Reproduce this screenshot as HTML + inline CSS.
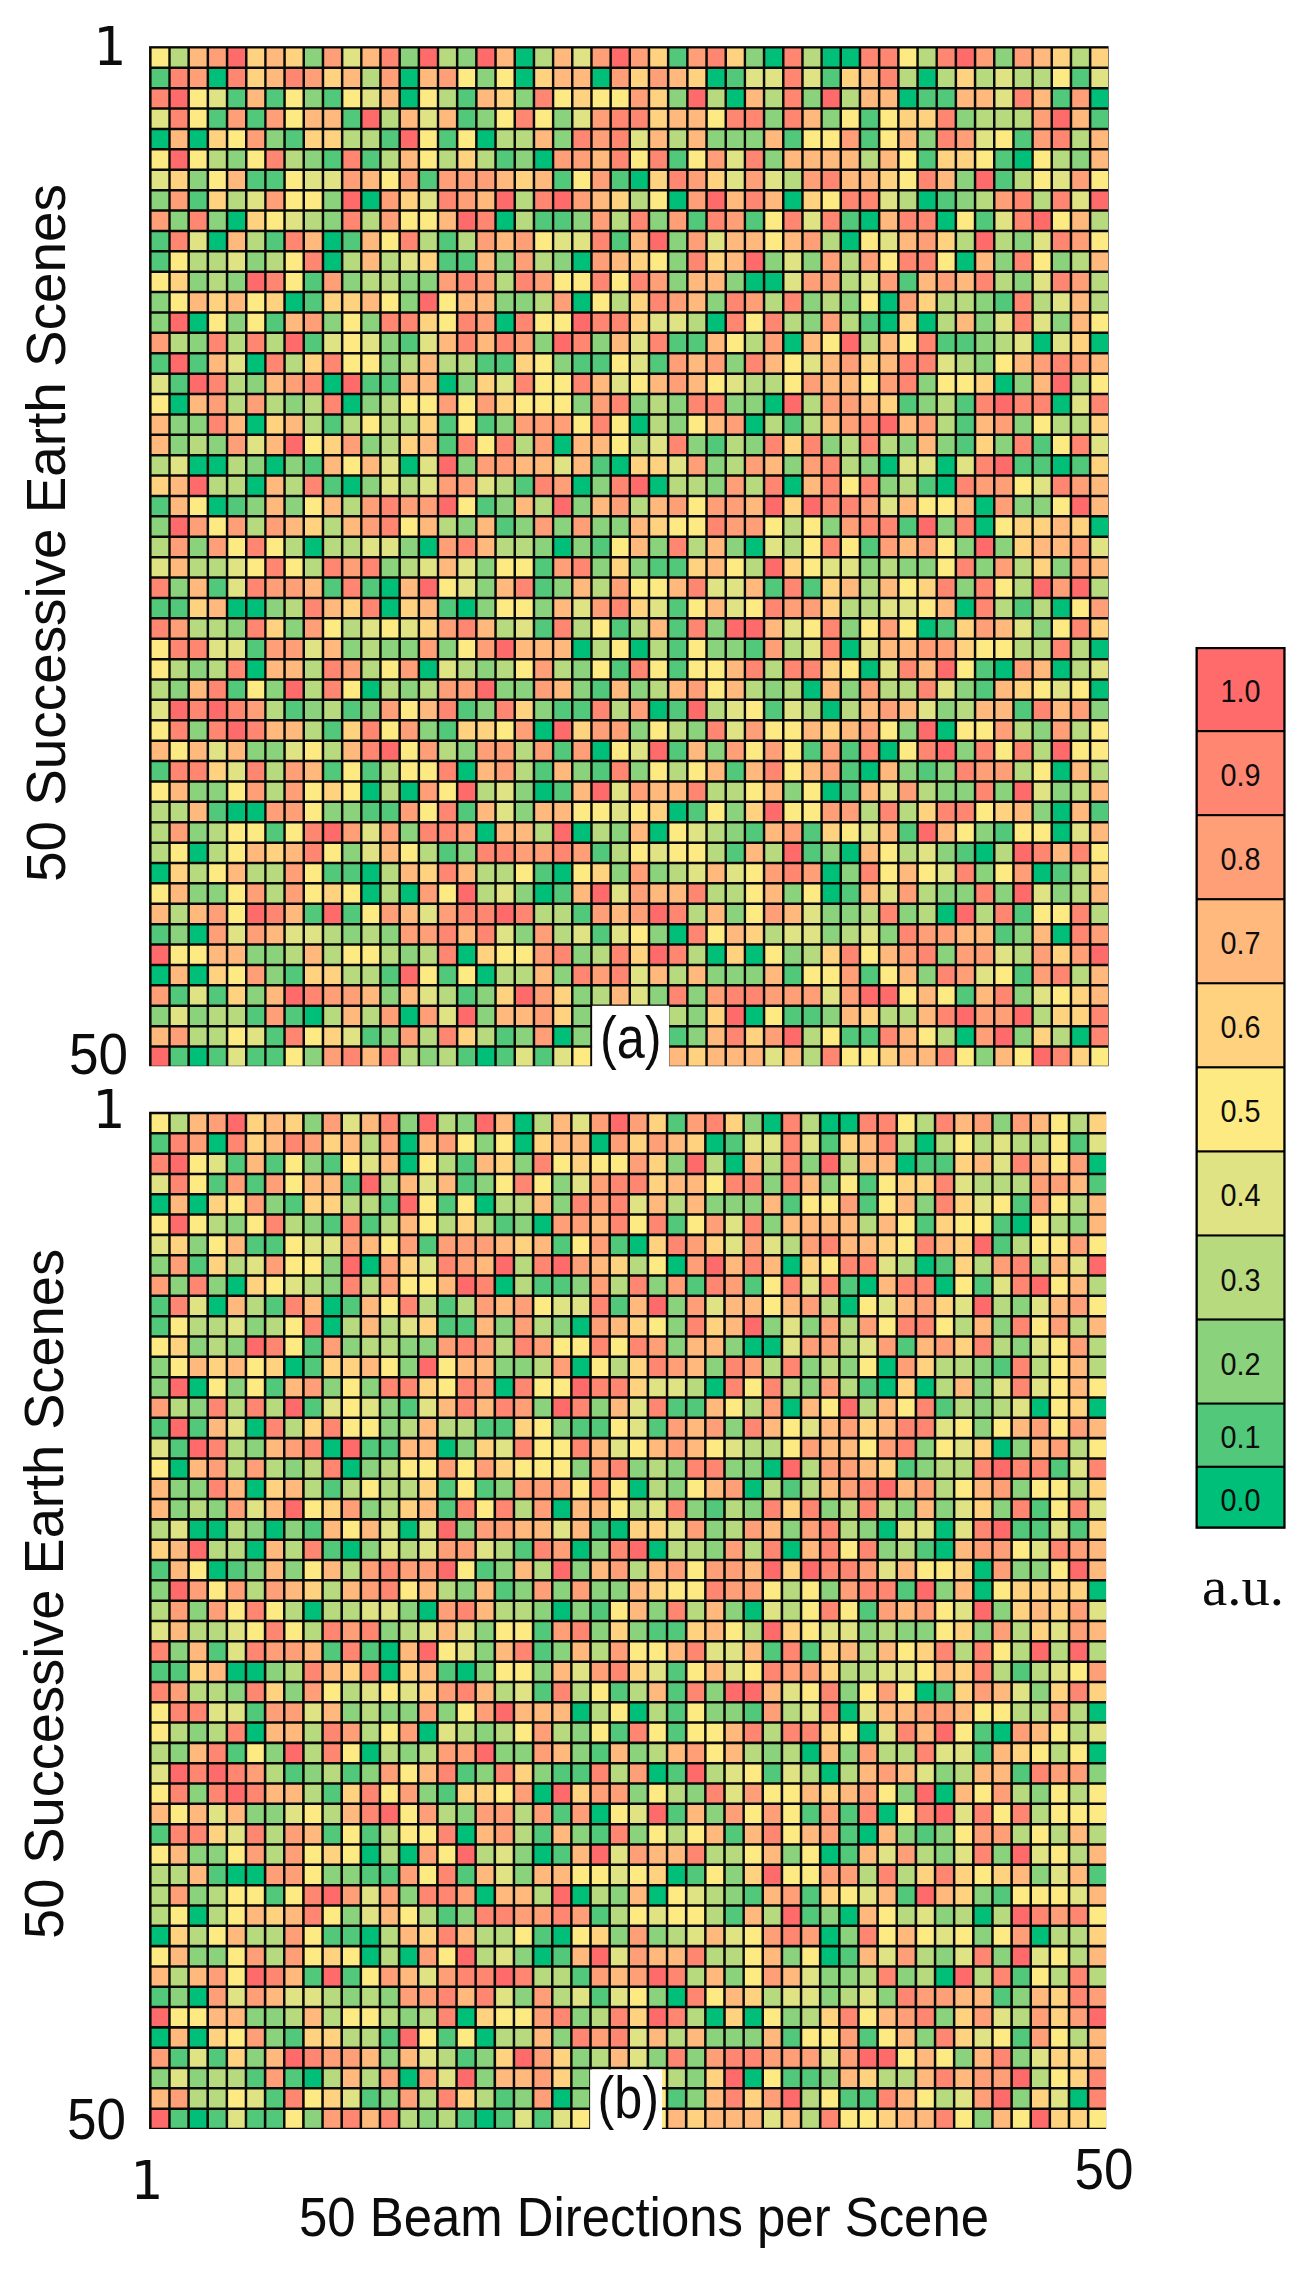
<!DOCTYPE html>
<html lang="en"><head><meta charset="utf-8"><title>Figure</title>
<style>
html,body{margin:0;padding:0;background:#fff;}
body{width:1303px;height:2273px;overflow:hidden;}
svg{display:block;}
text{font-family:"Liberation Sans",sans-serif;fill:#0c0c0c;}
text.cb{font-size:32px;}
text.serif{font-family:"Liberation Serif",serif;}
</style></head><body>
<svg width="1303" height="2273" viewBox="0 0 1303 2273" shape-rendering="geometricPrecision">
<rect width="1303" height="2273" fill="#fff"/>
<rect x="149.05" y="46.15" width="959.55" height="1020.05" fill="#0a0a05"/>
<path fill="#00bf78" d="M516.0 48.6h16.7v17.9h-16.7zM765.3 48.6h16.7v17.9h-16.7zM822.8 48.6h16.7v17.9h-16.7zM842.0 48.6h16.7v17.9h-16.7zM209.1 69.0h16.7v17.9h-16.7zM400.9 69.0h16.7v17.9h-16.7zM516.0 69.0h16.7v17.9h-16.7zM592.7 69.0h16.7v17.9h-16.7zM707.8 69.0h16.7v17.9h-16.7zM918.8 69.0h16.7v17.9h-16.7zM400.9 89.4h16.7v17.9h-16.7zM727.0 89.4h16.7v17.9h-16.7zM899.6 89.4h16.7v17.9h-16.7zM1091.4 89.4h16.7v17.9h-16.7zM151.6 130.2h16.7v17.9h-16.7zM189.9 130.2h16.7v17.9h-16.7zM477.6 130.2h16.7v17.9h-16.7zM535.2 150.6h16.7v17.9h-16.7zM1014.7 150.6h16.7v17.9h-16.7zM631.0 171.0h16.7v17.9h-16.7zM362.5 191.4h16.7v17.9h-16.7zM669.4 191.4h16.7v17.9h-16.7zM784.5 191.4h16.7v17.9h-16.7zM918.8 191.4h16.7v17.9h-16.7zM228.3 211.8h16.7v17.9h-16.7zM496.8 211.8h16.7v17.9h-16.7zM861.2 211.8h16.7v17.9h-16.7zM937.9 211.8h16.7v17.9h-16.7zM209.1 232.2h16.7v17.9h-16.7zM324.2 232.2h16.7v17.9h-16.7zM842.0 232.2h16.7v17.9h-16.7zM324.2 252.6h16.7v17.9h-16.7zM573.5 252.6h16.7v17.9h-16.7zM957.1 252.6h16.7v17.9h-16.7zM746.1 272.9h16.7v17.9h-16.7zM765.3 272.9h16.7v17.9h-16.7zM285.8 293.3h16.7v17.9h-16.7zM573.5 293.3h16.7v17.9h-16.7zM880.4 293.3h16.7v17.9h-16.7zM189.9 313.7h16.7v17.9h-16.7zM496.8 313.7h16.7v17.9h-16.7zM707.8 313.7h16.7v17.9h-16.7zM880.4 313.7h16.7v17.9h-16.7zM918.8 313.7h16.7v17.9h-16.7zM784.5 334.1h16.7v17.9h-16.7zM1033.8 334.1h16.7v17.9h-16.7zM1091.4 334.1h16.7v17.9h-16.7zM247.5 354.5h16.7v17.9h-16.7zM324.2 374.9h16.7v17.9h-16.7zM439.2 374.9h16.7v17.9h-16.7zM995.5 374.9h16.7v17.9h-16.7zM170.7 395.3h16.7v17.9h-16.7zM343.4 395.3h16.7v17.9h-16.7zM765.3 395.3h16.7v17.9h-16.7zM1053.0 395.3h16.7v17.9h-16.7zM247.5 415.7h16.7v17.9h-16.7zM631.0 415.7h16.7v17.9h-16.7zM746.1 415.7h16.7v17.9h-16.7zM554.3 436.1h16.7v17.9h-16.7zM189.9 456.4h16.7v17.9h-16.7zM209.1 456.4h16.7v17.9h-16.7zM266.6 456.4h16.7v17.9h-16.7zM400.9 456.4h16.7v17.9h-16.7zM611.9 456.4h16.7v17.9h-16.7zM880.4 456.4h16.7v17.9h-16.7zM937.9 456.4h16.7v17.9h-16.7zM1053.0 456.4h16.7v17.9h-16.7zM247.5 476.8h16.7v17.9h-16.7zM343.4 476.8h16.7v17.9h-16.7zM573.5 476.8h16.7v17.9h-16.7zM650.2 476.8h16.7v17.9h-16.7zM784.5 476.8h16.7v17.9h-16.7zM937.9 476.8h16.7v17.9h-16.7zM209.1 497.2h16.7v17.9h-16.7zM976.3 497.2h16.7v17.9h-16.7zM976.3 517.6h16.7v17.9h-16.7zM1091.4 517.6h16.7v17.9h-16.7zM305.0 538.0h16.7v17.9h-16.7zM420.1 538.0h16.7v17.9h-16.7zM554.3 538.0h16.7v17.9h-16.7zM746.1 538.0h16.7v17.9h-16.7zM381.7 578.8h16.7v17.9h-16.7zM228.3 599.2h16.7v17.9h-16.7zM247.5 599.2h16.7v17.9h-16.7zM381.7 599.2h16.7v17.9h-16.7zM458.4 599.2h16.7v17.9h-16.7zM957.1 599.2h16.7v17.9h-16.7zM1053.0 599.2h16.7v17.9h-16.7zM918.8 619.6h16.7v17.9h-16.7zM573.5 640.0h16.7v17.9h-16.7zM631.0 640.0h16.7v17.9h-16.7zM842.0 640.0h16.7v17.9h-16.7zM1091.4 640.0h16.7v17.9h-16.7zM247.5 660.4h16.7v17.9h-16.7zM420.1 660.4h16.7v17.9h-16.7zM861.2 660.4h16.7v17.9h-16.7zM995.5 660.4h16.7v17.9h-16.7zM1053.0 660.4h16.7v17.9h-16.7zM362.5 680.7h16.7v17.9h-16.7zM803.7 680.7h16.7v17.9h-16.7zM1091.4 680.7h16.7v17.9h-16.7zM650.2 701.1h16.7v17.9h-16.7zM822.8 701.1h16.7v17.9h-16.7zM535.2 721.5h16.7v17.9h-16.7zM937.9 721.5h16.7v17.9h-16.7zM592.7 741.9h16.7v17.9h-16.7zM880.4 741.9h16.7v17.9h-16.7zM458.4 762.3h16.7v17.9h-16.7zM861.2 762.3h16.7v17.9h-16.7zM1053.0 762.3h16.7v17.9h-16.7zM362.5 782.7h16.7v17.9h-16.7zM400.9 782.7h16.7v17.9h-16.7zM535.2 782.7h16.7v17.9h-16.7zM822.8 782.7h16.7v17.9h-16.7zM228.3 803.1h16.7v17.9h-16.7zM247.5 803.1h16.7v17.9h-16.7zM669.4 803.1h16.7v17.9h-16.7zM1053.0 803.1h16.7v17.9h-16.7zM477.6 823.5h16.7v17.9h-16.7zM573.5 823.5h16.7v17.9h-16.7zM650.2 823.5h16.7v17.9h-16.7zM1053.0 823.5h16.7v17.9h-16.7zM189.9 843.9h16.7v17.9h-16.7zM842.0 843.9h16.7v17.9h-16.7zM976.3 843.9h16.7v17.9h-16.7zM151.6 864.2h16.7v17.9h-16.7zM362.5 864.2h16.7v17.9h-16.7zM554.3 864.2h16.7v17.9h-16.7zM822.8 864.2h16.7v17.9h-16.7zM1033.8 864.2h16.7v17.9h-16.7zM362.5 884.6h16.7v17.9h-16.7zM400.9 884.6h16.7v17.9h-16.7zM535.2 884.6h16.7v17.9h-16.7zM822.8 884.6h16.7v17.9h-16.7zM937.9 905.0h16.7v17.9h-16.7zM189.9 925.4h16.7v17.9h-16.7zM669.4 925.4h16.7v17.9h-16.7zM1053.0 925.4h16.7v17.9h-16.7zM458.4 945.8h16.7v17.9h-16.7zM707.8 945.8h16.7v17.9h-16.7zM746.1 945.8h16.7v17.9h-16.7zM151.6 966.2h16.7v17.9h-16.7zM189.9 966.2h16.7v17.9h-16.7zM477.6 966.2h16.7v17.9h-16.7zM305.0 1007.0h16.7v17.9h-16.7zM400.9 1007.0h16.7v17.9h-16.7zM746.1 1007.0h16.7v17.9h-16.7zM554.3 1027.4h16.7v17.9h-16.7zM957.1 1027.4h16.7v17.9h-16.7zM1072.2 1027.4h16.7v17.9h-16.7zM189.9 1047.8h16.7v17.9h-16.7zM477.6 1047.8h16.7v17.9h-16.7z"/>
<path fill="#52c87b" d="M669.4 48.6h16.7v17.9h-16.7zM151.6 69.0h16.7v17.9h-16.7zM727.0 69.0h16.7v17.9h-16.7zM822.8 69.0h16.7v17.9h-16.7zM1072.2 69.0h16.7v17.9h-16.7zM228.3 89.4h16.7v17.9h-16.7zM266.6 89.4h16.7v17.9h-16.7zM324.2 89.4h16.7v17.9h-16.7zM458.4 89.4h16.7v17.9h-16.7zM918.8 89.4h16.7v17.9h-16.7zM937.9 89.4h16.7v17.9h-16.7zM1053.0 89.4h16.7v17.9h-16.7zM209.1 109.8h16.7v17.9h-16.7zM247.5 109.8h16.7v17.9h-16.7zM343.4 109.8h16.7v17.9h-16.7zM458.4 109.8h16.7v17.9h-16.7zM861.2 109.8h16.7v17.9h-16.7zM1091.4 109.8h16.7v17.9h-16.7zM285.8 130.2h16.7v17.9h-16.7zM381.7 130.2h16.7v17.9h-16.7zM439.2 130.2h16.7v17.9h-16.7zM784.5 130.2h16.7v17.9h-16.7zM861.2 130.2h16.7v17.9h-16.7zM1014.7 130.2h16.7v17.9h-16.7zM324.2 150.6h16.7v17.9h-16.7zM362.5 150.6h16.7v17.9h-16.7zM496.8 150.6h16.7v17.9h-16.7zM669.4 150.6h16.7v17.9h-16.7zM918.8 150.6h16.7v17.9h-16.7zM995.5 150.6h16.7v17.9h-16.7zM247.5 171.0h16.7v17.9h-16.7zM266.6 171.0h16.7v17.9h-16.7zM420.1 171.0h16.7v17.9h-16.7zM554.3 171.0h16.7v17.9h-16.7zM611.9 171.0h16.7v17.9h-16.7zM995.5 171.0h16.7v17.9h-16.7zM189.9 191.4h16.7v17.9h-16.7zM937.9 191.4h16.7v17.9h-16.7zM535.2 211.8h16.7v17.9h-16.7zM554.3 211.8h16.7v17.9h-16.7zM688.6 211.8h16.7v17.9h-16.7zM746.1 211.8h16.7v17.9h-16.7zM842.0 211.8h16.7v17.9h-16.7zM976.3 211.8h16.7v17.9h-16.7zM151.6 232.2h16.7v17.9h-16.7zM266.6 232.2h16.7v17.9h-16.7zM343.4 232.2h16.7v17.9h-16.7zM439.2 232.2h16.7v17.9h-16.7zM611.9 232.2h16.7v17.9h-16.7zM151.6 252.6h16.7v17.9h-16.7zM439.2 252.6h16.7v17.9h-16.7zM458.4 252.6h16.7v17.9h-16.7zM305.0 272.9h16.7v17.9h-16.7zM899.6 272.9h16.7v17.9h-16.7zM305.0 293.3h16.7v17.9h-16.7zM995.5 293.3h16.7v17.9h-16.7zM266.6 313.7h16.7v17.9h-16.7zM861.2 313.7h16.7v17.9h-16.7zM305.0 334.1h16.7v17.9h-16.7zM400.9 334.1h16.7v17.9h-16.7zM669.4 334.1h16.7v17.9h-16.7zM688.6 334.1h16.7v17.9h-16.7zM937.9 334.1h16.7v17.9h-16.7zM957.1 334.1h16.7v17.9h-16.7zM151.6 354.5h16.7v17.9h-16.7zM189.9 354.5h16.7v17.9h-16.7zM477.6 354.5h16.7v17.9h-16.7zM496.8 354.5h16.7v17.9h-16.7zM573.5 354.5h16.7v17.9h-16.7zM592.7 354.5h16.7v17.9h-16.7zM650.2 354.5h16.7v17.9h-16.7zM170.7 374.9h16.7v17.9h-16.7zM362.5 374.9h16.7v17.9h-16.7zM381.7 374.9h16.7v17.9h-16.7zM899.6 395.3h16.7v17.9h-16.7zM957.1 395.3h16.7v17.9h-16.7zM324.2 415.7h16.7v17.9h-16.7zM439.2 415.7h16.7v17.9h-16.7zM477.6 415.7h16.7v17.9h-16.7zM784.5 415.7h16.7v17.9h-16.7zM957.1 415.7h16.7v17.9h-16.7zM439.2 436.1h16.7v17.9h-16.7zM707.8 436.1h16.7v17.9h-16.7zM957.1 436.1h16.7v17.9h-16.7zM1033.8 436.1h16.7v17.9h-16.7zM305.0 456.4h16.7v17.9h-16.7zM592.7 456.4h16.7v17.9h-16.7zM1014.7 456.4h16.7v17.9h-16.7zM1033.8 456.4h16.7v17.9h-16.7zM1072.2 456.4h16.7v17.9h-16.7zM324.2 476.8h16.7v17.9h-16.7zM516.0 476.8h16.7v17.9h-16.7zM918.8 476.8h16.7v17.9h-16.7zM151.6 497.2h16.7v17.9h-16.7zM228.3 497.2h16.7v17.9h-16.7zM477.6 497.2h16.7v17.9h-16.7zM496.8 517.6h16.7v17.9h-16.7zM899.6 517.6h16.7v17.9h-16.7zM592.7 538.0h16.7v17.9h-16.7zM861.2 538.0h16.7v17.9h-16.7zM535.2 558.4h16.7v17.9h-16.7zM650.2 558.4h16.7v17.9h-16.7zM669.4 558.4h16.7v17.9h-16.7zM209.1 578.8h16.7v17.9h-16.7zM324.2 578.8h16.7v17.9h-16.7zM362.5 578.8h16.7v17.9h-16.7zM535.2 578.8h16.7v17.9h-16.7zM765.3 578.8h16.7v17.9h-16.7zM803.7 578.8h16.7v17.9h-16.7zM151.6 599.2h16.7v17.9h-16.7zM170.7 599.2h16.7v17.9h-16.7zM439.2 599.2h16.7v17.9h-16.7zM669.4 599.2h16.7v17.9h-16.7zM1014.7 599.2h16.7v17.9h-16.7zM535.2 619.6h16.7v17.9h-16.7zM611.9 619.6h16.7v17.9h-16.7zM669.4 619.6h16.7v17.9h-16.7zM937.9 619.6h16.7v17.9h-16.7zM247.5 640.0h16.7v17.9h-16.7zM669.4 640.0h16.7v17.9h-16.7zM746.1 640.0h16.7v17.9h-16.7zM611.9 660.4h16.7v17.9h-16.7zM669.4 660.4h16.7v17.9h-16.7zM976.3 660.4h16.7v17.9h-16.7zM228.3 680.7h16.7v17.9h-16.7zM592.7 680.7h16.7v17.9h-16.7zM976.3 680.7h16.7v17.9h-16.7zM285.8 701.1h16.7v17.9h-16.7zM343.4 701.1h16.7v17.9h-16.7zM458.4 701.1h16.7v17.9h-16.7zM554.3 701.1h16.7v17.9h-16.7zM573.5 701.1h16.7v17.9h-16.7zM669.4 701.1h16.7v17.9h-16.7zM765.3 701.1h16.7v17.9h-16.7zM1014.7 701.1h16.7v17.9h-16.7zM324.2 721.5h16.7v17.9h-16.7zM439.2 721.5h16.7v17.9h-16.7zM554.3 741.9h16.7v17.9h-16.7zM669.4 741.9h16.7v17.9h-16.7zM803.7 741.9h16.7v17.9h-16.7zM842.0 741.9h16.7v17.9h-16.7zM151.6 762.3h16.7v17.9h-16.7zM324.2 762.3h16.7v17.9h-16.7zM362.5 762.3h16.7v17.9h-16.7zM535.2 762.3h16.7v17.9h-16.7zM592.7 762.3h16.7v17.9h-16.7zM727.0 762.3h16.7v17.9h-16.7zM842.0 762.3h16.7v17.9h-16.7zM918.8 762.3h16.7v17.9h-16.7zM554.3 782.7h16.7v17.9h-16.7zM842.0 782.7h16.7v17.9h-16.7zM209.1 803.1h16.7v17.9h-16.7zM362.5 803.1h16.7v17.9h-16.7zM381.7 803.1h16.7v17.9h-16.7zM458.4 803.1h16.7v17.9h-16.7zM688.6 803.1h16.7v17.9h-16.7zM1091.4 803.1h16.7v17.9h-16.7zM266.6 823.5h16.7v17.9h-16.7zM746.1 823.5h16.7v17.9h-16.7zM803.7 823.5h16.7v17.9h-16.7zM899.6 823.5h16.7v17.9h-16.7zM995.5 823.5h16.7v17.9h-16.7zM439.2 843.9h16.7v17.9h-16.7zM592.7 843.9h16.7v17.9h-16.7zM727.0 843.9h16.7v17.9h-16.7zM803.7 843.9h16.7v17.9h-16.7zM957.1 843.9h16.7v17.9h-16.7zM324.2 864.2h16.7v17.9h-16.7zM343.4 864.2h16.7v17.9h-16.7zM535.2 864.2h16.7v17.9h-16.7zM1053.0 864.2h16.7v17.9h-16.7zM554.3 884.6h16.7v17.9h-16.7zM842.0 884.6h16.7v17.9h-16.7zM305.0 905.0h16.7v17.9h-16.7zM343.4 905.0h16.7v17.9h-16.7zM573.5 905.0h16.7v17.9h-16.7zM1014.7 905.0h16.7v17.9h-16.7zM151.6 925.4h16.7v17.9h-16.7zM592.7 925.4h16.7v17.9h-16.7zM995.5 925.4h16.7v17.9h-16.7zM285.8 966.2h16.7v17.9h-16.7zM381.7 966.2h16.7v17.9h-16.7zM439.2 966.2h16.7v17.9h-16.7zM784.5 966.2h16.7v17.9h-16.7zM861.2 966.2h16.7v17.9h-16.7zM1014.7 966.2h16.7v17.9h-16.7zM170.7 986.6h16.7v17.9h-16.7zM209.1 986.6h16.7v17.9h-16.7zM458.4 986.6h16.7v17.9h-16.7zM957.1 986.6h16.7v17.9h-16.7zM247.5 1007.0h16.7v17.9h-16.7zM285.8 1007.0h16.7v17.9h-16.7zM784.5 1007.0h16.7v17.9h-16.7zM803.7 1007.0h16.7v17.9h-16.7zM266.6 1027.4h16.7v17.9h-16.7zM362.5 1027.4h16.7v17.9h-16.7zM496.8 1027.4h16.7v17.9h-16.7zM669.4 1027.4h16.7v17.9h-16.7zM842.0 1027.4h16.7v17.9h-16.7zM861.2 1027.4h16.7v17.9h-16.7zM170.7 1047.8h16.7v17.9h-16.7zM209.1 1047.8h16.7v17.9h-16.7zM247.5 1047.8h16.7v17.9h-16.7zM266.6 1047.8h16.7v17.9h-16.7zM458.4 1047.8h16.7v17.9h-16.7zM496.8 1047.8h16.7v17.9h-16.7zM535.2 1047.8h16.7v17.9h-16.7z"/>
<path fill="#8bd27d" d="M305.0 48.6h16.7v17.9h-16.7zM400.9 48.6h16.7v17.9h-16.7zM458.4 48.6h16.7v17.9h-16.7zM746.1 48.6h16.7v17.9h-16.7zM995.5 48.6h16.7v17.9h-16.7zM477.6 69.0h16.7v17.9h-16.7zM305.0 89.4h16.7v17.9h-16.7zM516.0 89.4h16.7v17.9h-16.7zM669.4 89.4h16.7v17.9h-16.7zM803.7 89.4h16.7v17.9h-16.7zM477.6 109.8h16.7v17.9h-16.7zM554.3 109.8h16.7v17.9h-16.7zM765.3 109.8h16.7v17.9h-16.7zM822.8 109.8h16.7v17.9h-16.7zM957.1 109.8h16.7v17.9h-16.7zM266.6 130.2h16.7v17.9h-16.7zM554.3 130.2h16.7v17.9h-16.7zM707.8 130.2h16.7v17.9h-16.7zM727.0 130.2h16.7v17.9h-16.7zM746.1 130.2h16.7v17.9h-16.7zM918.8 130.2h16.7v17.9h-16.7zM228.3 150.6h16.7v17.9h-16.7zM305.0 150.6h16.7v17.9h-16.7zM516.0 150.6h16.7v17.9h-16.7zM765.3 150.6h16.7v17.9h-16.7zM1072.2 150.6h16.7v17.9h-16.7zM189.9 171.0h16.7v17.9h-16.7zM957.1 171.0h16.7v17.9h-16.7zM151.6 191.4h16.7v17.9h-16.7zM324.2 191.4h16.7v17.9h-16.7zM957.1 191.4h16.7v17.9h-16.7zM170.7 211.8h16.7v17.9h-16.7zM209.1 211.8h16.7v17.9h-16.7zM324.2 211.8h16.7v17.9h-16.7zM573.5 211.8h16.7v17.9h-16.7zM650.2 211.8h16.7v17.9h-16.7zM669.4 232.2h16.7v17.9h-16.7zM1014.7 232.2h16.7v17.9h-16.7zM247.5 252.6h16.7v17.9h-16.7zM496.8 252.6h16.7v17.9h-16.7zM554.3 252.6h16.7v17.9h-16.7zM669.4 252.6h16.7v17.9h-16.7zM765.3 252.6h16.7v17.9h-16.7zM803.7 252.6h16.7v17.9h-16.7zM995.5 252.6h16.7v17.9h-16.7zM1053.0 252.6h16.7v17.9h-16.7zM189.9 272.9h16.7v17.9h-16.7zM228.3 272.9h16.7v17.9h-16.7zM343.4 272.9h16.7v17.9h-16.7zM400.9 272.9h16.7v17.9h-16.7zM420.1 272.9h16.7v17.9h-16.7zM669.4 272.9h16.7v17.9h-16.7zM727.0 272.9h16.7v17.9h-16.7zM1014.7 272.9h16.7v17.9h-16.7zM151.6 293.3h16.7v17.9h-16.7zM400.9 293.3h16.7v17.9h-16.7zM496.8 293.3h16.7v17.9h-16.7zM516.0 293.3h16.7v17.9h-16.7zM707.8 293.3h16.7v17.9h-16.7zM803.7 293.3h16.7v17.9h-16.7zM842.0 293.3h16.7v17.9h-16.7zM976.3 293.3h16.7v17.9h-16.7zM151.6 313.7h16.7v17.9h-16.7zM228.3 313.7h16.7v17.9h-16.7zM324.2 313.7h16.7v17.9h-16.7zM362.5 313.7h16.7v17.9h-16.7zM803.7 313.7h16.7v17.9h-16.7zM976.3 313.7h16.7v17.9h-16.7zM1053.0 313.7h16.7v17.9h-16.7zM189.9 334.1h16.7v17.9h-16.7zM381.7 334.1h16.7v17.9h-16.7zM535.2 334.1h16.7v17.9h-16.7zM592.7 334.1h16.7v17.9h-16.7zM976.3 334.1h16.7v17.9h-16.7zM381.7 354.5h16.7v17.9h-16.7zM554.3 354.5h16.7v17.9h-16.7zM727.0 354.5h16.7v17.9h-16.7zM976.3 354.5h16.7v17.9h-16.7zM247.5 374.9h16.7v17.9h-16.7zM458.4 374.9h16.7v17.9h-16.7zM918.8 374.9h16.7v17.9h-16.7zM1014.7 374.9h16.7v17.9h-16.7zM285.8 395.3h16.7v17.9h-16.7zM362.5 395.3h16.7v17.9h-16.7zM573.5 395.3h16.7v17.9h-16.7zM631.0 395.3h16.7v17.9h-16.7zM669.4 395.3h16.7v17.9h-16.7zM727.0 395.3h16.7v17.9h-16.7zM746.1 395.3h16.7v17.9h-16.7zM918.8 395.3h16.7v17.9h-16.7zM170.7 415.7h16.7v17.9h-16.7zM189.9 415.7h16.7v17.9h-16.7zM496.8 415.7h16.7v17.9h-16.7zM669.4 415.7h16.7v17.9h-16.7zM1014.7 415.7h16.7v17.9h-16.7zM170.7 436.1h16.7v17.9h-16.7zM209.1 436.1h16.7v17.9h-16.7zM362.5 436.1h16.7v17.9h-16.7zM688.6 436.1h16.7v17.9h-16.7zM746.1 436.1h16.7v17.9h-16.7zM822.8 436.1h16.7v17.9h-16.7zM899.6 436.1h16.7v17.9h-16.7zM937.9 436.1h16.7v17.9h-16.7zM995.5 436.1h16.7v17.9h-16.7zM247.5 456.4h16.7v17.9h-16.7zM285.8 456.4h16.7v17.9h-16.7zM458.4 456.4h16.7v17.9h-16.7zM707.8 456.4h16.7v17.9h-16.7zM784.5 456.4h16.7v17.9h-16.7zM861.2 456.4h16.7v17.9h-16.7zM362.5 476.8h16.7v17.9h-16.7zM592.7 476.8h16.7v17.9h-16.7zM707.8 476.8h16.7v17.9h-16.7zM880.4 476.8h16.7v17.9h-16.7zM247.5 497.2h16.7v17.9h-16.7zM285.8 497.2h16.7v17.9h-16.7zM496.8 497.2h16.7v17.9h-16.7zM573.5 497.2h16.7v17.9h-16.7zM1014.7 497.2h16.7v17.9h-16.7zM1033.8 497.2h16.7v17.9h-16.7zM151.6 517.6h16.7v17.9h-16.7zM458.4 517.6h16.7v17.9h-16.7zM516.0 517.6h16.7v17.9h-16.7zM554.3 517.6h16.7v17.9h-16.7zM592.7 517.6h16.7v17.9h-16.7zM611.9 517.6h16.7v17.9h-16.7zM822.8 517.6h16.7v17.9h-16.7zM937.9 517.6h16.7v17.9h-16.7zM189.9 538.0h16.7v17.9h-16.7zM400.9 538.0h16.7v17.9h-16.7zM535.2 538.0h16.7v17.9h-16.7zM573.5 538.0h16.7v17.9h-16.7zM650.2 538.0h16.7v17.9h-16.7zM727.0 538.0h16.7v17.9h-16.7zM957.1 538.0h16.7v17.9h-16.7zM995.5 538.0h16.7v17.9h-16.7zM381.7 558.4h16.7v17.9h-16.7zM477.6 558.4h16.7v17.9h-16.7zM592.7 558.4h16.7v17.9h-16.7zM631.0 558.4h16.7v17.9h-16.7zM861.2 558.4h16.7v17.9h-16.7zM899.6 558.4h16.7v17.9h-16.7zM918.8 558.4h16.7v17.9h-16.7zM976.3 558.4h16.7v17.9h-16.7zM1053.0 558.4h16.7v17.9h-16.7zM170.7 578.8h16.7v17.9h-16.7zM477.6 578.8h16.7v17.9h-16.7zM554.3 578.8h16.7v17.9h-16.7zM957.1 578.8h16.7v17.9h-16.7zM266.6 599.2h16.7v17.9h-16.7zM477.6 599.2h16.7v17.9h-16.7zM535.2 599.2h16.7v17.9h-16.7zM228.3 619.6h16.7v17.9h-16.7zM285.8 619.6h16.7v17.9h-16.7zM707.8 619.6h16.7v17.9h-16.7zM842.0 619.6h16.7v17.9h-16.7zM1033.8 619.6h16.7v17.9h-16.7zM343.4 640.0h16.7v17.9h-16.7zM381.7 640.0h16.7v17.9h-16.7zM400.9 640.0h16.7v17.9h-16.7zM439.2 640.0h16.7v17.9h-16.7zM707.8 640.0h16.7v17.9h-16.7zM727.0 640.0h16.7v17.9h-16.7zM189.9 660.4h16.7v17.9h-16.7zM477.6 660.4h16.7v17.9h-16.7zM573.5 660.4h16.7v17.9h-16.7zM170.7 680.7h16.7v17.9h-16.7zM266.6 680.7h16.7v17.9h-16.7zM400.9 680.7h16.7v17.9h-16.7zM496.8 680.7h16.7v17.9h-16.7zM516.0 680.7h16.7v17.9h-16.7zM573.5 680.7h16.7v17.9h-16.7zM631.0 680.7h16.7v17.9h-16.7zM765.3 680.7h16.7v17.9h-16.7zM842.0 680.7h16.7v17.9h-16.7zM957.1 680.7h16.7v17.9h-16.7zM305.0 701.1h16.7v17.9h-16.7zM362.5 701.1h16.7v17.9h-16.7zM477.6 701.1h16.7v17.9h-16.7zM535.2 701.1h16.7v17.9h-16.7zM937.9 701.1h16.7v17.9h-16.7zM1091.4 701.1h16.7v17.9h-16.7zM189.9 721.5h16.7v17.9h-16.7zM420.1 721.5h16.7v17.9h-16.7zM631.0 721.5h16.7v17.9h-16.7zM688.6 721.5h16.7v17.9h-16.7zM899.6 721.5h16.7v17.9h-16.7zM1033.8 721.5h16.7v17.9h-16.7zM247.5 741.9h16.7v17.9h-16.7zM266.6 741.9h16.7v17.9h-16.7zM458.4 741.9h16.7v17.9h-16.7zM707.8 741.9h16.7v17.9h-16.7zM957.1 741.9h16.7v17.9h-16.7zM573.5 762.3h16.7v17.9h-16.7zM631.0 762.3h16.7v17.9h-16.7zM899.6 762.3h16.7v17.9h-16.7zM937.9 762.3h16.7v17.9h-16.7zM189.9 782.7h16.7v17.9h-16.7zM209.1 782.7h16.7v17.9h-16.7zM516.0 782.7h16.7v17.9h-16.7zM784.5 782.7h16.7v17.9h-16.7zM937.9 782.7h16.7v17.9h-16.7zM957.1 782.7h16.7v17.9h-16.7zM995.5 782.7h16.7v17.9h-16.7zM1053.0 782.7h16.7v17.9h-16.7zM324.2 803.1h16.7v17.9h-16.7zM343.4 803.1h16.7v17.9h-16.7zM516.0 803.1h16.7v17.9h-16.7zM727.0 803.1h16.7v17.9h-16.7zM1033.8 803.1h16.7v17.9h-16.7zM189.9 823.5h16.7v17.9h-16.7zM400.9 823.5h16.7v17.9h-16.7zM611.9 823.5h16.7v17.9h-16.7zM727.0 823.5h16.7v17.9h-16.7zM976.3 823.5h16.7v17.9h-16.7zM343.4 843.9h16.7v17.9h-16.7zM458.4 843.9h16.7v17.9h-16.7zM822.8 843.9h16.7v17.9h-16.7zM937.9 843.9h16.7v17.9h-16.7zM611.9 864.2h16.7v17.9h-16.7zM650.2 864.2h16.7v17.9h-16.7zM842.0 864.2h16.7v17.9h-16.7zM976.3 864.2h16.7v17.9h-16.7zM189.9 884.6h16.7v17.9h-16.7zM209.1 884.6h16.7v17.9h-16.7zM516.0 884.6h16.7v17.9h-16.7zM784.5 884.6h16.7v17.9h-16.7zM937.9 884.6h16.7v17.9h-16.7zM957.1 884.6h16.7v17.9h-16.7zM995.5 884.6h16.7v17.9h-16.7zM1053.0 884.6h16.7v17.9h-16.7zM727.0 905.0h16.7v17.9h-16.7zM822.8 905.0h16.7v17.9h-16.7zM842.0 905.0h16.7v17.9h-16.7zM899.6 905.0h16.7v17.9h-16.7zM170.7 925.4h16.7v17.9h-16.7zM343.4 925.4h16.7v17.9h-16.7zM381.7 925.4h16.7v17.9h-16.7zM516.0 925.4h16.7v17.9h-16.7zM650.2 925.4h16.7v17.9h-16.7zM822.8 925.4h16.7v17.9h-16.7zM880.4 925.4h16.7v17.9h-16.7zM1014.7 925.4h16.7v17.9h-16.7zM247.5 945.8h16.7v17.9h-16.7zM266.6 945.8h16.7v17.9h-16.7zM400.9 945.8h16.7v17.9h-16.7zM573.5 945.8h16.7v17.9h-16.7zM784.5 945.8h16.7v17.9h-16.7zM937.9 945.8h16.7v17.9h-16.7zM266.6 966.2h16.7v17.9h-16.7zM554.3 966.2h16.7v17.9h-16.7zM707.8 966.2h16.7v17.9h-16.7zM727.0 966.2h16.7v17.9h-16.7zM746.1 966.2h16.7v17.9h-16.7zM918.8 966.2h16.7v17.9h-16.7zM247.5 986.6h16.7v17.9h-16.7zM381.7 986.6h16.7v17.9h-16.7zM477.6 986.6h16.7v17.9h-16.7zM573.5 986.6h16.7v17.9h-16.7zM650.2 986.6h16.7v17.9h-16.7zM688.6 986.6h16.7v17.9h-16.7zM1014.7 986.6h16.7v17.9h-16.7zM151.6 1007.0h16.7v17.9h-16.7zM189.9 1007.0h16.7v17.9h-16.7zM477.6 1007.0h16.7v17.9h-16.7zM573.5 1007.0h16.7v17.9h-16.7zM688.6 1007.0h16.7v17.9h-16.7zM822.8 1007.0h16.7v17.9h-16.7zM381.7 1027.4h16.7v17.9h-16.7zM516.0 1027.4h16.7v17.9h-16.7zM573.5 1027.4h16.7v17.9h-16.7zM688.6 1027.4h16.7v17.9h-16.7zM1014.7 1027.4h16.7v17.9h-16.7zM305.0 1047.8h16.7v17.9h-16.7zM420.1 1047.8h16.7v17.9h-16.7zM976.3 1047.8h16.7v17.9h-16.7z"/>
<path fill="#b8da7e" d="M170.7 48.6h16.7v17.9h-16.7zM439.2 48.6h16.7v17.9h-16.7zM535.2 48.6h16.7v17.9h-16.7zM803.7 48.6h16.7v17.9h-16.7zM918.8 48.6h16.7v17.9h-16.7zM1072.2 48.6h16.7v17.9h-16.7zM362.5 69.0h16.7v17.9h-16.7zM899.6 69.0h16.7v17.9h-16.7zM937.9 69.0h16.7v17.9h-16.7zM976.3 69.0h16.7v17.9h-16.7zM1014.7 69.0h16.7v17.9h-16.7zM1033.8 69.0h16.7v17.9h-16.7zM439.2 89.4h16.7v17.9h-16.7zM707.8 89.4h16.7v17.9h-16.7zM765.3 89.4h16.7v17.9h-16.7zM842.0 89.4h16.7v17.9h-16.7zM381.7 109.8h16.7v17.9h-16.7zM976.3 109.8h16.7v17.9h-16.7zM995.5 109.8h16.7v17.9h-16.7zM1014.7 109.8h16.7v17.9h-16.7zM343.4 130.2h16.7v17.9h-16.7zM362.5 130.2h16.7v17.9h-16.7zM496.8 130.2h16.7v17.9h-16.7zM516.0 130.2h16.7v17.9h-16.7zM669.4 130.2h16.7v17.9h-16.7zM1072.2 130.2h16.7v17.9h-16.7zM209.1 150.6h16.7v17.9h-16.7zM285.8 150.6h16.7v17.9h-16.7zM381.7 150.6h16.7v17.9h-16.7zM439.2 150.6h16.7v17.9h-16.7zM477.6 150.6h16.7v17.9h-16.7zM861.2 150.6h16.7v17.9h-16.7zM1053.0 150.6h16.7v17.9h-16.7zM784.5 171.0h16.7v17.9h-16.7zM1014.7 171.0h16.7v17.9h-16.7zM228.3 191.4h16.7v17.9h-16.7zM516.0 191.4h16.7v17.9h-16.7zM631.0 191.4h16.7v17.9h-16.7zM899.6 191.4h16.7v17.9h-16.7zM976.3 191.4h16.7v17.9h-16.7zM1033.8 191.4h16.7v17.9h-16.7zM305.0 211.8h16.7v17.9h-16.7zM362.5 211.8h16.7v17.9h-16.7zM516.0 211.8h16.7v17.9h-16.7zM611.9 211.8h16.7v17.9h-16.7zM1091.4 211.8h16.7v17.9h-16.7zM247.5 232.2h16.7v17.9h-16.7zM420.1 232.2h16.7v17.9h-16.7zM458.4 232.2h16.7v17.9h-16.7zM822.8 232.2h16.7v17.9h-16.7zM957.1 232.2h16.7v17.9h-16.7zM995.5 232.2h16.7v17.9h-16.7zM189.9 252.6h16.7v17.9h-16.7zM209.1 252.6h16.7v17.9h-16.7zM266.6 252.6h16.7v17.9h-16.7zM343.4 252.6h16.7v17.9h-16.7zM381.7 252.6h16.7v17.9h-16.7zM535.2 252.6h16.7v17.9h-16.7zM842.0 252.6h16.7v17.9h-16.7zM1072.2 252.6h16.7v17.9h-16.7zM209.1 272.9h16.7v17.9h-16.7zM362.5 272.9h16.7v17.9h-16.7zM381.7 272.9h16.7v17.9h-16.7zM496.8 272.9h16.7v17.9h-16.7zM842.0 272.9h16.7v17.9h-16.7zM995.5 272.9h16.7v17.9h-16.7zM1091.4 272.9h16.7v17.9h-16.7zM535.2 293.3h16.7v17.9h-16.7zM611.9 293.3h16.7v17.9h-16.7zM765.3 293.3h16.7v17.9h-16.7zM822.8 293.3h16.7v17.9h-16.7zM937.9 293.3h16.7v17.9h-16.7zM957.1 293.3h16.7v17.9h-16.7zM1033.8 293.3h16.7v17.9h-16.7zM1091.4 293.3h16.7v17.9h-16.7zM688.6 313.7h16.7v17.9h-16.7zM784.5 313.7h16.7v17.9h-16.7zM842.0 313.7h16.7v17.9h-16.7zM937.9 313.7h16.7v17.9h-16.7zM170.7 334.1h16.7v17.9h-16.7zM228.3 334.1h16.7v17.9h-16.7zM266.6 334.1h16.7v17.9h-16.7zM746.1 334.1h16.7v17.9h-16.7zM861.2 334.1h16.7v17.9h-16.7zM995.5 334.1h16.7v17.9h-16.7zM285.8 354.5h16.7v17.9h-16.7zM400.9 354.5h16.7v17.9h-16.7zM439.2 354.5h16.7v17.9h-16.7zM458.4 354.5h16.7v17.9h-16.7zM957.1 354.5h16.7v17.9h-16.7zM228.3 374.9h16.7v17.9h-16.7zM746.1 374.9h16.7v17.9h-16.7zM765.3 374.9h16.7v17.9h-16.7zM1072.2 374.9h16.7v17.9h-16.7zM228.3 395.3h16.7v17.9h-16.7zM266.6 395.3h16.7v17.9h-16.7zM305.0 395.3h16.7v17.9h-16.7zM381.7 395.3h16.7v17.9h-16.7zM650.2 395.3h16.7v17.9h-16.7zM803.7 395.3h16.7v17.9h-16.7zM937.9 395.3h16.7v17.9h-16.7zM305.0 415.7h16.7v17.9h-16.7zM343.4 415.7h16.7v17.9h-16.7zM381.7 415.7h16.7v17.9h-16.7zM400.9 415.7h16.7v17.9h-16.7zM650.2 415.7h16.7v17.9h-16.7zM765.3 415.7h16.7v17.9h-16.7zM803.7 415.7h16.7v17.9h-16.7zM937.9 415.7h16.7v17.9h-16.7zM1053.0 415.7h16.7v17.9h-16.7zM1072.2 415.7h16.7v17.9h-16.7zM189.9 436.1h16.7v17.9h-16.7zM381.7 436.1h16.7v17.9h-16.7zM516.0 436.1h16.7v17.9h-16.7zM631.0 436.1h16.7v17.9h-16.7zM727.0 436.1h16.7v17.9h-16.7zM842.0 436.1h16.7v17.9h-16.7zM880.4 436.1h16.7v17.9h-16.7zM151.6 456.4h16.7v17.9h-16.7zM228.3 456.4h16.7v17.9h-16.7zM727.0 456.4h16.7v17.9h-16.7zM842.0 456.4h16.7v17.9h-16.7zM209.1 476.8h16.7v17.9h-16.7zM228.3 476.8h16.7v17.9h-16.7zM285.8 476.8h16.7v17.9h-16.7zM400.9 476.8h16.7v17.9h-16.7zM496.8 476.8h16.7v17.9h-16.7zM669.4 476.8h16.7v17.9h-16.7zM688.6 476.8h16.7v17.9h-16.7zM746.1 476.8h16.7v17.9h-16.7zM899.6 476.8h16.7v17.9h-16.7zM343.4 497.2h16.7v17.9h-16.7zM535.2 497.2h16.7v17.9h-16.7zM631.0 497.2h16.7v17.9h-16.7zM247.5 517.6h16.7v17.9h-16.7zM324.2 517.6h16.7v17.9h-16.7zM439.2 517.6h16.7v17.9h-16.7zM784.5 517.6h16.7v17.9h-16.7zM151.6 538.0h16.7v17.9h-16.7zM285.8 538.0h16.7v17.9h-16.7zM324.2 538.0h16.7v17.9h-16.7zM343.4 538.0h16.7v17.9h-16.7zM496.8 538.0h16.7v17.9h-16.7zM516.0 538.0h16.7v17.9h-16.7zM688.6 538.0h16.7v17.9h-16.7zM784.5 538.0h16.7v17.9h-16.7zM189.9 558.4h16.7v17.9h-16.7zM209.1 558.4h16.7v17.9h-16.7zM305.0 558.4h16.7v17.9h-16.7zM400.9 558.4h16.7v17.9h-16.7zM746.1 558.4h16.7v17.9h-16.7zM880.4 558.4h16.7v17.9h-16.7zM1014.7 558.4h16.7v17.9h-16.7zM592.7 578.8h16.7v17.9h-16.7zM861.2 578.8h16.7v17.9h-16.7zM1014.7 578.8h16.7v17.9h-16.7zM1091.4 578.8h16.7v17.9h-16.7zM285.8 599.2h16.7v17.9h-16.7zM842.0 599.2h16.7v17.9h-16.7zM861.2 599.2h16.7v17.9h-16.7zM995.5 599.2h16.7v17.9h-16.7zM1033.8 599.2h16.7v17.9h-16.7zM189.9 619.6h16.7v17.9h-16.7zM209.1 619.6h16.7v17.9h-16.7zM343.4 619.6h16.7v17.9h-16.7zM496.8 619.6h16.7v17.9h-16.7zM573.5 619.6h16.7v17.9h-16.7zM631.0 619.6h16.7v17.9h-16.7zM362.5 640.0h16.7v17.9h-16.7zM592.7 640.0h16.7v17.9h-16.7zM650.2 640.0h16.7v17.9h-16.7zM784.5 640.0h16.7v17.9h-16.7zM1014.7 640.0h16.7v17.9h-16.7zM1033.8 640.0h16.7v17.9h-16.7zM1072.2 640.0h16.7v17.9h-16.7zM170.7 660.4h16.7v17.9h-16.7zM209.1 660.4h16.7v17.9h-16.7zM305.0 660.4h16.7v17.9h-16.7zM362.5 660.4h16.7v17.9h-16.7zM458.4 660.4h16.7v17.9h-16.7zM496.8 660.4h16.7v17.9h-16.7zM554.3 660.4h16.7v17.9h-16.7zM765.3 660.4h16.7v17.9h-16.7zM1072.2 660.4h16.7v17.9h-16.7zM151.6 680.7h16.7v17.9h-16.7zM305.0 680.7h16.7v17.9h-16.7zM381.7 680.7h16.7v17.9h-16.7zM420.1 680.7h16.7v17.9h-16.7zM650.2 680.7h16.7v17.9h-16.7zM746.1 680.7h16.7v17.9h-16.7zM784.5 680.7h16.7v17.9h-16.7zM880.4 680.7h16.7v17.9h-16.7zM899.6 680.7h16.7v17.9h-16.7zM266.6 701.1h16.7v17.9h-16.7zM324.2 701.1h16.7v17.9h-16.7zM611.9 701.1h16.7v17.9h-16.7zM707.8 701.1h16.7v17.9h-16.7zM803.7 701.1h16.7v17.9h-16.7zM842.0 701.1h16.7v17.9h-16.7zM957.1 701.1h16.7v17.9h-16.7zM305.0 721.5h16.7v17.9h-16.7zM669.4 721.5h16.7v17.9h-16.7zM1014.7 721.5h16.7v17.9h-16.7zM1072.2 721.5h16.7v17.9h-16.7zM324.2 741.9h16.7v17.9h-16.7zM439.2 741.9h16.7v17.9h-16.7zM516.0 741.9h16.7v17.9h-16.7zM1033.8 741.9h16.7v17.9h-16.7zM266.6 762.3h16.7v17.9h-16.7zM381.7 762.3h16.7v17.9h-16.7zM516.0 762.3h16.7v17.9h-16.7zM669.4 762.3h16.7v17.9h-16.7zM1014.7 762.3h16.7v17.9h-16.7zM1091.4 762.3h16.7v17.9h-16.7zM266.6 782.7h16.7v17.9h-16.7zM381.7 782.7h16.7v17.9h-16.7zM477.6 782.7h16.7v17.9h-16.7zM707.8 782.7h16.7v17.9h-16.7zM727.0 782.7h16.7v17.9h-16.7zM918.8 782.7h16.7v17.9h-16.7zM1072.2 782.7h16.7v17.9h-16.7zM151.6 803.1h16.7v17.9h-16.7zM170.7 803.1h16.7v17.9h-16.7zM861.2 803.1h16.7v17.9h-16.7zM899.6 803.1h16.7v17.9h-16.7zM151.6 823.5h16.7v17.9h-16.7zM209.1 823.5h16.7v17.9h-16.7zM535.2 823.5h16.7v17.9h-16.7zM592.7 823.5h16.7v17.9h-16.7zM707.8 823.5h16.7v17.9h-16.7zM151.6 843.9h16.7v17.9h-16.7zM209.1 843.9h16.7v17.9h-16.7zM420.1 843.9h16.7v17.9h-16.7zM611.9 843.9h16.7v17.9h-16.7zM707.8 843.9h16.7v17.9h-16.7zM765.3 843.9h16.7v17.9h-16.7zM899.6 843.9h16.7v17.9h-16.7zM995.5 843.9h16.7v17.9h-16.7zM189.9 864.2h16.7v17.9h-16.7zM247.5 864.2h16.7v17.9h-16.7zM266.6 864.2h16.7v17.9h-16.7zM381.7 864.2h16.7v17.9h-16.7zM477.6 864.2h16.7v17.9h-16.7zM496.8 864.2h16.7v17.9h-16.7zM669.4 864.2h16.7v17.9h-16.7zM1072.2 864.2h16.7v17.9h-16.7zM266.6 884.6h16.7v17.9h-16.7zM381.7 884.6h16.7v17.9h-16.7zM477.6 884.6h16.7v17.9h-16.7zM707.8 884.6h16.7v17.9h-16.7zM727.0 884.6h16.7v17.9h-16.7zM918.8 884.6h16.7v17.9h-16.7zM1072.2 884.6h16.7v17.9h-16.7zM170.7 905.0h16.7v17.9h-16.7zM535.2 905.0h16.7v17.9h-16.7zM554.3 905.0h16.7v17.9h-16.7zM688.6 905.0h16.7v17.9h-16.7zM861.2 905.0h16.7v17.9h-16.7zM918.8 905.0h16.7v17.9h-16.7zM976.3 905.0h16.7v17.9h-16.7zM1091.4 905.0h16.7v17.9h-16.7zM324.2 925.4h16.7v17.9h-16.7zM362.5 925.4h16.7v17.9h-16.7zM554.3 925.4h16.7v17.9h-16.7zM765.3 925.4h16.7v17.9h-16.7zM842.0 925.4h16.7v17.9h-16.7zM285.8 945.8h16.7v17.9h-16.7zM324.2 945.8h16.7v17.9h-16.7zM381.7 945.8h16.7v17.9h-16.7zM420.1 945.8h16.7v17.9h-16.7zM592.7 945.8h16.7v17.9h-16.7zM688.6 945.8h16.7v17.9h-16.7zM803.7 945.8h16.7v17.9h-16.7zM1014.7 945.8h16.7v17.9h-16.7zM343.4 966.2h16.7v17.9h-16.7zM362.5 966.2h16.7v17.9h-16.7zM496.8 966.2h16.7v17.9h-16.7zM516.0 966.2h16.7v17.9h-16.7zM669.4 966.2h16.7v17.9h-16.7zM1072.2 966.2h16.7v17.9h-16.7zM439.2 986.6h16.7v17.9h-16.7zM592.7 986.6h16.7v17.9h-16.7zM209.1 1007.0h16.7v17.9h-16.7zM228.3 1007.0h16.7v17.9h-16.7zM324.2 1007.0h16.7v17.9h-16.7zM362.5 1007.0h16.7v17.9h-16.7zM669.4 1007.0h16.7v17.9h-16.7zM880.4 1007.0h16.7v17.9h-16.7zM899.6 1007.0h16.7v17.9h-16.7zM1033.8 1007.0h16.7v17.9h-16.7zM189.9 1027.4h16.7v17.9h-16.7zM209.1 1027.4h16.7v17.9h-16.7zM420.1 1027.4h16.7v17.9h-16.7zM477.6 1027.4h16.7v17.9h-16.7zM803.7 1027.4h16.7v17.9h-16.7zM937.9 1027.4h16.7v17.9h-16.7zM1053.0 1027.4h16.7v17.9h-16.7zM400.9 1047.8h16.7v17.9h-16.7zM439.2 1047.8h16.7v17.9h-16.7zM803.7 1047.8h16.7v17.9h-16.7z"/>
<path fill="#e0e383" d="M343.4 48.6h16.7v17.9h-16.7zM573.5 48.6h16.7v17.9h-16.7zM746.1 69.0h16.7v17.9h-16.7zM765.3 69.0h16.7v17.9h-16.7zM803.7 69.0h16.7v17.9h-16.7zM995.5 69.0h16.7v17.9h-16.7zM1091.4 69.0h16.7v17.9h-16.7zM209.1 89.4h16.7v17.9h-16.7zM362.5 89.4h16.7v17.9h-16.7zM995.5 89.4h16.7v17.9h-16.7zM151.6 109.8h16.7v17.9h-16.7zM420.1 109.8h16.7v17.9h-16.7zM573.5 109.8h16.7v17.9h-16.7zM631.0 130.2h16.7v17.9h-16.7zM976.3 130.2h16.7v17.9h-16.7zM727.0 150.6h16.7v17.9h-16.7zM151.6 171.0h16.7v17.9h-16.7zM305.0 171.0h16.7v17.9h-16.7zM324.2 171.0h16.7v17.9h-16.7zM727.0 171.0h16.7v17.9h-16.7zM765.3 171.0h16.7v17.9h-16.7zM1053.0 171.0h16.7v17.9h-16.7zM247.5 191.4h16.7v17.9h-16.7zM420.1 191.4h16.7v17.9h-16.7zM880.4 191.4h16.7v17.9h-16.7zM1072.2 191.4h16.7v17.9h-16.7zM285.8 211.8h16.7v17.9h-16.7zM803.7 211.8h16.7v17.9h-16.7zM995.5 211.8h16.7v17.9h-16.7zM189.9 232.2h16.7v17.9h-16.7zM554.3 232.2h16.7v17.9h-16.7zM573.5 232.2h16.7v17.9h-16.7zM707.8 232.2h16.7v17.9h-16.7zM880.4 232.2h16.7v17.9h-16.7zM1033.8 232.2h16.7v17.9h-16.7zM228.3 252.6h16.7v17.9h-16.7zM400.9 252.6h16.7v17.9h-16.7zM784.5 252.6h16.7v17.9h-16.7zM784.5 272.9h16.7v17.9h-16.7zM861.2 272.9h16.7v17.9h-16.7zM1033.8 272.9h16.7v17.9h-16.7zM1053.0 293.3h16.7v17.9h-16.7zM650.2 313.7h16.7v17.9h-16.7zM669.4 313.7h16.7v17.9h-16.7zM995.5 313.7h16.7v17.9h-16.7zM1033.8 313.7h16.7v17.9h-16.7zM324.2 334.1h16.7v17.9h-16.7zM362.5 334.1h16.7v17.9h-16.7zM420.1 334.1h16.7v17.9h-16.7zM631.0 334.1h16.7v17.9h-16.7zM1014.7 334.1h16.7v17.9h-16.7zM1053.0 334.1h16.7v17.9h-16.7zM228.3 354.5h16.7v17.9h-16.7zM631.0 354.5h16.7v17.9h-16.7zM803.7 354.5h16.7v17.9h-16.7zM937.9 354.5h16.7v17.9h-16.7zM151.6 374.9h16.7v17.9h-16.7zM496.8 374.9h16.7v17.9h-16.7zM611.9 374.9h16.7v17.9h-16.7zM727.0 374.9h16.7v17.9h-16.7zM1072.2 395.3h16.7v17.9h-16.7zM247.5 436.1h16.7v17.9h-16.7zM650.2 436.1h16.7v17.9h-16.7zM1091.4 436.1h16.7v17.9h-16.7zM170.7 456.4h16.7v17.9h-16.7zM381.7 456.4h16.7v17.9h-16.7zM420.1 456.4h16.7v17.9h-16.7zM554.3 456.4h16.7v17.9h-16.7zM669.4 456.4h16.7v17.9h-16.7zM899.6 456.4h16.7v17.9h-16.7zM918.8 456.4h16.7v17.9h-16.7zM957.1 456.4h16.7v17.9h-16.7zM381.7 476.8h16.7v17.9h-16.7zM420.1 476.8h16.7v17.9h-16.7zM477.6 476.8h16.7v17.9h-16.7zM1033.8 476.8h16.7v17.9h-16.7zM880.4 497.2h16.7v17.9h-16.7zM362.5 538.0h16.7v17.9h-16.7zM381.7 538.0h16.7v17.9h-16.7zM765.3 538.0h16.7v17.9h-16.7zM1091.4 538.0h16.7v17.9h-16.7zM151.6 558.4h16.7v17.9h-16.7zM228.3 558.4h16.7v17.9h-16.7zM420.1 558.4h16.7v17.9h-16.7zM458.4 558.4h16.7v17.9h-16.7zM822.8 558.4h16.7v17.9h-16.7zM842.0 558.4h16.7v17.9h-16.7zM228.3 578.8h16.7v17.9h-16.7zM458.4 578.8h16.7v17.9h-16.7zM707.8 578.8h16.7v17.9h-16.7zM727.0 578.8h16.7v17.9h-16.7zM573.5 599.2h16.7v17.9h-16.7zM650.2 599.2h16.7v17.9h-16.7zM727.0 599.2h16.7v17.9h-16.7zM880.4 599.2h16.7v17.9h-16.7zM899.6 599.2h16.7v17.9h-16.7zM362.5 619.6h16.7v17.9h-16.7zM400.9 619.6h16.7v17.9h-16.7zM516.0 619.6h16.7v17.9h-16.7zM784.5 619.6h16.7v17.9h-16.7zM1014.7 619.6h16.7v17.9h-16.7zM209.1 640.0h16.7v17.9h-16.7zM228.3 640.0h16.7v17.9h-16.7zM305.0 640.0h16.7v17.9h-16.7zM803.7 640.0h16.7v17.9h-16.7zM861.2 640.0h16.7v17.9h-16.7zM439.2 660.4h16.7v17.9h-16.7zM880.4 660.4h16.7v17.9h-16.7zM1091.4 660.4h16.7v17.9h-16.7zM937.9 680.7h16.7v17.9h-16.7zM1053.0 680.7h16.7v17.9h-16.7zM151.6 701.1h16.7v17.9h-16.7zM727.0 701.1h16.7v17.9h-16.7zM784.5 701.1h16.7v17.9h-16.7zM918.8 701.1h16.7v17.9h-16.7zM727.0 721.5h16.7v17.9h-16.7zM209.1 741.9h16.7v17.9h-16.7zM285.8 741.9h16.7v17.9h-16.7zM631.0 741.9h16.7v17.9h-16.7zM228.3 762.3h16.7v17.9h-16.7zM496.8 782.7h16.7v17.9h-16.7zM611.9 782.7h16.7v17.9h-16.7zM880.4 782.7h16.7v17.9h-16.7zM1033.8 782.7h16.7v17.9h-16.7zM496.8 803.1h16.7v17.9h-16.7zM611.9 803.1h16.7v17.9h-16.7zM362.5 823.5h16.7v17.9h-16.7zM688.6 823.5h16.7v17.9h-16.7zM861.2 823.5h16.7v17.9h-16.7zM1072.2 823.5h16.7v17.9h-16.7zM362.5 843.9h16.7v17.9h-16.7zM650.2 843.9h16.7v17.9h-16.7zM918.8 843.9h16.7v17.9h-16.7zM688.6 864.2h16.7v17.9h-16.7zM727.0 864.2h16.7v17.9h-16.7zM937.9 864.2h16.7v17.9h-16.7zM496.8 884.6h16.7v17.9h-16.7zM611.9 884.6h16.7v17.9h-16.7zM880.4 884.6h16.7v17.9h-16.7zM1033.8 884.6h16.7v17.9h-16.7zM420.1 905.0h16.7v17.9h-16.7zM803.7 905.0h16.7v17.9h-16.7zM228.3 925.4h16.7v17.9h-16.7zM285.8 925.4h16.7v17.9h-16.7zM305.0 925.4h16.7v17.9h-16.7zM496.8 925.4h16.7v17.9h-16.7zM573.5 925.4h16.7v17.9h-16.7zM611.9 925.4h16.7v17.9h-16.7zM784.5 925.4h16.7v17.9h-16.7zM803.7 925.4h16.7v17.9h-16.7zM861.2 925.4h16.7v17.9h-16.7zM995.5 945.8h16.7v17.9h-16.7zM631.0 966.2h16.7v17.9h-16.7zM976.3 966.2h16.7v17.9h-16.7zM189.9 986.6h16.7v17.9h-16.7zM420.1 986.6h16.7v17.9h-16.7zM631.0 986.6h16.7v17.9h-16.7zM822.8 986.6h16.7v17.9h-16.7zM1033.8 986.6h16.7v17.9h-16.7zM170.7 1007.0h16.7v17.9h-16.7zM439.2 1007.0h16.7v17.9h-16.7zM247.5 1027.4h16.7v17.9h-16.7zM343.4 1027.4h16.7v17.9h-16.7zM228.3 1047.8h16.7v17.9h-16.7zM516.0 1047.8h16.7v17.9h-16.7zM554.3 1047.8h16.7v17.9h-16.7zM765.3 1047.8h16.7v17.9h-16.7z"/>
<path fill="#fdea82" d="M151.6 48.6h16.7v17.9h-16.7zM899.6 48.6h16.7v17.9h-16.7zM458.4 69.0h16.7v17.9h-16.7zM496.8 69.0h16.7v17.9h-16.7zM1053.0 69.0h16.7v17.9h-16.7zM189.9 89.4h16.7v17.9h-16.7zM285.8 89.4h16.7v17.9h-16.7zM343.4 89.4h16.7v17.9h-16.7zM420.1 89.4h16.7v17.9h-16.7zM554.3 89.4h16.7v17.9h-16.7zM592.7 89.4h16.7v17.9h-16.7zM611.9 89.4h16.7v17.9h-16.7zM189.9 109.8h16.7v17.9h-16.7zM285.8 109.8h16.7v17.9h-16.7zM496.8 109.8h16.7v17.9h-16.7zM535.2 109.8h16.7v17.9h-16.7zM707.8 109.8h16.7v17.9h-16.7zM842.0 109.8h16.7v17.9h-16.7zM880.4 109.8h16.7v17.9h-16.7zM228.3 130.2h16.7v17.9h-16.7zM420.1 130.2h16.7v17.9h-16.7zM458.4 130.2h16.7v17.9h-16.7zM803.7 130.2h16.7v17.9h-16.7zM822.8 130.2h16.7v17.9h-16.7zM880.4 130.2h16.7v17.9h-16.7zM995.5 130.2h16.7v17.9h-16.7zM151.6 150.6h16.7v17.9h-16.7zM189.9 150.6h16.7v17.9h-16.7zM247.5 150.6h16.7v17.9h-16.7zM420.1 150.6h16.7v17.9h-16.7zM631.0 150.6h16.7v17.9h-16.7zM688.6 150.6h16.7v17.9h-16.7zM899.6 150.6h16.7v17.9h-16.7zM976.3 150.6h16.7v17.9h-16.7zM1033.8 150.6h16.7v17.9h-16.7zM209.1 171.0h16.7v17.9h-16.7zM285.8 171.0h16.7v17.9h-16.7zM381.7 171.0h16.7v17.9h-16.7zM573.5 171.0h16.7v17.9h-16.7zM899.6 171.0h16.7v17.9h-16.7zM1033.8 171.0h16.7v17.9h-16.7zM1091.4 171.0h16.7v17.9h-16.7zM285.8 191.4h16.7v17.9h-16.7zM305.0 191.4h16.7v17.9h-16.7zM650.2 191.4h16.7v17.9h-16.7zM822.8 191.4h16.7v17.9h-16.7zM266.6 211.8h16.7v17.9h-16.7zM400.9 211.8h16.7v17.9h-16.7zM420.1 211.8h16.7v17.9h-16.7zM765.3 211.8h16.7v17.9h-16.7zM957.1 211.8h16.7v17.9h-16.7zM1053.0 211.8h16.7v17.9h-16.7zM381.7 232.2h16.7v17.9h-16.7zM535.2 232.2h16.7v17.9h-16.7zM765.3 232.2h16.7v17.9h-16.7zM861.2 232.2h16.7v17.9h-16.7zM1091.4 232.2h16.7v17.9h-16.7zM170.7 252.6h16.7v17.9h-16.7zM285.8 252.6h16.7v17.9h-16.7zM650.2 252.6h16.7v17.9h-16.7zM880.4 252.6h16.7v17.9h-16.7zM937.9 252.6h16.7v17.9h-16.7zM1033.8 252.6h16.7v17.9h-16.7zM151.6 272.9h16.7v17.9h-16.7zM285.8 272.9h16.7v17.9h-16.7zM554.3 272.9h16.7v17.9h-16.7zM573.5 272.9h16.7v17.9h-16.7zM611.9 272.9h16.7v17.9h-16.7zM170.7 293.3h16.7v17.9h-16.7zM247.5 293.3h16.7v17.9h-16.7zM381.7 293.3h16.7v17.9h-16.7zM439.2 293.3h16.7v17.9h-16.7zM592.7 293.3h16.7v17.9h-16.7zM861.2 293.3h16.7v17.9h-16.7zM209.1 313.7h16.7v17.9h-16.7zM247.5 313.7h16.7v17.9h-16.7zM343.4 313.7h16.7v17.9h-16.7zM439.2 313.7h16.7v17.9h-16.7zM535.2 313.7h16.7v17.9h-16.7zM554.3 313.7h16.7v17.9h-16.7zM746.1 313.7h16.7v17.9h-16.7zM1091.4 313.7h16.7v17.9h-16.7zM343.4 334.1h16.7v17.9h-16.7zM727.0 334.1h16.7v17.9h-16.7zM822.8 334.1h16.7v17.9h-16.7zM899.6 334.1h16.7v17.9h-16.7zM343.4 354.5h16.7v17.9h-16.7zM362.5 354.5h16.7v17.9h-16.7zM535.2 354.5h16.7v17.9h-16.7zM611.9 354.5h16.7v17.9h-16.7zM784.5 354.5h16.7v17.9h-16.7zM995.5 354.5h16.7v17.9h-16.7zM535.2 374.9h16.7v17.9h-16.7zM554.3 374.9h16.7v17.9h-16.7zM631.0 374.9h16.7v17.9h-16.7zM707.8 374.9h16.7v17.9h-16.7zM784.5 374.9h16.7v17.9h-16.7zM861.2 374.9h16.7v17.9h-16.7zM937.9 374.9h16.7v17.9h-16.7zM957.1 374.9h16.7v17.9h-16.7zM1091.4 374.9h16.7v17.9h-16.7zM151.6 395.3h16.7v17.9h-16.7zM400.9 395.3h16.7v17.9h-16.7zM420.1 395.3h16.7v17.9h-16.7zM458.4 395.3h16.7v17.9h-16.7zM516.0 395.3h16.7v17.9h-16.7zM535.2 395.3h16.7v17.9h-16.7zM554.3 395.3h16.7v17.9h-16.7zM362.5 415.7h16.7v17.9h-16.7zM458.4 415.7h16.7v17.9h-16.7zM573.5 415.7h16.7v17.9h-16.7zM611.9 415.7h16.7v17.9h-16.7zM688.6 415.7h16.7v17.9h-16.7zM1033.8 415.7h16.7v17.9h-16.7zM305.0 436.1h16.7v17.9h-16.7zM477.6 436.1h16.7v17.9h-16.7zM611.9 436.1h16.7v17.9h-16.7zM1053.0 436.1h16.7v17.9h-16.7zM343.4 456.4h16.7v17.9h-16.7zM842.0 476.8h16.7v17.9h-16.7zM1014.7 476.8h16.7v17.9h-16.7zM189.9 497.2h16.7v17.9h-16.7zM305.0 497.2h16.7v17.9h-16.7zM458.4 497.2h16.7v17.9h-16.7zM688.6 497.2h16.7v17.9h-16.7zM918.8 497.2h16.7v17.9h-16.7zM937.9 497.2h16.7v17.9h-16.7zM1053.0 497.2h16.7v17.9h-16.7zM209.1 517.6h16.7v17.9h-16.7zM400.9 517.6h16.7v17.9h-16.7zM669.4 517.6h16.7v17.9h-16.7zM688.6 517.6h16.7v17.9h-16.7zM765.3 517.6h16.7v17.9h-16.7zM803.7 517.6h16.7v17.9h-16.7zM995.5 517.6h16.7v17.9h-16.7zM228.3 538.0h16.7v17.9h-16.7zM266.6 538.0h16.7v17.9h-16.7zM611.9 538.0h16.7v17.9h-16.7zM803.7 538.0h16.7v17.9h-16.7zM842.0 538.0h16.7v17.9h-16.7zM937.9 538.0h16.7v17.9h-16.7zM247.5 558.4h16.7v17.9h-16.7zM285.8 558.4h16.7v17.9h-16.7zM496.8 558.4h16.7v17.9h-16.7zM516.0 558.4h16.7v17.9h-16.7zM727.0 558.4h16.7v17.9h-16.7zM803.7 558.4h16.7v17.9h-16.7zM937.9 558.4h16.7v17.9h-16.7zM439.2 578.8h16.7v17.9h-16.7zM631.0 578.8h16.7v17.9h-16.7zM650.2 578.8h16.7v17.9h-16.7zM899.6 578.8h16.7v17.9h-16.7zM995.5 578.8h16.7v17.9h-16.7zM496.8 599.2h16.7v17.9h-16.7zM516.0 599.2h16.7v17.9h-16.7zM688.6 599.2h16.7v17.9h-16.7zM746.1 599.2h16.7v17.9h-16.7zM918.8 599.2h16.7v17.9h-16.7zM1072.2 599.2h16.7v17.9h-16.7zM324.2 619.6h16.7v17.9h-16.7zM381.7 619.6h16.7v17.9h-16.7zM592.7 619.6h16.7v17.9h-16.7zM803.7 619.6h16.7v17.9h-16.7zM861.2 619.6h16.7v17.9h-16.7zM899.6 619.6h16.7v17.9h-16.7zM1053.0 619.6h16.7v17.9h-16.7zM151.6 640.0h16.7v17.9h-16.7zM458.4 640.0h16.7v17.9h-16.7zM611.9 640.0h16.7v17.9h-16.7zM688.6 640.0h16.7v17.9h-16.7zM976.3 640.0h16.7v17.9h-16.7zM995.5 640.0h16.7v17.9h-16.7zM151.6 660.4h16.7v17.9h-16.7zM381.7 660.4h16.7v17.9h-16.7zM516.0 660.4h16.7v17.9h-16.7zM592.7 660.4h16.7v17.9h-16.7zM650.2 660.4h16.7v17.9h-16.7zM688.6 660.4h16.7v17.9h-16.7zM707.8 660.4h16.7v17.9h-16.7zM842.0 660.4h16.7v17.9h-16.7zM957.1 660.4h16.7v17.9h-16.7zM247.5 680.7h16.7v17.9h-16.7zM343.4 680.7h16.7v17.9h-16.7zM707.8 680.7h16.7v17.9h-16.7zM1033.8 680.7h16.7v17.9h-16.7zM1072.2 680.7h16.7v17.9h-16.7zM400.9 701.1h16.7v17.9h-16.7zM746.1 701.1h16.7v17.9h-16.7zM151.6 721.5h16.7v17.9h-16.7zM381.7 721.5h16.7v17.9h-16.7zM496.8 721.5h16.7v17.9h-16.7zM650.2 721.5h16.7v17.9h-16.7zM765.3 721.5h16.7v17.9h-16.7zM784.5 721.5h16.7v17.9h-16.7zM880.4 721.5h16.7v17.9h-16.7zM957.1 721.5h16.7v17.9h-16.7zM976.3 721.5h16.7v17.9h-16.7zM1091.4 721.5h16.7v17.9h-16.7zM170.7 741.9h16.7v17.9h-16.7zM305.0 741.9h16.7v17.9h-16.7zM400.9 741.9h16.7v17.9h-16.7zM611.9 741.9h16.7v17.9h-16.7zM746.1 741.9h16.7v17.9h-16.7zM784.5 741.9h16.7v17.9h-16.7zM899.6 741.9h16.7v17.9h-16.7zM995.5 741.9h16.7v17.9h-16.7zM1072.2 741.9h16.7v17.9h-16.7zM1091.4 741.9h16.7v17.9h-16.7zM343.4 762.3h16.7v17.9h-16.7zM400.9 762.3h16.7v17.9h-16.7zM420.1 762.3h16.7v17.9h-16.7zM650.2 762.3h16.7v17.9h-16.7zM688.6 762.3h16.7v17.9h-16.7zM784.5 762.3h16.7v17.9h-16.7zM1033.8 762.3h16.7v17.9h-16.7zM151.6 782.7h16.7v17.9h-16.7zM228.3 782.7h16.7v17.9h-16.7zM305.0 782.7h16.7v17.9h-16.7zM343.4 782.7h16.7v17.9h-16.7zM439.2 782.7h16.7v17.9h-16.7zM746.1 782.7h16.7v17.9h-16.7zM803.7 782.7h16.7v17.9h-16.7zM305.0 803.1h16.7v17.9h-16.7zM420.1 803.1h16.7v17.9h-16.7zM573.5 803.1h16.7v17.9h-16.7zM592.7 803.1h16.7v17.9h-16.7zM631.0 803.1h16.7v17.9h-16.7zM707.8 803.1h16.7v17.9h-16.7zM784.5 803.1h16.7v17.9h-16.7zM803.7 803.1h16.7v17.9h-16.7zM976.3 803.1h16.7v17.9h-16.7zM228.3 823.5h16.7v17.9h-16.7zM247.5 823.5h16.7v17.9h-16.7zM285.8 823.5h16.7v17.9h-16.7zM669.4 823.5h16.7v17.9h-16.7zM842.0 823.5h16.7v17.9h-16.7zM957.1 823.5h16.7v17.9h-16.7zM1014.7 823.5h16.7v17.9h-16.7zM1033.8 823.5h16.7v17.9h-16.7zM170.7 843.9h16.7v17.9h-16.7zM228.3 843.9h16.7v17.9h-16.7zM324.2 843.9h16.7v17.9h-16.7zM400.9 843.9h16.7v17.9h-16.7zM631.0 843.9h16.7v17.9h-16.7zM669.4 843.9h16.7v17.9h-16.7zM688.6 843.9h16.7v17.9h-16.7zM880.4 843.9h16.7v17.9h-16.7zM1091.4 843.9h16.7v17.9h-16.7zM209.1 864.2h16.7v17.9h-16.7zM305.0 864.2h16.7v17.9h-16.7zM516.0 864.2h16.7v17.9h-16.7zM573.5 864.2h16.7v17.9h-16.7zM746.1 864.2h16.7v17.9h-16.7zM880.4 864.2h16.7v17.9h-16.7zM918.8 864.2h16.7v17.9h-16.7zM995.5 864.2h16.7v17.9h-16.7zM151.6 884.6h16.7v17.9h-16.7zM228.3 884.6h16.7v17.9h-16.7zM305.0 884.6h16.7v17.9h-16.7zM343.4 884.6h16.7v17.9h-16.7zM439.2 884.6h16.7v17.9h-16.7zM746.1 884.6h16.7v17.9h-16.7zM803.7 884.6h16.7v17.9h-16.7zM228.3 905.0h16.7v17.9h-16.7zM362.5 905.0h16.7v17.9h-16.7zM746.1 905.0h16.7v17.9h-16.7zM1033.8 905.0h16.7v17.9h-16.7zM1053.0 905.0h16.7v17.9h-16.7zM631.0 925.4h16.7v17.9h-16.7zM707.8 925.4h16.7v17.9h-16.7zM170.7 945.8h16.7v17.9h-16.7zM189.9 945.8h16.7v17.9h-16.7zM343.4 945.8h16.7v17.9h-16.7zM362.5 945.8h16.7v17.9h-16.7zM496.8 945.8h16.7v17.9h-16.7zM516.0 945.8h16.7v17.9h-16.7zM765.3 945.8h16.7v17.9h-16.7zM861.2 945.8h16.7v17.9h-16.7zM228.3 966.2h16.7v17.9h-16.7zM420.1 966.2h16.7v17.9h-16.7zM458.4 966.2h16.7v17.9h-16.7zM803.7 966.2h16.7v17.9h-16.7zM822.8 966.2h16.7v17.9h-16.7zM880.4 966.2h16.7v17.9h-16.7zM995.5 966.2h16.7v17.9h-16.7zM899.6 986.6h16.7v17.9h-16.7zM937.9 986.6h16.7v17.9h-16.7zM1053.0 986.6h16.7v17.9h-16.7zM592.7 1007.0h16.7v17.9h-16.7zM611.9 1007.0h16.7v17.9h-16.7zM631.0 1007.0h16.7v17.9h-16.7zM650.2 1007.0h16.7v17.9h-16.7zM765.3 1007.0h16.7v17.9h-16.7zM228.3 1027.4h16.7v17.9h-16.7zM305.0 1027.4h16.7v17.9h-16.7zM592.7 1027.4h16.7v17.9h-16.7zM611.9 1027.4h16.7v17.9h-16.7zM631.0 1027.4h16.7v17.9h-16.7zM650.2 1027.4h16.7v17.9h-16.7zM822.8 1027.4h16.7v17.9h-16.7zM918.8 1027.4h16.7v17.9h-16.7zM285.8 1047.8h16.7v17.9h-16.7zM573.5 1047.8h16.7v17.9h-16.7zM592.7 1047.8h16.7v17.9h-16.7zM611.9 1047.8h16.7v17.9h-16.7zM631.0 1047.8h16.7v17.9h-16.7zM650.2 1047.8h16.7v17.9h-16.7zM842.0 1047.8h16.7v17.9h-16.7zM861.2 1047.8h16.7v17.9h-16.7zM957.1 1047.8h16.7v17.9h-16.7zM1014.7 1047.8h16.7v17.9h-16.7zM1091.4 1047.8h16.7v17.9h-16.7z"/>
<path fill="#ffd280" d="M247.5 48.6h16.7v17.9h-16.7zM285.8 48.6h16.7v17.9h-16.7zM650.2 48.6h16.7v17.9h-16.7zM727.0 48.6h16.7v17.9h-16.7zM1053.0 48.6h16.7v17.9h-16.7zM1091.4 48.6h16.7v17.9h-16.7zM247.5 69.0h16.7v17.9h-16.7zM324.2 69.0h16.7v17.9h-16.7zM535.2 69.0h16.7v17.9h-16.7zM631.0 69.0h16.7v17.9h-16.7zM688.6 69.0h16.7v17.9h-16.7zM842.0 69.0h16.7v17.9h-16.7zM957.1 69.0h16.7v17.9h-16.7zM496.8 89.4h16.7v17.9h-16.7zM573.5 89.4h16.7v17.9h-16.7zM650.2 89.4h16.7v17.9h-16.7zM650.2 109.8h16.7v17.9h-16.7zM899.6 109.8h16.7v17.9h-16.7zM918.8 109.8h16.7v17.9h-16.7zM209.1 130.2h16.7v17.9h-16.7zM305.0 130.2h16.7v17.9h-16.7zM324.2 130.2h16.7v17.9h-16.7zM458.4 150.6h16.7v17.9h-16.7zM937.9 150.6h16.7v17.9h-16.7zM957.1 150.6h16.7v17.9h-16.7zM170.7 171.0h16.7v17.9h-16.7zM516.0 171.0h16.7v17.9h-16.7zM650.2 171.0h16.7v17.9h-16.7zM707.8 171.0h16.7v17.9h-16.7zM880.4 171.0h16.7v17.9h-16.7zM209.1 191.4h16.7v17.9h-16.7zM400.9 191.4h16.7v17.9h-16.7zM611.9 191.4h16.7v17.9h-16.7zM803.7 191.4h16.7v17.9h-16.7zM247.5 211.8h16.7v17.9h-16.7zM937.9 232.2h16.7v17.9h-16.7zM420.1 252.6h16.7v17.9h-16.7zM631.0 252.6h16.7v17.9h-16.7zM707.8 252.6h16.7v17.9h-16.7zM170.7 272.9h16.7v17.9h-16.7zM209.1 293.3h16.7v17.9h-16.7zM266.6 293.3h16.7v17.9h-16.7zM324.2 293.3h16.7v17.9h-16.7zM343.4 293.3h16.7v17.9h-16.7zM631.0 293.3h16.7v17.9h-16.7zM918.8 293.3h16.7v17.9h-16.7zM420.1 313.7h16.7v17.9h-16.7zM631.0 313.7h16.7v17.9h-16.7zM899.6 313.7h16.7v17.9h-16.7zM1072.2 334.1h16.7v17.9h-16.7zM305.0 354.5h16.7v17.9h-16.7zM516.0 354.5h16.7v17.9h-16.7zM861.2 354.5h16.7v17.9h-16.7zM477.6 374.9h16.7v17.9h-16.7zM976.3 374.9h16.7v17.9h-16.7zM496.8 395.3h16.7v17.9h-16.7zM880.4 395.3h16.7v17.9h-16.7zM266.6 415.7h16.7v17.9h-16.7zM420.1 415.7h16.7v17.9h-16.7zM1091.4 415.7h16.7v17.9h-16.7zM324.2 436.1h16.7v17.9h-16.7zM400.9 436.1h16.7v17.9h-16.7zM784.5 436.1h16.7v17.9h-16.7zM976.3 436.1h16.7v17.9h-16.7zM631.0 456.4h16.7v17.9h-16.7zM650.2 456.4h16.7v17.9h-16.7zM1091.4 456.4h16.7v17.9h-16.7zM151.6 476.8h16.7v17.9h-16.7zM784.5 497.2h16.7v17.9h-16.7zM305.0 517.6h16.7v17.9h-16.7zM650.2 517.6h16.7v17.9h-16.7zM1014.7 517.6h16.7v17.9h-16.7zM1033.8 517.6h16.7v17.9h-16.7zM1072.2 517.6h16.7v17.9h-16.7zM1014.7 538.0h16.7v17.9h-16.7zM611.9 558.4h16.7v17.9h-16.7zM688.6 558.4h16.7v17.9h-16.7zM784.5 558.4h16.7v17.9h-16.7zM1033.8 558.4h16.7v17.9h-16.7zM822.8 578.8h16.7v17.9h-16.7zM918.8 578.8h16.7v17.9h-16.7zM189.9 599.2h16.7v17.9h-16.7zM343.4 599.2h16.7v17.9h-16.7zM400.9 599.2h16.7v17.9h-16.7zM631.0 599.2h16.7v17.9h-16.7zM822.8 599.2h16.7v17.9h-16.7zM266.6 619.6h16.7v17.9h-16.7zM420.1 619.6h16.7v17.9h-16.7zM957.1 619.6h16.7v17.9h-16.7zM1091.4 619.6h16.7v17.9h-16.7zM957.1 640.0h16.7v17.9h-16.7zM822.8 660.4h16.7v17.9h-16.7zM1014.7 680.7h16.7v17.9h-16.7zM516.0 701.1h16.7v17.9h-16.7zM343.4 721.5h16.7v17.9h-16.7zM458.4 721.5h16.7v17.9h-16.7zM477.6 721.5h16.7v17.9h-16.7zM573.5 721.5h16.7v17.9h-16.7zM822.8 721.5h16.7v17.9h-16.7zM209.1 762.3h16.7v17.9h-16.7zM324.2 782.7h16.7v17.9h-16.7zM650.2 803.1h16.7v17.9h-16.7zM746.1 803.1h16.7v17.9h-16.7zM918.8 803.1h16.7v17.9h-16.7zM995.5 803.1h16.7v17.9h-16.7zM822.8 823.5h16.7v17.9h-16.7zM266.6 843.9h16.7v17.9h-16.7zM170.7 864.2h16.7v17.9h-16.7zM420.1 864.2h16.7v17.9h-16.7zM592.7 864.2h16.7v17.9h-16.7zM1091.4 864.2h16.7v17.9h-16.7zM324.2 884.6h16.7v17.9h-16.7zM746.1 925.4h16.7v17.9h-16.7zM477.6 945.8h16.7v17.9h-16.7zM631.0 945.8h16.7v17.9h-16.7zM727.0 945.8h16.7v17.9h-16.7zM822.8 945.8h16.7v17.9h-16.7zM1053.0 945.8h16.7v17.9h-16.7zM209.1 966.2h16.7v17.9h-16.7zM305.0 966.2h16.7v17.9h-16.7zM324.2 966.2h16.7v17.9h-16.7zM228.3 986.6h16.7v17.9h-16.7zM496.8 986.6h16.7v17.9h-16.7zM554.3 986.6h16.7v17.9h-16.7zM1072.2 986.6h16.7v17.9h-16.7zM554.3 1007.0h16.7v17.9h-16.7zM707.8 1007.0h16.7v17.9h-16.7zM861.2 1007.0h16.7v17.9h-16.7zM1053.0 1007.0h16.7v17.9h-16.7zM1072.2 1007.0h16.7v17.9h-16.7zM324.2 1027.4h16.7v17.9h-16.7zM458.4 1027.4h16.7v17.9h-16.7zM746.1 1027.4h16.7v17.9h-16.7zM1033.8 1027.4h16.7v17.9h-16.7zM688.6 1047.8h16.7v17.9h-16.7zM880.4 1047.8h16.7v17.9h-16.7zM1072.2 1047.8h16.7v17.9h-16.7z"/>
<path fill="#ffb97c" d="M189.9 48.6h16.7v17.9h-16.7zM266.6 48.6h16.7v17.9h-16.7zM362.5 48.6h16.7v17.9h-16.7zM496.8 48.6h16.7v17.9h-16.7zM554.3 48.6h16.7v17.9h-16.7zM1033.8 48.6h16.7v17.9h-16.7zM266.6 69.0h16.7v17.9h-16.7zM343.4 69.0h16.7v17.9h-16.7zM420.1 69.0h16.7v17.9h-16.7zM554.3 69.0h16.7v17.9h-16.7zM573.5 69.0h16.7v17.9h-16.7zM669.4 69.0h16.7v17.9h-16.7zM861.2 69.0h16.7v17.9h-16.7zM247.5 89.4h16.7v17.9h-16.7zM381.7 89.4h16.7v17.9h-16.7zM477.6 89.4h16.7v17.9h-16.7zM746.1 89.4h16.7v17.9h-16.7zM861.2 89.4h16.7v17.9h-16.7zM880.4 89.4h16.7v17.9h-16.7zM957.1 89.4h16.7v17.9h-16.7zM976.3 89.4h16.7v17.9h-16.7zM1033.8 89.4h16.7v17.9h-16.7zM305.0 109.8h16.7v17.9h-16.7zM324.2 109.8h16.7v17.9h-16.7zM400.9 109.8h16.7v17.9h-16.7zM439.2 109.8h16.7v17.9h-16.7zM669.4 109.8h16.7v17.9h-16.7zM688.6 109.8h16.7v17.9h-16.7zM803.7 109.8h16.7v17.9h-16.7zM1072.2 109.8h16.7v17.9h-16.7zM170.7 130.2h16.7v17.9h-16.7zM535.2 130.2h16.7v17.9h-16.7zM650.2 130.2h16.7v17.9h-16.7zM688.6 130.2h16.7v17.9h-16.7zM765.3 130.2h16.7v17.9h-16.7zM899.6 130.2h16.7v17.9h-16.7zM1091.4 130.2h16.7v17.9h-16.7zM400.9 150.6h16.7v17.9h-16.7zM592.7 150.6h16.7v17.9h-16.7zM784.5 150.6h16.7v17.9h-16.7zM803.7 150.6h16.7v17.9h-16.7zM822.8 150.6h16.7v17.9h-16.7zM842.0 150.6h16.7v17.9h-16.7zM880.4 150.6h16.7v17.9h-16.7zM1091.4 150.6h16.7v17.9h-16.7zM228.3 171.0h16.7v17.9h-16.7zM362.5 171.0h16.7v17.9h-16.7zM496.8 171.0h16.7v17.9h-16.7zM535.2 171.0h16.7v17.9h-16.7zM842.0 171.0h16.7v17.9h-16.7zM861.2 171.0h16.7v17.9h-16.7zM937.9 171.0h16.7v17.9h-16.7zM477.6 191.4h16.7v17.9h-16.7zM592.7 191.4h16.7v17.9h-16.7zM727.0 191.4h16.7v17.9h-16.7zM765.3 191.4h16.7v17.9h-16.7zM439.2 211.8h16.7v17.9h-16.7zM880.4 211.8h16.7v17.9h-16.7zM1072.2 211.8h16.7v17.9h-16.7zM228.3 232.2h16.7v17.9h-16.7zM305.0 232.2h16.7v17.9h-16.7zM362.5 232.2h16.7v17.9h-16.7zM496.8 232.2h16.7v17.9h-16.7zM631.0 232.2h16.7v17.9h-16.7zM727.0 232.2h16.7v17.9h-16.7zM746.1 232.2h16.7v17.9h-16.7zM784.5 232.2h16.7v17.9h-16.7zM899.6 232.2h16.7v17.9h-16.7zM362.5 252.6h16.7v17.9h-16.7zM477.6 252.6h16.7v17.9h-16.7zM611.9 252.6h16.7v17.9h-16.7zM727.0 252.6h16.7v17.9h-16.7zM976.3 252.6h16.7v17.9h-16.7zM1091.4 252.6h16.7v17.9h-16.7zM688.6 272.9h16.7v17.9h-16.7zM707.8 272.9h16.7v17.9h-16.7zM918.8 272.9h16.7v17.9h-16.7zM957.1 272.9h16.7v17.9h-16.7zM189.9 293.3h16.7v17.9h-16.7zM228.3 293.3h16.7v17.9h-16.7zM362.5 293.3h16.7v17.9h-16.7zM458.4 293.3h16.7v17.9h-16.7zM477.6 293.3h16.7v17.9h-16.7zM688.6 293.3h16.7v17.9h-16.7zM1072.2 293.3h16.7v17.9h-16.7zM285.8 313.7h16.7v17.9h-16.7zM957.1 313.7h16.7v17.9h-16.7zM1072.2 313.7h16.7v17.9h-16.7zM439.2 334.1h16.7v17.9h-16.7zM477.6 334.1h16.7v17.9h-16.7zM611.9 334.1h16.7v17.9h-16.7zM707.8 334.1h16.7v17.9h-16.7zM803.7 334.1h16.7v17.9h-16.7zM880.4 334.1h16.7v17.9h-16.7zM209.1 354.5h16.7v17.9h-16.7zM420.1 354.5h16.7v17.9h-16.7zM688.6 354.5h16.7v17.9h-16.7zM765.3 354.5h16.7v17.9h-16.7zM822.8 354.5h16.7v17.9h-16.7zM880.4 354.5h16.7v17.9h-16.7zM1014.7 354.5h16.7v17.9h-16.7zM1091.4 354.5h16.7v17.9h-16.7zM266.6 374.9h16.7v17.9h-16.7zM400.9 374.9h16.7v17.9h-16.7zM420.1 374.9h16.7v17.9h-16.7zM592.7 374.9h16.7v17.9h-16.7zM650.2 374.9h16.7v17.9h-16.7zM688.6 374.9h16.7v17.9h-16.7zM822.8 374.9h16.7v17.9h-16.7zM842.0 374.9h16.7v17.9h-16.7zM1033.8 374.9h16.7v17.9h-16.7zM189.9 395.3h16.7v17.9h-16.7zM861.2 395.3h16.7v17.9h-16.7zM151.6 415.7h16.7v17.9h-16.7zM228.3 415.7h16.7v17.9h-16.7zM285.8 415.7h16.7v17.9h-16.7zM707.8 415.7h16.7v17.9h-16.7zM822.8 415.7h16.7v17.9h-16.7zM899.6 415.7h16.7v17.9h-16.7zM976.3 415.7h16.7v17.9h-16.7zM151.6 436.1h16.7v17.9h-16.7zM266.6 436.1h16.7v17.9h-16.7zM420.1 436.1h16.7v17.9h-16.7zM573.5 436.1h16.7v17.9h-16.7zM592.7 436.1h16.7v17.9h-16.7zM918.8 436.1h16.7v17.9h-16.7zM324.2 456.4h16.7v17.9h-16.7zM362.5 456.4h16.7v17.9h-16.7zM516.0 456.4h16.7v17.9h-16.7zM535.2 456.4h16.7v17.9h-16.7zM573.5 456.4h16.7v17.9h-16.7zM765.3 456.4h16.7v17.9h-16.7zM170.7 476.8h16.7v17.9h-16.7zM266.6 476.8h16.7v17.9h-16.7zM803.7 476.8h16.7v17.9h-16.7zM1091.4 476.8h16.7v17.9h-16.7zM170.7 497.2h16.7v17.9h-16.7zM266.6 497.2h16.7v17.9h-16.7zM324.2 497.2h16.7v17.9h-16.7zM516.0 497.2h16.7v17.9h-16.7zM592.7 497.2h16.7v17.9h-16.7zM650.2 497.2h16.7v17.9h-16.7zM746.1 497.2h16.7v17.9h-16.7zM899.6 497.2h16.7v17.9h-16.7zM957.1 497.2h16.7v17.9h-16.7zM1091.4 497.2h16.7v17.9h-16.7zM285.8 517.6h16.7v17.9h-16.7zM343.4 517.6h16.7v17.9h-16.7zM420.1 517.6h16.7v17.9h-16.7zM477.6 517.6h16.7v17.9h-16.7zM631.0 517.6h16.7v17.9h-16.7zM1053.0 517.6h16.7v17.9h-16.7zM477.6 538.0h16.7v17.9h-16.7zM631.0 538.0h16.7v17.9h-16.7zM707.8 538.0h16.7v17.9h-16.7zM899.6 538.0h16.7v17.9h-16.7zM1033.8 538.0h16.7v17.9h-16.7zM1053.0 538.0h16.7v17.9h-16.7zM170.7 558.4h16.7v17.9h-16.7zM439.2 558.4h16.7v17.9h-16.7zM707.8 558.4h16.7v17.9h-16.7zM1091.4 558.4h16.7v17.9h-16.7zM189.9 578.8h16.7v17.9h-16.7zM305.0 578.8h16.7v17.9h-16.7zM400.9 578.8h16.7v17.9h-16.7zM496.8 578.8h16.7v17.9h-16.7zM573.5 578.8h16.7v17.9h-16.7zM669.4 578.8h16.7v17.9h-16.7zM746.1 578.8h16.7v17.9h-16.7zM842.0 578.8h16.7v17.9h-16.7zM880.4 578.8h16.7v17.9h-16.7zM209.1 599.2h16.7v17.9h-16.7zM324.2 599.2h16.7v17.9h-16.7zM420.1 599.2h16.7v17.9h-16.7zM554.3 599.2h16.7v17.9h-16.7zM707.8 599.2h16.7v17.9h-16.7zM937.9 599.2h16.7v17.9h-16.7zM477.6 619.6h16.7v17.9h-16.7zM650.2 619.6h16.7v17.9h-16.7zM765.3 619.6h16.7v17.9h-16.7zM995.5 619.6h16.7v17.9h-16.7zM324.2 640.0h16.7v17.9h-16.7zM516.0 640.0h16.7v17.9h-16.7zM535.2 640.0h16.7v17.9h-16.7zM554.3 640.0h16.7v17.9h-16.7zM880.4 640.0h16.7v17.9h-16.7zM899.6 640.0h16.7v17.9h-16.7zM266.6 660.4h16.7v17.9h-16.7zM285.8 660.4h16.7v17.9h-16.7zM727.0 660.4h16.7v17.9h-16.7zM918.8 660.4h16.7v17.9h-16.7zM1033.8 660.4h16.7v17.9h-16.7zM189.9 680.7h16.7v17.9h-16.7zM554.3 680.7h16.7v17.9h-16.7zM611.9 680.7h16.7v17.9h-16.7zM669.4 680.7h16.7v17.9h-16.7zM727.0 680.7h16.7v17.9h-16.7zM822.8 680.7h16.7v17.9h-16.7zM995.5 680.7h16.7v17.9h-16.7zM420.1 701.1h16.7v17.9h-16.7zM861.2 701.1h16.7v17.9h-16.7zM899.6 701.1h16.7v17.9h-16.7zM976.3 701.1h16.7v17.9h-16.7zM995.5 701.1h16.7v17.9h-16.7zM1053.0 701.1h16.7v17.9h-16.7zM266.6 721.5h16.7v17.9h-16.7zM285.8 721.5h16.7v17.9h-16.7zM803.7 721.5h16.7v17.9h-16.7zM842.0 721.5h16.7v17.9h-16.7zM151.6 741.9h16.7v17.9h-16.7zM189.9 741.9h16.7v17.9h-16.7zM228.3 741.9h16.7v17.9h-16.7zM343.4 741.9h16.7v17.9h-16.7zM688.6 741.9h16.7v17.9h-16.7zM305.0 762.3h16.7v17.9h-16.7zM477.6 762.3h16.7v17.9h-16.7zM554.3 762.3h16.7v17.9h-16.7zM707.8 762.3h16.7v17.9h-16.7zM746.1 762.3h16.7v17.9h-16.7zM803.7 762.3h16.7v17.9h-16.7zM880.4 762.3h16.7v17.9h-16.7zM1072.2 762.3h16.7v17.9h-16.7zM170.7 782.7h16.7v17.9h-16.7zM573.5 782.7h16.7v17.9h-16.7zM650.2 782.7h16.7v17.9h-16.7zM669.4 782.7h16.7v17.9h-16.7zM765.3 782.7h16.7v17.9h-16.7zM861.2 782.7h16.7v17.9h-16.7zM1091.4 782.7h16.7v17.9h-16.7zM189.9 803.1h16.7v17.9h-16.7zM477.6 803.1h16.7v17.9h-16.7zM535.2 803.1h16.7v17.9h-16.7zM554.3 803.1h16.7v17.9h-16.7zM1014.7 803.1h16.7v17.9h-16.7zM1072.2 803.1h16.7v17.9h-16.7zM496.8 823.5h16.7v17.9h-16.7zM516.0 823.5h16.7v17.9h-16.7zM631.0 823.5h16.7v17.9h-16.7zM765.3 823.5h16.7v17.9h-16.7zM880.4 823.5h16.7v17.9h-16.7zM937.9 823.5h16.7v17.9h-16.7zM1091.4 823.5h16.7v17.9h-16.7zM247.5 843.9h16.7v17.9h-16.7zM285.8 843.9h16.7v17.9h-16.7zM381.7 843.9h16.7v17.9h-16.7zM746.1 843.9h16.7v17.9h-16.7zM861.2 843.9h16.7v17.9h-16.7zM1053.0 843.9h16.7v17.9h-16.7zM228.3 864.2h16.7v17.9h-16.7zM400.9 864.2h16.7v17.9h-16.7zM458.4 864.2h16.7v17.9h-16.7zM707.8 864.2h16.7v17.9h-16.7zM899.6 864.2h16.7v17.9h-16.7zM170.7 884.6h16.7v17.9h-16.7zM573.5 884.6h16.7v17.9h-16.7zM650.2 884.6h16.7v17.9h-16.7zM669.4 884.6h16.7v17.9h-16.7zM765.3 884.6h16.7v17.9h-16.7zM861.2 884.6h16.7v17.9h-16.7zM1091.4 884.6h16.7v17.9h-16.7zM151.6 905.0h16.7v17.9h-16.7zM189.9 905.0h16.7v17.9h-16.7zM285.8 905.0h16.7v17.9h-16.7zM400.9 905.0h16.7v17.9h-16.7zM611.9 905.0h16.7v17.9h-16.7zM707.8 905.0h16.7v17.9h-16.7zM784.5 905.0h16.7v17.9h-16.7zM266.6 925.4h16.7v17.9h-16.7zM458.4 925.4h16.7v17.9h-16.7zM727.0 925.4h16.7v17.9h-16.7zM957.1 925.4h16.7v17.9h-16.7zM976.3 925.4h16.7v17.9h-16.7zM1033.8 925.4h16.7v17.9h-16.7zM209.1 945.8h16.7v17.9h-16.7zM228.3 945.8h16.7v17.9h-16.7zM305.0 945.8h16.7v17.9h-16.7zM880.4 945.8h16.7v17.9h-16.7zM170.7 966.2h16.7v17.9h-16.7zM535.2 966.2h16.7v17.9h-16.7zM650.2 966.2h16.7v17.9h-16.7zM688.6 966.2h16.7v17.9h-16.7zM765.3 966.2h16.7v17.9h-16.7zM899.6 966.2h16.7v17.9h-16.7zM1091.4 966.2h16.7v17.9h-16.7zM266.6 986.6h16.7v17.9h-16.7zM362.5 986.6h16.7v17.9h-16.7zM400.9 986.6h16.7v17.9h-16.7zM611.9 986.6h16.7v17.9h-16.7zM918.8 986.6h16.7v17.9h-16.7zM976.3 986.6h16.7v17.9h-16.7zM1091.4 986.6h16.7v17.9h-16.7zM343.4 1007.0h16.7v17.9h-16.7zM496.8 1007.0h16.7v17.9h-16.7zM516.0 1007.0h16.7v17.9h-16.7zM842.0 1007.0h16.7v17.9h-16.7zM918.8 1007.0h16.7v17.9h-16.7zM151.6 1027.4h16.7v17.9h-16.7zM707.8 1027.4h16.7v17.9h-16.7zM899.6 1027.4h16.7v17.9h-16.7zM362.5 1047.8h16.7v17.9h-16.7zM669.4 1047.8h16.7v17.9h-16.7zM707.8 1047.8h16.7v17.9h-16.7zM727.0 1047.8h16.7v17.9h-16.7zM746.1 1047.8h16.7v17.9h-16.7zM784.5 1047.8h16.7v17.9h-16.7zM899.6 1047.8h16.7v17.9h-16.7zM918.8 1047.8h16.7v17.9h-16.7zM995.5 1047.8h16.7v17.9h-16.7z"/>
<path fill="#ff9f78" d="M209.1 48.6h16.7v17.9h-16.7zM324.2 48.6h16.7v17.9h-16.7zM592.7 48.6h16.7v17.9h-16.7zM631.0 48.6h16.7v17.9h-16.7zM688.6 48.6h16.7v17.9h-16.7zM976.3 48.6h16.7v17.9h-16.7zM1014.7 48.6h16.7v17.9h-16.7zM189.9 69.0h16.7v17.9h-16.7zM305.0 69.0h16.7v17.9h-16.7zM381.7 69.0h16.7v17.9h-16.7zM439.2 69.0h16.7v17.9h-16.7zM611.9 69.0h16.7v17.9h-16.7zM650.2 69.0h16.7v17.9h-16.7zM631.0 89.4h16.7v17.9h-16.7zM1072.2 89.4h16.7v17.9h-16.7zM228.3 109.8h16.7v17.9h-16.7zM266.6 109.8h16.7v17.9h-16.7zM592.7 109.8h16.7v17.9h-16.7zM1033.8 109.8h16.7v17.9h-16.7zM247.5 130.2h16.7v17.9h-16.7zM592.7 130.2h16.7v17.9h-16.7zM842.0 130.2h16.7v17.9h-16.7zM957.1 130.2h16.7v17.9h-16.7zM1033.8 130.2h16.7v17.9h-16.7zM554.3 150.6h16.7v17.9h-16.7zM573.5 150.6h16.7v17.9h-16.7zM707.8 150.6h16.7v17.9h-16.7zM343.4 171.0h16.7v17.9h-16.7zM400.9 171.0h16.7v17.9h-16.7zM439.2 171.0h16.7v17.9h-16.7zM458.4 171.0h16.7v17.9h-16.7zM477.6 171.0h16.7v17.9h-16.7zM592.7 171.0h16.7v17.9h-16.7zM688.6 171.0h16.7v17.9h-16.7zM746.1 171.0h16.7v17.9h-16.7zM803.7 171.0h16.7v17.9h-16.7zM1072.2 171.0h16.7v17.9h-16.7zM170.7 191.4h16.7v17.9h-16.7zM266.6 191.4h16.7v17.9h-16.7zM381.7 191.4h16.7v17.9h-16.7zM458.4 191.4h16.7v17.9h-16.7zM573.5 191.4h16.7v17.9h-16.7zM688.6 191.4h16.7v17.9h-16.7zM995.5 191.4h16.7v17.9h-16.7zM151.6 211.8h16.7v17.9h-16.7zM381.7 211.8h16.7v17.9h-16.7zM592.7 211.8h16.7v17.9h-16.7zM669.4 211.8h16.7v17.9h-16.7zM727.0 211.8h16.7v17.9h-16.7zM477.6 232.2h16.7v17.9h-16.7zM516.0 232.2h16.7v17.9h-16.7zM688.6 232.2h16.7v17.9h-16.7zM803.7 232.2h16.7v17.9h-16.7zM918.8 232.2h16.7v17.9h-16.7zM1072.2 232.2h16.7v17.9h-16.7zM516.0 252.6h16.7v17.9h-16.7zM592.7 252.6h16.7v17.9h-16.7zM822.8 252.6h16.7v17.9h-16.7zM861.2 252.6h16.7v17.9h-16.7zM324.2 272.9h16.7v17.9h-16.7zM439.2 272.9h16.7v17.9h-16.7zM477.6 272.9h16.7v17.9h-16.7zM535.2 272.9h16.7v17.9h-16.7zM650.2 272.9h16.7v17.9h-16.7zM803.7 272.9h16.7v17.9h-16.7zM822.8 272.9h16.7v17.9h-16.7zM880.4 272.9h16.7v17.9h-16.7zM937.9 272.9h16.7v17.9h-16.7zM1072.2 272.9h16.7v17.9h-16.7zM554.3 293.3h16.7v17.9h-16.7zM669.4 293.3h16.7v17.9h-16.7zM746.1 293.3h16.7v17.9h-16.7zM899.6 293.3h16.7v17.9h-16.7zM305.0 313.7h16.7v17.9h-16.7zM477.6 313.7h16.7v17.9h-16.7zM822.8 313.7h16.7v17.9h-16.7zM151.6 334.1h16.7v17.9h-16.7zM516.0 334.1h16.7v17.9h-16.7zM765.3 334.1h16.7v17.9h-16.7zM669.4 354.5h16.7v17.9h-16.7zM707.8 354.5h16.7v17.9h-16.7zM842.0 354.5h16.7v17.9h-16.7zM1033.8 354.5h16.7v17.9h-16.7zM1072.2 354.5h16.7v17.9h-16.7zM285.8 374.9h16.7v17.9h-16.7zM669.4 374.9h16.7v17.9h-16.7zM803.7 374.9h16.7v17.9h-16.7zM880.4 374.9h16.7v17.9h-16.7zM209.1 395.3h16.7v17.9h-16.7zM247.5 395.3h16.7v17.9h-16.7zM439.2 395.3h16.7v17.9h-16.7zM477.6 395.3h16.7v17.9h-16.7zM592.7 395.3h16.7v17.9h-16.7zM822.8 395.3h16.7v17.9h-16.7zM842.0 395.3h16.7v17.9h-16.7zM516.0 415.7h16.7v17.9h-16.7zM535.2 415.7h16.7v17.9h-16.7zM554.3 415.7h16.7v17.9h-16.7zM727.0 415.7h16.7v17.9h-16.7zM842.0 415.7h16.7v17.9h-16.7zM918.8 415.7h16.7v17.9h-16.7zM995.5 415.7h16.7v17.9h-16.7zM228.3 436.1h16.7v17.9h-16.7zM343.4 436.1h16.7v17.9h-16.7zM535.2 436.1h16.7v17.9h-16.7zM477.6 456.4h16.7v17.9h-16.7zM496.8 456.4h16.7v17.9h-16.7zM688.6 456.4h16.7v17.9h-16.7zM746.1 456.4h16.7v17.9h-16.7zM803.7 456.4h16.7v17.9h-16.7zM439.2 476.8h16.7v17.9h-16.7zM458.4 476.8h16.7v17.9h-16.7zM554.3 476.8h16.7v17.9h-16.7zM727.0 476.8h16.7v17.9h-16.7zM976.3 476.8h16.7v17.9h-16.7zM995.5 476.8h16.7v17.9h-16.7zM1072.2 476.8h16.7v17.9h-16.7zM362.5 497.2h16.7v17.9h-16.7zM400.9 497.2h16.7v17.9h-16.7zM420.1 497.2h16.7v17.9h-16.7zM611.9 497.2h16.7v17.9h-16.7zM669.4 497.2h16.7v17.9h-16.7zM707.8 497.2h16.7v17.9h-16.7zM727.0 497.2h16.7v17.9h-16.7zM861.2 497.2h16.7v17.9h-16.7zM995.5 497.2h16.7v17.9h-16.7zM189.9 517.6h16.7v17.9h-16.7zM228.3 517.6h16.7v17.9h-16.7zM266.6 517.6h16.7v17.9h-16.7zM362.5 517.6h16.7v17.9h-16.7zM535.2 517.6h16.7v17.9h-16.7zM573.5 517.6h16.7v17.9h-16.7zM727.0 517.6h16.7v17.9h-16.7zM746.1 517.6h16.7v17.9h-16.7zM842.0 517.6h16.7v17.9h-16.7zM170.7 538.0h16.7v17.9h-16.7zM209.1 538.0h16.7v17.9h-16.7zM439.2 538.0h16.7v17.9h-16.7zM880.4 538.0h16.7v17.9h-16.7zM918.8 538.0h16.7v17.9h-16.7zM1072.2 538.0h16.7v17.9h-16.7zM343.4 558.4h16.7v17.9h-16.7zM554.3 558.4h16.7v17.9h-16.7zM995.5 558.4h16.7v17.9h-16.7zM1072.2 558.4h16.7v17.9h-16.7zM266.6 578.8h16.7v17.9h-16.7zM285.8 578.8h16.7v17.9h-16.7zM611.9 578.8h16.7v17.9h-16.7zM1053.0 578.8h16.7v17.9h-16.7zM592.7 599.2h16.7v17.9h-16.7zM784.5 599.2h16.7v17.9h-16.7zM803.7 599.2h16.7v17.9h-16.7zM1091.4 599.2h16.7v17.9h-16.7zM170.7 619.6h16.7v17.9h-16.7zM305.0 619.6h16.7v17.9h-16.7zM439.2 619.6h16.7v17.9h-16.7zM880.4 619.6h16.7v17.9h-16.7zM976.3 619.6h16.7v17.9h-16.7zM266.6 640.0h16.7v17.9h-16.7zM285.8 640.0h16.7v17.9h-16.7zM420.1 640.0h16.7v17.9h-16.7zM477.6 640.0h16.7v17.9h-16.7zM765.3 640.0h16.7v17.9h-16.7zM918.8 640.0h16.7v17.9h-16.7zM937.9 640.0h16.7v17.9h-16.7zM343.4 660.4h16.7v17.9h-16.7zM400.9 660.4h16.7v17.9h-16.7zM535.2 660.4h16.7v17.9h-16.7zM1014.7 660.4h16.7v17.9h-16.7zM439.2 680.7h16.7v17.9h-16.7zM458.4 680.7h16.7v17.9h-16.7zM535.2 680.7h16.7v17.9h-16.7zM688.6 680.7h16.7v17.9h-16.7zM861.2 680.7h16.7v17.9h-16.7zM247.5 701.1h16.7v17.9h-16.7zM381.7 701.1h16.7v17.9h-16.7zM631.0 701.1h16.7v17.9h-16.7zM880.4 701.1h16.7v17.9h-16.7zM1072.2 701.1h16.7v17.9h-16.7zM400.9 721.5h16.7v17.9h-16.7zM516.0 721.5h16.7v17.9h-16.7zM592.7 721.5h16.7v17.9h-16.7zM611.9 721.5h16.7v17.9h-16.7zM746.1 721.5h16.7v17.9h-16.7zM861.2 721.5h16.7v17.9h-16.7zM995.5 721.5h16.7v17.9h-16.7zM1053.0 721.5h16.7v17.9h-16.7zM420.1 741.9h16.7v17.9h-16.7zM477.6 741.9h16.7v17.9h-16.7zM496.8 741.9h16.7v17.9h-16.7zM535.2 741.9h16.7v17.9h-16.7zM573.5 741.9h16.7v17.9h-16.7zM727.0 741.9h16.7v17.9h-16.7zM765.3 741.9h16.7v17.9h-16.7zM822.8 741.9h16.7v17.9h-16.7zM285.8 762.3h16.7v17.9h-16.7zM496.8 762.3h16.7v17.9h-16.7zM822.8 762.3h16.7v17.9h-16.7zM976.3 762.3h16.7v17.9h-16.7zM995.5 762.3h16.7v17.9h-16.7zM247.5 782.7h16.7v17.9h-16.7zM285.8 782.7h16.7v17.9h-16.7zM420.1 782.7h16.7v17.9h-16.7zM631.0 782.7h16.7v17.9h-16.7zM899.6 782.7h16.7v17.9h-16.7zM266.6 803.1h16.7v17.9h-16.7zM285.8 803.1h16.7v17.9h-16.7zM400.9 803.1h16.7v17.9h-16.7zM822.8 803.1h16.7v17.9h-16.7zM842.0 803.1h16.7v17.9h-16.7zM170.7 823.5h16.7v17.9h-16.7zM343.4 823.5h16.7v17.9h-16.7zM381.7 823.5h16.7v17.9h-16.7zM458.4 823.5h16.7v17.9h-16.7zM784.5 823.5h16.7v17.9h-16.7zM516.0 843.9h16.7v17.9h-16.7zM535.2 843.9h16.7v17.9h-16.7zM573.5 843.9h16.7v17.9h-16.7zM285.8 864.2h16.7v17.9h-16.7zM631.0 864.2h16.7v17.9h-16.7zM765.3 864.2h16.7v17.9h-16.7zM803.7 864.2h16.7v17.9h-16.7zM1014.7 864.2h16.7v17.9h-16.7zM247.5 884.6h16.7v17.9h-16.7zM285.8 884.6h16.7v17.9h-16.7zM420.1 884.6h16.7v17.9h-16.7zM631.0 884.6h16.7v17.9h-16.7zM899.6 884.6h16.7v17.9h-16.7zM209.1 905.0h16.7v17.9h-16.7zM381.7 905.0h16.7v17.9h-16.7zM439.2 905.0h16.7v17.9h-16.7zM592.7 905.0h16.7v17.9h-16.7zM631.0 905.0h16.7v17.9h-16.7zM765.3 905.0h16.7v17.9h-16.7zM209.1 925.4h16.7v17.9h-16.7zM247.5 925.4h16.7v17.9h-16.7zM400.9 925.4h16.7v17.9h-16.7zM420.1 925.4h16.7v17.9h-16.7zM535.2 925.4h16.7v17.9h-16.7zM918.8 925.4h16.7v17.9h-16.7zM937.9 925.4h16.7v17.9h-16.7zM1091.4 925.4h16.7v17.9h-16.7zM535.2 945.8h16.7v17.9h-16.7zM899.6 945.8h16.7v17.9h-16.7zM957.1 945.8h16.7v17.9h-16.7zM976.3 945.8h16.7v17.9h-16.7zM1033.8 945.8h16.7v17.9h-16.7zM1072.2 945.8h16.7v17.9h-16.7zM247.5 966.2h16.7v17.9h-16.7zM592.7 966.2h16.7v17.9h-16.7zM842.0 966.2h16.7v17.9h-16.7zM957.1 966.2h16.7v17.9h-16.7zM1033.8 966.2h16.7v17.9h-16.7zM151.6 986.6h16.7v17.9h-16.7zM324.2 986.6h16.7v17.9h-16.7zM343.4 986.6h16.7v17.9h-16.7zM535.2 986.6h16.7v17.9h-16.7zM707.8 986.6h16.7v17.9h-16.7zM765.3 986.6h16.7v17.9h-16.7zM784.5 986.6h16.7v17.9h-16.7zM803.7 986.6h16.7v17.9h-16.7zM842.0 986.6h16.7v17.9h-16.7zM266.6 1007.0h16.7v17.9h-16.7zM381.7 1007.0h16.7v17.9h-16.7zM420.1 1007.0h16.7v17.9h-16.7zM535.2 1007.0h16.7v17.9h-16.7zM976.3 1007.0h16.7v17.9h-16.7zM995.5 1007.0h16.7v17.9h-16.7zM170.7 1027.4h16.7v17.9h-16.7zM400.9 1027.4h16.7v17.9h-16.7zM535.2 1027.4h16.7v17.9h-16.7zM765.3 1027.4h16.7v17.9h-16.7zM976.3 1027.4h16.7v17.9h-16.7zM324.2 1047.8h16.7v17.9h-16.7z"/>
<path fill="#ff8772" d="M381.7 48.6h16.7v17.9h-16.7zM707.8 48.6h16.7v17.9h-16.7zM784.5 48.6h16.7v17.9h-16.7zM861.2 48.6h16.7v17.9h-16.7zM880.4 48.6h16.7v17.9h-16.7zM937.9 48.6h16.7v17.9h-16.7zM170.7 69.0h16.7v17.9h-16.7zM228.3 69.0h16.7v17.9h-16.7zM285.8 69.0h16.7v17.9h-16.7zM784.5 69.0h16.7v17.9h-16.7zM880.4 69.0h16.7v17.9h-16.7zM151.6 89.4h16.7v17.9h-16.7zM535.2 89.4h16.7v17.9h-16.7zM784.5 89.4h16.7v17.9h-16.7zM1014.7 89.4h16.7v17.9h-16.7zM170.7 109.8h16.7v17.9h-16.7zM516.0 109.8h16.7v17.9h-16.7zM611.9 109.8h16.7v17.9h-16.7zM631.0 109.8h16.7v17.9h-16.7zM727.0 109.8h16.7v17.9h-16.7zM746.1 109.8h16.7v17.9h-16.7zM784.5 109.8h16.7v17.9h-16.7zM937.9 109.8h16.7v17.9h-16.7zM573.5 130.2h16.7v17.9h-16.7zM611.9 130.2h16.7v17.9h-16.7zM937.9 130.2h16.7v17.9h-16.7zM1053.0 130.2h16.7v17.9h-16.7zM266.6 150.6h16.7v17.9h-16.7zM343.4 150.6h16.7v17.9h-16.7zM611.9 150.6h16.7v17.9h-16.7zM650.2 150.6h16.7v17.9h-16.7zM746.1 150.6h16.7v17.9h-16.7zM669.4 171.0h16.7v17.9h-16.7zM822.8 171.0h16.7v17.9h-16.7zM918.8 171.0h16.7v17.9h-16.7zM439.2 191.4h16.7v17.9h-16.7zM535.2 191.4h16.7v17.9h-16.7zM746.1 191.4h16.7v17.9h-16.7zM842.0 191.4h16.7v17.9h-16.7zM861.2 191.4h16.7v17.9h-16.7zM1014.7 191.4h16.7v17.9h-16.7zM1053.0 191.4h16.7v17.9h-16.7zM189.9 211.8h16.7v17.9h-16.7zM343.4 211.8h16.7v17.9h-16.7zM477.6 211.8h16.7v17.9h-16.7zM631.0 211.8h16.7v17.9h-16.7zM707.8 211.8h16.7v17.9h-16.7zM784.5 211.8h16.7v17.9h-16.7zM822.8 211.8h16.7v17.9h-16.7zM899.6 211.8h16.7v17.9h-16.7zM918.8 211.8h16.7v17.9h-16.7zM1014.7 211.8h16.7v17.9h-16.7zM170.7 232.2h16.7v17.9h-16.7zM285.8 232.2h16.7v17.9h-16.7zM400.9 232.2h16.7v17.9h-16.7zM592.7 232.2h16.7v17.9h-16.7zM1053.0 232.2h16.7v17.9h-16.7zM305.0 252.6h16.7v17.9h-16.7zM688.6 252.6h16.7v17.9h-16.7zM899.6 252.6h16.7v17.9h-16.7zM918.8 252.6h16.7v17.9h-16.7zM1014.7 252.6h16.7v17.9h-16.7zM266.6 272.9h16.7v17.9h-16.7zM458.4 272.9h16.7v17.9h-16.7zM516.0 272.9h16.7v17.9h-16.7zM592.7 272.9h16.7v17.9h-16.7zM631.0 272.9h16.7v17.9h-16.7zM976.3 272.9h16.7v17.9h-16.7zM1053.0 272.9h16.7v17.9h-16.7zM650.2 293.3h16.7v17.9h-16.7zM727.0 293.3h16.7v17.9h-16.7zM784.5 293.3h16.7v17.9h-16.7zM1014.7 293.3h16.7v17.9h-16.7zM381.7 313.7h16.7v17.9h-16.7zM400.9 313.7h16.7v17.9h-16.7zM458.4 313.7h16.7v17.9h-16.7zM516.0 313.7h16.7v17.9h-16.7zM592.7 313.7h16.7v17.9h-16.7zM611.9 313.7h16.7v17.9h-16.7zM727.0 313.7h16.7v17.9h-16.7zM765.3 313.7h16.7v17.9h-16.7zM1014.7 313.7h16.7v17.9h-16.7zM209.1 334.1h16.7v17.9h-16.7zM247.5 334.1h16.7v17.9h-16.7zM458.4 334.1h16.7v17.9h-16.7zM496.8 334.1h16.7v17.9h-16.7zM573.5 334.1h16.7v17.9h-16.7zM650.2 334.1h16.7v17.9h-16.7zM918.8 334.1h16.7v17.9h-16.7zM266.6 354.5h16.7v17.9h-16.7zM324.2 354.5h16.7v17.9h-16.7zM746.1 354.5h16.7v17.9h-16.7zM899.6 354.5h16.7v17.9h-16.7zM918.8 354.5h16.7v17.9h-16.7zM1053.0 354.5h16.7v17.9h-16.7zM209.1 374.9h16.7v17.9h-16.7zM305.0 374.9h16.7v17.9h-16.7zM516.0 374.9h16.7v17.9h-16.7zM573.5 374.9h16.7v17.9h-16.7zM899.6 374.9h16.7v17.9h-16.7zM324.2 395.3h16.7v17.9h-16.7zM611.9 395.3h16.7v17.9h-16.7zM688.6 395.3h16.7v17.9h-16.7zM707.8 395.3h16.7v17.9h-16.7zM976.3 395.3h16.7v17.9h-16.7zM1014.7 395.3h16.7v17.9h-16.7zM1033.8 395.3h16.7v17.9h-16.7zM1091.4 395.3h16.7v17.9h-16.7zM209.1 415.7h16.7v17.9h-16.7zM592.7 415.7h16.7v17.9h-16.7zM861.2 415.7h16.7v17.9h-16.7zM458.4 436.1h16.7v17.9h-16.7zM496.8 436.1h16.7v17.9h-16.7zM669.4 436.1h16.7v17.9h-16.7zM765.3 436.1h16.7v17.9h-16.7zM803.7 436.1h16.7v17.9h-16.7zM861.2 436.1h16.7v17.9h-16.7zM1014.7 436.1h16.7v17.9h-16.7zM1072.2 436.1h16.7v17.9h-16.7zM822.8 456.4h16.7v17.9h-16.7zM976.3 456.4h16.7v17.9h-16.7zM305.0 476.8h16.7v17.9h-16.7zM535.2 476.8h16.7v17.9h-16.7zM611.9 476.8h16.7v17.9h-16.7zM765.3 476.8h16.7v17.9h-16.7zM822.8 476.8h16.7v17.9h-16.7zM861.2 476.8h16.7v17.9h-16.7zM957.1 476.8h16.7v17.9h-16.7zM1053.0 476.8h16.7v17.9h-16.7zM381.7 497.2h16.7v17.9h-16.7zM822.8 497.2h16.7v17.9h-16.7zM842.0 497.2h16.7v17.9h-16.7zM381.7 517.6h16.7v17.9h-16.7zM707.8 517.6h16.7v17.9h-16.7zM861.2 517.6h16.7v17.9h-16.7zM880.4 517.6h16.7v17.9h-16.7zM957.1 517.6h16.7v17.9h-16.7zM247.5 538.0h16.7v17.9h-16.7zM458.4 538.0h16.7v17.9h-16.7zM669.4 538.0h16.7v17.9h-16.7zM822.8 538.0h16.7v17.9h-16.7zM266.6 558.4h16.7v17.9h-16.7zM324.2 558.4h16.7v17.9h-16.7zM362.5 558.4h16.7v17.9h-16.7zM573.5 558.4h16.7v17.9h-16.7zM957.1 558.4h16.7v17.9h-16.7zM151.6 578.8h16.7v17.9h-16.7zM247.5 578.8h16.7v17.9h-16.7zM343.4 578.8h16.7v17.9h-16.7zM516.0 578.8h16.7v17.9h-16.7zM688.6 578.8h16.7v17.9h-16.7zM784.5 578.8h16.7v17.9h-16.7zM937.9 578.8h16.7v17.9h-16.7zM976.3 578.8h16.7v17.9h-16.7zM305.0 599.2h16.7v17.9h-16.7zM362.5 599.2h16.7v17.9h-16.7zM611.9 599.2h16.7v17.9h-16.7zM765.3 599.2h16.7v17.9h-16.7zM976.3 599.2h16.7v17.9h-16.7zM151.6 619.6h16.7v17.9h-16.7zM247.5 619.6h16.7v17.9h-16.7zM458.4 619.6h16.7v17.9h-16.7zM554.3 619.6h16.7v17.9h-16.7zM688.6 619.6h16.7v17.9h-16.7zM822.8 619.6h16.7v17.9h-16.7zM1072.2 619.6h16.7v17.9h-16.7zM170.7 640.0h16.7v17.9h-16.7zM189.9 640.0h16.7v17.9h-16.7zM822.8 640.0h16.7v17.9h-16.7zM1053.0 640.0h16.7v17.9h-16.7zM228.3 660.4h16.7v17.9h-16.7zM324.2 660.4h16.7v17.9h-16.7zM631.0 660.4h16.7v17.9h-16.7zM746.1 660.4h16.7v17.9h-16.7zM784.5 660.4h16.7v17.9h-16.7zM803.7 660.4h16.7v17.9h-16.7zM899.6 660.4h16.7v17.9h-16.7zM209.1 680.7h16.7v17.9h-16.7zM324.2 680.7h16.7v17.9h-16.7zM918.8 680.7h16.7v17.9h-16.7zM189.9 701.1h16.7v17.9h-16.7zM228.3 701.1h16.7v17.9h-16.7zM439.2 701.1h16.7v17.9h-16.7zM496.8 701.1h16.7v17.9h-16.7zM592.7 701.1h16.7v17.9h-16.7zM1033.8 701.1h16.7v17.9h-16.7zM170.7 721.5h16.7v17.9h-16.7zM209.1 721.5h16.7v17.9h-16.7zM247.5 721.5h16.7v17.9h-16.7zM362.5 721.5h16.7v17.9h-16.7zM707.8 721.5h16.7v17.9h-16.7zM362.5 741.9h16.7v17.9h-16.7zM861.2 741.9h16.7v17.9h-16.7zM918.8 741.9h16.7v17.9h-16.7zM976.3 741.9h16.7v17.9h-16.7zM1014.7 741.9h16.7v17.9h-16.7zM170.7 762.3h16.7v17.9h-16.7zM189.9 762.3h16.7v17.9h-16.7zM247.5 762.3h16.7v17.9h-16.7zM439.2 762.3h16.7v17.9h-16.7zM611.9 762.3h16.7v17.9h-16.7zM765.3 762.3h16.7v17.9h-16.7zM957.1 762.3h16.7v17.9h-16.7zM688.6 782.7h16.7v17.9h-16.7zM976.3 782.7h16.7v17.9h-16.7zM439.2 803.1h16.7v17.9h-16.7zM880.4 803.1h16.7v17.9h-16.7zM937.9 803.1h16.7v17.9h-16.7zM957.1 803.1h16.7v17.9h-16.7zM305.0 823.5h16.7v17.9h-16.7zM420.1 823.5h16.7v17.9h-16.7zM439.2 823.5h16.7v17.9h-16.7zM305.0 843.9h16.7v17.9h-16.7zM477.6 843.9h16.7v17.9h-16.7zM496.8 843.9h16.7v17.9h-16.7zM554.3 843.9h16.7v17.9h-16.7zM1033.8 843.9h16.7v17.9h-16.7zM1072.2 843.9h16.7v17.9h-16.7zM439.2 864.2h16.7v17.9h-16.7zM784.5 864.2h16.7v17.9h-16.7zM861.2 864.2h16.7v17.9h-16.7zM957.1 864.2h16.7v17.9h-16.7zM688.6 884.6h16.7v17.9h-16.7zM976.3 884.6h16.7v17.9h-16.7zM266.6 905.0h16.7v17.9h-16.7zM458.4 905.0h16.7v17.9h-16.7zM477.6 905.0h16.7v17.9h-16.7zM516.0 905.0h16.7v17.9h-16.7zM669.4 905.0h16.7v17.9h-16.7zM880.4 905.0h16.7v17.9h-16.7zM995.5 905.0h16.7v17.9h-16.7zM1072.2 905.0h16.7v17.9h-16.7zM439.2 925.4h16.7v17.9h-16.7zM477.6 925.4h16.7v17.9h-16.7zM688.6 925.4h16.7v17.9h-16.7zM899.6 925.4h16.7v17.9h-16.7zM1072.2 925.4h16.7v17.9h-16.7zM439.2 945.8h16.7v17.9h-16.7zM554.3 945.8h16.7v17.9h-16.7zM611.9 945.8h16.7v17.9h-16.7zM669.4 945.8h16.7v17.9h-16.7zM842.0 945.8h16.7v17.9h-16.7zM918.8 945.8h16.7v17.9h-16.7zM573.5 966.2h16.7v17.9h-16.7zM611.9 966.2h16.7v17.9h-16.7zM937.9 966.2h16.7v17.9h-16.7zM1053.0 966.2h16.7v17.9h-16.7zM305.0 986.6h16.7v17.9h-16.7zM669.4 986.6h16.7v17.9h-16.7zM727.0 986.6h16.7v17.9h-16.7zM746.1 986.6h16.7v17.9h-16.7zM995.5 986.6h16.7v17.9h-16.7zM937.9 1007.0h16.7v17.9h-16.7zM1091.4 1007.0h16.7v17.9h-16.7zM285.8 1027.4h16.7v17.9h-16.7zM439.2 1027.4h16.7v17.9h-16.7zM727.0 1027.4h16.7v17.9h-16.7zM880.4 1027.4h16.7v17.9h-16.7zM1091.4 1027.4h16.7v17.9h-16.7zM343.4 1047.8h16.7v17.9h-16.7zM381.7 1047.8h16.7v17.9h-16.7zM822.8 1047.8h16.7v17.9h-16.7zM937.9 1047.8h16.7v17.9h-16.7zM1053.0 1047.8h16.7v17.9h-16.7z"/>
<path fill="#ff6b6b" d="M228.3 48.6h16.7v17.9h-16.7zM420.1 48.6h16.7v17.9h-16.7zM477.6 48.6h16.7v17.9h-16.7zM611.9 48.6h16.7v17.9h-16.7zM957.1 48.6h16.7v17.9h-16.7zM170.7 89.4h16.7v17.9h-16.7zM688.6 89.4h16.7v17.9h-16.7zM822.8 89.4h16.7v17.9h-16.7zM362.5 109.8h16.7v17.9h-16.7zM1053.0 109.8h16.7v17.9h-16.7zM400.9 130.2h16.7v17.9h-16.7zM170.7 150.6h16.7v17.9h-16.7zM976.3 171.0h16.7v17.9h-16.7zM343.4 191.4h16.7v17.9h-16.7zM496.8 191.4h16.7v17.9h-16.7zM554.3 191.4h16.7v17.9h-16.7zM707.8 191.4h16.7v17.9h-16.7zM1091.4 191.4h16.7v17.9h-16.7zM458.4 211.8h16.7v17.9h-16.7zM1033.8 211.8h16.7v17.9h-16.7zM650.2 232.2h16.7v17.9h-16.7zM976.3 232.2h16.7v17.9h-16.7zM746.1 252.6h16.7v17.9h-16.7zM247.5 272.9h16.7v17.9h-16.7zM420.1 293.3h16.7v17.9h-16.7zM170.7 313.7h16.7v17.9h-16.7zM573.5 313.7h16.7v17.9h-16.7zM285.8 334.1h16.7v17.9h-16.7zM554.3 334.1h16.7v17.9h-16.7zM842.0 334.1h16.7v17.9h-16.7zM170.7 354.5h16.7v17.9h-16.7zM189.9 374.9h16.7v17.9h-16.7zM343.4 374.9h16.7v17.9h-16.7zM1053.0 374.9h16.7v17.9h-16.7zM784.5 395.3h16.7v17.9h-16.7zM995.5 395.3h16.7v17.9h-16.7zM880.4 415.7h16.7v17.9h-16.7zM285.8 436.1h16.7v17.9h-16.7zM439.2 456.4h16.7v17.9h-16.7zM995.5 456.4h16.7v17.9h-16.7zM189.9 476.8h16.7v17.9h-16.7zM631.0 476.8h16.7v17.9h-16.7zM439.2 497.2h16.7v17.9h-16.7zM554.3 497.2h16.7v17.9h-16.7zM765.3 497.2h16.7v17.9h-16.7zM803.7 497.2h16.7v17.9h-16.7zM1072.2 497.2h16.7v17.9h-16.7zM170.7 517.6h16.7v17.9h-16.7zM918.8 517.6h16.7v17.9h-16.7zM976.3 538.0h16.7v17.9h-16.7zM765.3 558.4h16.7v17.9h-16.7zM420.1 578.8h16.7v17.9h-16.7zM1033.8 578.8h16.7v17.9h-16.7zM1072.2 578.8h16.7v17.9h-16.7zM727.0 619.6h16.7v17.9h-16.7zM746.1 619.6h16.7v17.9h-16.7zM496.8 640.0h16.7v17.9h-16.7zM937.9 660.4h16.7v17.9h-16.7zM285.8 680.7h16.7v17.9h-16.7zM477.6 680.7h16.7v17.9h-16.7zM170.7 701.1h16.7v17.9h-16.7zM209.1 701.1h16.7v17.9h-16.7zM688.6 701.1h16.7v17.9h-16.7zM228.3 721.5h16.7v17.9h-16.7zM554.3 721.5h16.7v17.9h-16.7zM918.8 721.5h16.7v17.9h-16.7zM381.7 741.9h16.7v17.9h-16.7zM650.2 741.9h16.7v17.9h-16.7zM937.9 741.9h16.7v17.9h-16.7zM1053.0 741.9h16.7v17.9h-16.7zM458.4 782.7h16.7v17.9h-16.7zM592.7 782.7h16.7v17.9h-16.7zM1014.7 782.7h16.7v17.9h-16.7zM765.3 803.1h16.7v17.9h-16.7zM324.2 823.5h16.7v17.9h-16.7zM554.3 823.5h16.7v17.9h-16.7zM918.8 823.5h16.7v17.9h-16.7zM784.5 843.9h16.7v17.9h-16.7zM1014.7 843.9h16.7v17.9h-16.7zM458.4 884.6h16.7v17.9h-16.7zM592.7 884.6h16.7v17.9h-16.7zM1014.7 884.6h16.7v17.9h-16.7zM247.5 905.0h16.7v17.9h-16.7zM324.2 905.0h16.7v17.9h-16.7zM496.8 905.0h16.7v17.9h-16.7zM650.2 905.0h16.7v17.9h-16.7zM957.1 905.0h16.7v17.9h-16.7zM151.6 945.8h16.7v17.9h-16.7zM650.2 945.8h16.7v17.9h-16.7zM1091.4 945.8h16.7v17.9h-16.7zM400.9 966.2h16.7v17.9h-16.7zM285.8 986.6h16.7v17.9h-16.7zM516.0 986.6h16.7v17.9h-16.7zM861.2 986.6h16.7v17.9h-16.7zM880.4 986.6h16.7v17.9h-16.7zM458.4 1007.0h16.7v17.9h-16.7zM727.0 1007.0h16.7v17.9h-16.7zM957.1 1007.0h16.7v17.9h-16.7zM1014.7 1007.0h16.7v17.9h-16.7zM784.5 1027.4h16.7v17.9h-16.7zM995.5 1027.4h16.7v17.9h-16.7zM151.6 1047.8h16.7v17.9h-16.7zM1033.8 1047.8h16.7v17.9h-16.7z"/>
<rect x="149.05" y="1111.75" width="957.05" height="1017.25" fill="#0a0a05"/>
<path fill="#00bf78" d="M515.2 1114.2h16.6v17.8h-16.6zM764.0 1114.2h16.6v17.8h-16.6zM821.5 1114.2h16.6v17.8h-16.6zM840.6 1114.2h16.6v17.8h-16.6zM209.0 1134.6h16.6v17.8h-16.6zM400.4 1134.6h16.6v17.8h-16.6zM515.2 1134.6h16.6v17.8h-16.6zM591.8 1134.6h16.6v17.8h-16.6zM706.6 1134.6h16.6v17.8h-16.6zM917.2 1134.6h16.6v17.8h-16.6zM400.4 1154.9h16.6v17.8h-16.6zM725.8 1154.9h16.6v17.8h-16.6zM898.0 1154.9h16.6v17.8h-16.6zM1089.4 1154.9h16.6v17.8h-16.6zM151.6 1195.5h16.6v17.8h-16.6zM189.8 1195.5h16.6v17.8h-16.6zM476.9 1195.5h16.6v17.8h-16.6zM534.4 1215.8h16.6v17.8h-16.6zM1012.9 1215.8h16.6v17.8h-16.6zM630.0 1236.2h16.6v17.8h-16.6zM362.1 1256.5h16.6v17.8h-16.6zM668.3 1256.5h16.6v17.8h-16.6zM783.2 1256.5h16.6v17.8h-16.6zM917.2 1256.5h16.6v17.8h-16.6zM228.1 1276.8h16.6v17.8h-16.6zM496.1 1276.8h16.6v17.8h-16.6zM859.7 1276.8h16.6v17.8h-16.6zM936.3 1276.8h16.6v17.8h-16.6zM209.0 1297.1h16.6v17.8h-16.6zM323.8 1297.1h16.6v17.8h-16.6zM840.6 1297.1h16.6v17.8h-16.6zM323.8 1317.5h16.6v17.8h-16.6zM572.6 1317.5h16.6v17.8h-16.6zM744.9 1337.8h16.6v17.8h-16.6zM764.0 1337.8h16.6v17.8h-16.6zM285.5 1358.1h16.6v17.8h-16.6zM572.6 1358.1h16.6v17.8h-16.6zM878.9 1358.1h16.6v17.8h-16.6zM189.8 1378.4h16.6v17.8h-16.6zM496.1 1378.4h16.6v17.8h-16.6zM706.6 1378.4h16.6v17.8h-16.6zM878.9 1378.4h16.6v17.8h-16.6zM917.2 1378.4h16.6v17.8h-16.6zM783.2 1398.7h16.6v17.8h-16.6zM1032.0 1398.7h16.6v17.8h-16.6zM1089.4 1398.7h16.6v17.8h-16.6zM247.2 1419.0h16.6v17.8h-16.6zM323.8 1439.4h16.6v17.8h-16.6zM438.7 1439.4h16.6v17.8h-16.6zM993.7 1439.4h16.6v17.8h-16.6zM170.7 1459.7h16.6v17.8h-16.6zM343.0 1459.7h16.6v17.8h-16.6zM764.0 1459.7h16.6v17.8h-16.6zM247.2 1480.0h16.6v17.8h-16.6zM630.0 1480.0h16.6v17.8h-16.6zM744.9 1480.0h16.6v17.8h-16.6zM553.5 1500.3h16.6v17.8h-16.6zM189.8 1520.7h16.6v17.8h-16.6zM209.0 1520.7h16.6v17.8h-16.6zM266.4 1520.7h16.6v17.8h-16.6zM400.4 1520.7h16.6v17.8h-16.6zM610.9 1520.7h16.6v17.8h-16.6zM878.9 1520.7h16.6v17.8h-16.6zM936.3 1520.7h16.6v17.8h-16.6zM247.2 1541.0h16.6v17.8h-16.6zM343.0 1541.0h16.6v17.8h-16.6zM572.6 1541.0h16.6v17.8h-16.6zM649.2 1541.0h16.6v17.8h-16.6zM783.2 1541.0h16.6v17.8h-16.6zM936.3 1541.0h16.6v17.8h-16.6zM209.0 1561.3h16.6v17.8h-16.6zM974.6 1561.3h16.6v17.8h-16.6zM974.6 1581.6h16.6v17.8h-16.6zM1089.4 1581.6h16.6v17.8h-16.6zM304.7 1601.9h16.6v17.8h-16.6zM419.5 1601.9h16.6v17.8h-16.6zM553.5 1601.9h16.6v17.8h-16.6zM744.9 1601.9h16.6v17.8h-16.6zM381.2 1642.6h16.6v17.8h-16.6zM228.1 1662.9h16.6v17.8h-16.6zM247.2 1662.9h16.6v17.8h-16.6zM381.2 1662.9h16.6v17.8h-16.6zM457.8 1662.9h16.6v17.8h-16.6zM917.2 1683.2h16.6v17.8h-16.6zM572.6 1703.5h16.6v17.8h-16.6zM630.0 1703.5h16.6v17.8h-16.6zM840.6 1703.5h16.6v17.8h-16.6zM1089.4 1703.5h16.6v17.8h-16.6zM247.2 1723.8h16.6v17.8h-16.6zM419.5 1723.8h16.6v17.8h-16.6zM859.7 1723.8h16.6v17.8h-16.6zM993.7 1723.8h16.6v17.8h-16.6zM362.1 1744.2h16.6v17.8h-16.6zM802.3 1744.2h16.6v17.8h-16.6zM1089.4 1744.2h16.6v17.8h-16.6zM649.2 1764.5h16.6v17.8h-16.6zM821.5 1764.5h16.6v17.8h-16.6zM534.4 1784.8h16.6v17.8h-16.6zM936.3 1784.8h16.6v17.8h-16.6zM591.8 1805.1h16.6v17.8h-16.6zM878.9 1805.1h16.6v17.8h-16.6zM457.8 1825.5h16.6v17.8h-16.6zM859.7 1825.5h16.6v17.8h-16.6zM362.1 1845.8h16.6v17.8h-16.6zM400.4 1845.8h16.6v17.8h-16.6zM534.4 1845.8h16.6v17.8h-16.6zM821.5 1845.8h16.6v17.8h-16.6zM228.1 1866.1h16.6v17.8h-16.6zM247.2 1866.1h16.6v17.8h-16.6zM668.3 1866.1h16.6v17.8h-16.6zM476.9 1886.4h16.6v17.8h-16.6zM572.6 1886.4h16.6v17.8h-16.6zM649.2 1886.4h16.6v17.8h-16.6zM189.8 1906.7h16.6v17.8h-16.6zM840.6 1906.7h16.6v17.8h-16.6zM974.6 1906.7h16.6v17.8h-16.6zM151.6 1927.0h16.6v17.8h-16.6zM362.1 1927.0h16.6v17.8h-16.6zM553.5 1927.0h16.6v17.8h-16.6zM821.5 1927.0h16.6v17.8h-16.6zM1032.0 1927.0h16.6v17.8h-16.6zM362.1 1947.4h16.6v17.8h-16.6zM400.4 1947.4h16.6v17.8h-16.6zM534.4 1947.4h16.6v17.8h-16.6zM821.5 1947.4h16.6v17.8h-16.6zM936.3 1967.7h16.6v17.8h-16.6zM189.8 1988.0h16.6v17.8h-16.6zM668.3 1988.0h16.6v17.8h-16.6zM457.8 2008.3h16.6v17.8h-16.6zM706.6 2008.3h16.6v17.8h-16.6zM744.9 2008.3h16.6v17.8h-16.6zM151.6 2028.7h16.6v17.8h-16.6zM189.8 2028.7h16.6v17.8h-16.6zM476.9 2028.7h16.6v17.8h-16.6zM304.7 2069.3h16.6v17.8h-16.6zM400.4 2069.3h16.6v17.8h-16.6zM744.9 2069.3h16.6v17.8h-16.6zM553.5 2089.6h16.6v17.8h-16.6zM1070.3 2089.6h16.6v17.8h-16.6zM189.8 2109.9h16.6v17.8h-16.6zM476.9 2109.9h16.6v17.8h-16.6z"/>
<path fill="#52c87b" d="M668.3 1114.2h16.6v17.8h-16.6zM151.6 1134.6h16.6v17.8h-16.6zM725.8 1134.6h16.6v17.8h-16.6zM821.5 1134.6h16.6v17.8h-16.6zM1070.3 1134.6h16.6v17.8h-16.6zM228.1 1154.9h16.6v17.8h-16.6zM266.4 1154.9h16.6v17.8h-16.6zM323.8 1154.9h16.6v17.8h-16.6zM457.8 1154.9h16.6v17.8h-16.6zM917.2 1154.9h16.6v17.8h-16.6zM936.3 1154.9h16.6v17.8h-16.6zM209.0 1175.2h16.6v17.8h-16.6zM247.2 1175.2h16.6v17.8h-16.6zM343.0 1175.2h16.6v17.8h-16.6zM457.8 1175.2h16.6v17.8h-16.6zM859.7 1175.2h16.6v17.8h-16.6zM1089.4 1175.2h16.6v17.8h-16.6zM285.5 1195.5h16.6v17.8h-16.6zM381.2 1195.5h16.6v17.8h-16.6zM438.7 1195.5h16.6v17.8h-16.6zM783.2 1195.5h16.6v17.8h-16.6zM859.7 1195.5h16.6v17.8h-16.6zM1012.9 1195.5h16.6v17.8h-16.6zM323.8 1215.8h16.6v17.8h-16.6zM362.1 1215.8h16.6v17.8h-16.6zM496.1 1215.8h16.6v17.8h-16.6zM668.3 1215.8h16.6v17.8h-16.6zM917.2 1215.8h16.6v17.8h-16.6zM993.7 1215.8h16.6v17.8h-16.6zM247.2 1236.2h16.6v17.8h-16.6zM266.4 1236.2h16.6v17.8h-16.6zM419.5 1236.2h16.6v17.8h-16.6zM553.5 1236.2h16.6v17.8h-16.6zM610.9 1236.2h16.6v17.8h-16.6zM993.7 1236.2h16.6v17.8h-16.6zM189.8 1256.5h16.6v17.8h-16.6zM936.3 1256.5h16.6v17.8h-16.6zM534.4 1276.8h16.6v17.8h-16.6zM553.5 1276.8h16.6v17.8h-16.6zM687.5 1276.8h16.6v17.8h-16.6zM744.9 1276.8h16.6v17.8h-16.6zM840.6 1276.8h16.6v17.8h-16.6zM974.6 1276.8h16.6v17.8h-16.6zM151.6 1297.1h16.6v17.8h-16.6zM266.4 1297.1h16.6v17.8h-16.6zM343.0 1297.1h16.6v17.8h-16.6zM438.7 1297.1h16.6v17.8h-16.6zM610.9 1297.1h16.6v17.8h-16.6zM151.6 1317.5h16.6v17.8h-16.6zM438.7 1317.5h16.6v17.8h-16.6zM457.8 1317.5h16.6v17.8h-16.6zM304.7 1337.8h16.6v17.8h-16.6zM898.0 1337.8h16.6v17.8h-16.6zM304.7 1358.1h16.6v17.8h-16.6zM993.7 1358.1h16.6v17.8h-16.6zM266.4 1378.4h16.6v17.8h-16.6zM859.7 1378.4h16.6v17.8h-16.6zM304.7 1398.7h16.6v17.8h-16.6zM400.4 1398.7h16.6v17.8h-16.6zM668.3 1398.7h16.6v17.8h-16.6zM687.5 1398.7h16.6v17.8h-16.6zM936.3 1398.7h16.6v17.8h-16.6zM151.6 1419.0h16.6v17.8h-16.6zM189.8 1419.0h16.6v17.8h-16.6zM476.9 1419.0h16.6v17.8h-16.6zM496.1 1419.0h16.6v17.8h-16.6zM572.6 1419.0h16.6v17.8h-16.6zM591.8 1419.0h16.6v17.8h-16.6zM649.2 1419.0h16.6v17.8h-16.6zM170.7 1439.4h16.6v17.8h-16.6zM362.1 1439.4h16.6v17.8h-16.6zM381.2 1439.4h16.6v17.8h-16.6zM898.0 1459.7h16.6v17.8h-16.6zM1051.1 1459.7h16.6v17.8h-16.6zM323.8 1480.0h16.6v17.8h-16.6zM438.7 1480.0h16.6v17.8h-16.6zM476.9 1480.0h16.6v17.8h-16.6zM783.2 1480.0h16.6v17.8h-16.6zM438.7 1500.3h16.6v17.8h-16.6zM706.6 1500.3h16.6v17.8h-16.6zM1032.0 1500.3h16.6v17.8h-16.6zM304.7 1520.7h16.6v17.8h-16.6zM591.8 1520.7h16.6v17.8h-16.6zM1012.9 1520.7h16.6v17.8h-16.6zM1032.0 1520.7h16.6v17.8h-16.6zM1070.3 1520.7h16.6v17.8h-16.6zM323.8 1541.0h16.6v17.8h-16.6zM515.2 1541.0h16.6v17.8h-16.6zM917.2 1541.0h16.6v17.8h-16.6zM151.6 1561.3h16.6v17.8h-16.6zM228.1 1561.3h16.6v17.8h-16.6zM476.9 1561.3h16.6v17.8h-16.6zM496.1 1581.6h16.6v17.8h-16.6zM898.0 1581.6h16.6v17.8h-16.6zM591.8 1601.9h16.6v17.8h-16.6zM859.7 1601.9h16.6v17.8h-16.6zM534.4 1622.2h16.6v17.8h-16.6zM649.2 1622.2h16.6v17.8h-16.6zM668.3 1622.2h16.6v17.8h-16.6zM209.0 1642.6h16.6v17.8h-16.6zM323.8 1642.6h16.6v17.8h-16.6zM362.1 1642.6h16.6v17.8h-16.6zM534.4 1642.6h16.6v17.8h-16.6zM764.0 1642.6h16.6v17.8h-16.6zM802.3 1642.6h16.6v17.8h-16.6zM151.6 1662.9h16.6v17.8h-16.6zM170.7 1662.9h16.6v17.8h-16.6zM438.7 1662.9h16.6v17.8h-16.6zM668.3 1662.9h16.6v17.8h-16.6zM1012.9 1662.9h16.6v17.8h-16.6zM534.4 1683.2h16.6v17.8h-16.6zM610.9 1683.2h16.6v17.8h-16.6zM668.3 1683.2h16.6v17.8h-16.6zM936.3 1683.2h16.6v17.8h-16.6zM247.2 1703.5h16.6v17.8h-16.6zM668.3 1703.5h16.6v17.8h-16.6zM744.9 1703.5h16.6v17.8h-16.6zM610.9 1723.8h16.6v17.8h-16.6zM668.3 1723.8h16.6v17.8h-16.6zM974.6 1723.8h16.6v17.8h-16.6zM228.1 1744.2h16.6v17.8h-16.6zM591.8 1744.2h16.6v17.8h-16.6zM974.6 1744.2h16.6v17.8h-16.6zM285.5 1764.5h16.6v17.8h-16.6zM343.0 1764.5h16.6v17.8h-16.6zM457.8 1764.5h16.6v17.8h-16.6zM553.5 1764.5h16.6v17.8h-16.6zM572.6 1764.5h16.6v17.8h-16.6zM668.3 1764.5h16.6v17.8h-16.6zM764.0 1764.5h16.6v17.8h-16.6zM1012.9 1764.5h16.6v17.8h-16.6zM323.8 1784.8h16.6v17.8h-16.6zM438.7 1784.8h16.6v17.8h-16.6zM553.5 1805.1h16.6v17.8h-16.6zM668.3 1805.1h16.6v17.8h-16.6zM802.3 1805.1h16.6v17.8h-16.6zM840.6 1805.1h16.6v17.8h-16.6zM151.6 1825.5h16.6v17.8h-16.6zM323.8 1825.5h16.6v17.8h-16.6zM362.1 1825.5h16.6v17.8h-16.6zM534.4 1825.5h16.6v17.8h-16.6zM591.8 1825.5h16.6v17.8h-16.6zM725.8 1825.5h16.6v17.8h-16.6zM840.6 1825.5h16.6v17.8h-16.6zM917.2 1825.5h16.6v17.8h-16.6zM553.5 1845.8h16.6v17.8h-16.6zM840.6 1845.8h16.6v17.8h-16.6zM209.0 1866.1h16.6v17.8h-16.6zM362.1 1866.1h16.6v17.8h-16.6zM381.2 1866.1h16.6v17.8h-16.6zM457.8 1866.1h16.6v17.8h-16.6zM687.5 1866.1h16.6v17.8h-16.6zM1089.4 1866.1h16.6v17.8h-16.6zM266.4 1886.4h16.6v17.8h-16.6zM744.9 1886.4h16.6v17.8h-16.6zM802.3 1886.4h16.6v17.8h-16.6zM898.0 1886.4h16.6v17.8h-16.6zM993.7 1886.4h16.6v17.8h-16.6zM438.7 1906.7h16.6v17.8h-16.6zM591.8 1906.7h16.6v17.8h-16.6zM725.8 1906.7h16.6v17.8h-16.6zM802.3 1906.7h16.6v17.8h-16.6zM323.8 1927.0h16.6v17.8h-16.6zM343.0 1927.0h16.6v17.8h-16.6zM534.4 1927.0h16.6v17.8h-16.6zM553.5 1947.4h16.6v17.8h-16.6zM840.6 1947.4h16.6v17.8h-16.6zM304.7 1967.7h16.6v17.8h-16.6zM343.0 1967.7h16.6v17.8h-16.6zM572.6 1967.7h16.6v17.8h-16.6zM1012.9 1967.7h16.6v17.8h-16.6zM151.6 1988.0h16.6v17.8h-16.6zM591.8 1988.0h16.6v17.8h-16.6zM993.7 1988.0h16.6v17.8h-16.6zM285.5 2028.7h16.6v17.8h-16.6zM381.2 2028.7h16.6v17.8h-16.6zM438.7 2028.7h16.6v17.8h-16.6zM783.2 2028.7h16.6v17.8h-16.6zM859.7 2028.7h16.6v17.8h-16.6zM1012.9 2028.7h16.6v17.8h-16.6zM170.7 2049.0h16.6v17.8h-16.6zM209.0 2049.0h16.6v17.8h-16.6zM457.8 2049.0h16.6v17.8h-16.6zM247.2 2069.3h16.6v17.8h-16.6zM285.5 2069.3h16.6v17.8h-16.6zM783.2 2069.3h16.6v17.8h-16.6zM802.3 2069.3h16.6v17.8h-16.6zM266.4 2089.6h16.6v17.8h-16.6zM362.1 2089.6h16.6v17.8h-16.6zM496.1 2089.6h16.6v17.8h-16.6zM668.3 2089.6h16.6v17.8h-16.6zM840.6 2089.6h16.6v17.8h-16.6zM859.7 2089.6h16.6v17.8h-16.6zM170.7 2109.9h16.6v17.8h-16.6zM209.0 2109.9h16.6v17.8h-16.6zM247.2 2109.9h16.6v17.8h-16.6zM266.4 2109.9h16.6v17.8h-16.6zM457.8 2109.9h16.6v17.8h-16.6zM496.1 2109.9h16.6v17.8h-16.6zM534.4 2109.9h16.6v17.8h-16.6z"/>
<path fill="#8bd27d" d="M304.7 1114.2h16.6v17.8h-16.6zM400.4 1114.2h16.6v17.8h-16.6zM457.8 1114.2h16.6v17.8h-16.6zM744.9 1114.2h16.6v17.8h-16.6zM993.7 1114.2h16.6v17.8h-16.6zM476.9 1134.6h16.6v17.8h-16.6zM304.7 1154.9h16.6v17.8h-16.6zM515.2 1154.9h16.6v17.8h-16.6zM668.3 1154.9h16.6v17.8h-16.6zM802.3 1154.9h16.6v17.8h-16.6zM476.9 1175.2h16.6v17.8h-16.6zM553.5 1175.2h16.6v17.8h-16.6zM764.0 1175.2h16.6v17.8h-16.6zM821.5 1175.2h16.6v17.8h-16.6zM266.4 1195.5h16.6v17.8h-16.6zM553.5 1195.5h16.6v17.8h-16.6zM706.6 1195.5h16.6v17.8h-16.6zM725.8 1195.5h16.6v17.8h-16.6zM744.9 1195.5h16.6v17.8h-16.6zM917.2 1195.5h16.6v17.8h-16.6zM228.1 1215.8h16.6v17.8h-16.6zM304.7 1215.8h16.6v17.8h-16.6zM515.2 1215.8h16.6v17.8h-16.6zM764.0 1215.8h16.6v17.8h-16.6zM1070.3 1215.8h16.6v17.8h-16.6zM189.8 1236.2h16.6v17.8h-16.6zM151.6 1256.5h16.6v17.8h-16.6zM323.8 1256.5h16.6v17.8h-16.6zM170.7 1276.8h16.6v17.8h-16.6zM209.0 1276.8h16.6v17.8h-16.6zM323.8 1276.8h16.6v17.8h-16.6zM572.6 1276.8h16.6v17.8h-16.6zM649.2 1276.8h16.6v17.8h-16.6zM668.3 1297.1h16.6v17.8h-16.6zM1012.9 1297.1h16.6v17.8h-16.6zM247.2 1317.5h16.6v17.8h-16.6zM496.1 1317.5h16.6v17.8h-16.6zM553.5 1317.5h16.6v17.8h-16.6zM668.3 1317.5h16.6v17.8h-16.6zM764.0 1317.5h16.6v17.8h-16.6zM802.3 1317.5h16.6v17.8h-16.6zM993.7 1317.5h16.6v17.8h-16.6zM189.8 1337.8h16.6v17.8h-16.6zM228.1 1337.8h16.6v17.8h-16.6zM343.0 1337.8h16.6v17.8h-16.6zM400.4 1337.8h16.6v17.8h-16.6zM419.5 1337.8h16.6v17.8h-16.6zM668.3 1337.8h16.6v17.8h-16.6zM725.8 1337.8h16.6v17.8h-16.6zM1012.9 1337.8h16.6v17.8h-16.6zM151.6 1358.1h16.6v17.8h-16.6zM400.4 1358.1h16.6v17.8h-16.6zM496.1 1358.1h16.6v17.8h-16.6zM515.2 1358.1h16.6v17.8h-16.6zM706.6 1358.1h16.6v17.8h-16.6zM802.3 1358.1h16.6v17.8h-16.6zM840.6 1358.1h16.6v17.8h-16.6zM974.6 1358.1h16.6v17.8h-16.6zM151.6 1378.4h16.6v17.8h-16.6zM228.1 1378.4h16.6v17.8h-16.6zM323.8 1378.4h16.6v17.8h-16.6zM362.1 1378.4h16.6v17.8h-16.6zM802.3 1378.4h16.6v17.8h-16.6zM974.6 1378.4h16.6v17.8h-16.6zM189.8 1398.7h16.6v17.8h-16.6zM381.2 1398.7h16.6v17.8h-16.6zM534.4 1398.7h16.6v17.8h-16.6zM591.8 1398.7h16.6v17.8h-16.6zM974.6 1398.7h16.6v17.8h-16.6zM381.2 1419.0h16.6v17.8h-16.6zM553.5 1419.0h16.6v17.8h-16.6zM725.8 1419.0h16.6v17.8h-16.6zM974.6 1419.0h16.6v17.8h-16.6zM247.2 1439.4h16.6v17.8h-16.6zM457.8 1439.4h16.6v17.8h-16.6zM917.2 1439.4h16.6v17.8h-16.6zM1012.9 1439.4h16.6v17.8h-16.6zM285.5 1459.7h16.6v17.8h-16.6zM362.1 1459.7h16.6v17.8h-16.6zM572.6 1459.7h16.6v17.8h-16.6zM630.0 1459.7h16.6v17.8h-16.6zM668.3 1459.7h16.6v17.8h-16.6zM725.8 1459.7h16.6v17.8h-16.6zM744.9 1459.7h16.6v17.8h-16.6zM917.2 1459.7h16.6v17.8h-16.6zM170.7 1480.0h16.6v17.8h-16.6zM189.8 1480.0h16.6v17.8h-16.6zM496.1 1480.0h16.6v17.8h-16.6zM668.3 1480.0h16.6v17.8h-16.6zM1012.9 1480.0h16.6v17.8h-16.6zM170.7 1500.3h16.6v17.8h-16.6zM209.0 1500.3h16.6v17.8h-16.6zM362.1 1500.3h16.6v17.8h-16.6zM687.5 1500.3h16.6v17.8h-16.6zM744.9 1500.3h16.6v17.8h-16.6zM821.5 1500.3h16.6v17.8h-16.6zM898.0 1500.3h16.6v17.8h-16.6zM936.3 1500.3h16.6v17.8h-16.6zM993.7 1500.3h16.6v17.8h-16.6zM247.2 1520.7h16.6v17.8h-16.6zM285.5 1520.7h16.6v17.8h-16.6zM457.8 1520.7h16.6v17.8h-16.6zM706.6 1520.7h16.6v17.8h-16.6zM783.2 1520.7h16.6v17.8h-16.6zM859.7 1520.7h16.6v17.8h-16.6zM362.1 1541.0h16.6v17.8h-16.6zM591.8 1541.0h16.6v17.8h-16.6zM706.6 1541.0h16.6v17.8h-16.6zM878.9 1541.0h16.6v17.8h-16.6zM247.2 1561.3h16.6v17.8h-16.6zM285.5 1561.3h16.6v17.8h-16.6zM496.1 1561.3h16.6v17.8h-16.6zM572.6 1561.3h16.6v17.8h-16.6zM1012.9 1561.3h16.6v17.8h-16.6zM1032.0 1561.3h16.6v17.8h-16.6zM151.6 1581.6h16.6v17.8h-16.6zM457.8 1581.6h16.6v17.8h-16.6zM515.2 1581.6h16.6v17.8h-16.6zM553.5 1581.6h16.6v17.8h-16.6zM591.8 1581.6h16.6v17.8h-16.6zM610.9 1581.6h16.6v17.8h-16.6zM821.5 1581.6h16.6v17.8h-16.6zM936.3 1581.6h16.6v17.8h-16.6zM189.8 1601.9h16.6v17.8h-16.6zM400.4 1601.9h16.6v17.8h-16.6zM534.4 1601.9h16.6v17.8h-16.6zM572.6 1601.9h16.6v17.8h-16.6zM649.2 1601.9h16.6v17.8h-16.6zM725.8 1601.9h16.6v17.8h-16.6zM993.7 1601.9h16.6v17.8h-16.6zM381.2 1622.2h16.6v17.8h-16.6zM476.9 1622.2h16.6v17.8h-16.6zM591.8 1622.2h16.6v17.8h-16.6zM630.0 1622.2h16.6v17.8h-16.6zM859.7 1622.2h16.6v17.8h-16.6zM898.0 1622.2h16.6v17.8h-16.6zM917.2 1622.2h16.6v17.8h-16.6zM974.6 1622.2h16.6v17.8h-16.6zM170.7 1642.6h16.6v17.8h-16.6zM476.9 1642.6h16.6v17.8h-16.6zM553.5 1642.6h16.6v17.8h-16.6zM266.4 1662.9h16.6v17.8h-16.6zM476.9 1662.9h16.6v17.8h-16.6zM534.4 1662.9h16.6v17.8h-16.6zM228.1 1683.2h16.6v17.8h-16.6zM285.5 1683.2h16.6v17.8h-16.6zM706.6 1683.2h16.6v17.8h-16.6zM840.6 1683.2h16.6v17.8h-16.6zM1032.0 1683.2h16.6v17.8h-16.6zM343.0 1703.5h16.6v17.8h-16.6zM381.2 1703.5h16.6v17.8h-16.6zM400.4 1703.5h16.6v17.8h-16.6zM438.7 1703.5h16.6v17.8h-16.6zM706.6 1703.5h16.6v17.8h-16.6zM725.8 1703.5h16.6v17.8h-16.6zM189.8 1723.8h16.6v17.8h-16.6zM476.9 1723.8h16.6v17.8h-16.6zM572.6 1723.8h16.6v17.8h-16.6zM170.7 1744.2h16.6v17.8h-16.6zM266.4 1744.2h16.6v17.8h-16.6zM400.4 1744.2h16.6v17.8h-16.6zM496.1 1744.2h16.6v17.8h-16.6zM515.2 1744.2h16.6v17.8h-16.6zM572.6 1744.2h16.6v17.8h-16.6zM630.0 1744.2h16.6v17.8h-16.6zM764.0 1744.2h16.6v17.8h-16.6zM840.6 1744.2h16.6v17.8h-16.6zM304.7 1764.5h16.6v17.8h-16.6zM362.1 1764.5h16.6v17.8h-16.6zM476.9 1764.5h16.6v17.8h-16.6zM534.4 1764.5h16.6v17.8h-16.6zM936.3 1764.5h16.6v17.8h-16.6zM1089.4 1764.5h16.6v17.8h-16.6zM189.8 1784.8h16.6v17.8h-16.6zM419.5 1784.8h16.6v17.8h-16.6zM630.0 1784.8h16.6v17.8h-16.6zM687.5 1784.8h16.6v17.8h-16.6zM898.0 1784.8h16.6v17.8h-16.6zM1032.0 1784.8h16.6v17.8h-16.6zM247.2 1805.1h16.6v17.8h-16.6zM266.4 1805.1h16.6v17.8h-16.6zM457.8 1805.1h16.6v17.8h-16.6zM706.6 1805.1h16.6v17.8h-16.6zM572.6 1825.5h16.6v17.8h-16.6zM630.0 1825.5h16.6v17.8h-16.6zM898.0 1825.5h16.6v17.8h-16.6zM936.3 1825.5h16.6v17.8h-16.6zM189.8 1845.8h16.6v17.8h-16.6zM209.0 1845.8h16.6v17.8h-16.6zM515.2 1845.8h16.6v17.8h-16.6zM783.2 1845.8h16.6v17.8h-16.6zM936.3 1845.8h16.6v17.8h-16.6zM993.7 1845.8h16.6v17.8h-16.6zM323.8 1866.1h16.6v17.8h-16.6zM343.0 1866.1h16.6v17.8h-16.6zM515.2 1866.1h16.6v17.8h-16.6zM725.8 1866.1h16.6v17.8h-16.6zM1032.0 1866.1h16.6v17.8h-16.6zM189.8 1886.4h16.6v17.8h-16.6zM400.4 1886.4h16.6v17.8h-16.6zM610.9 1886.4h16.6v17.8h-16.6zM725.8 1886.4h16.6v17.8h-16.6zM974.6 1886.4h16.6v17.8h-16.6zM343.0 1906.7h16.6v17.8h-16.6zM457.8 1906.7h16.6v17.8h-16.6zM821.5 1906.7h16.6v17.8h-16.6zM936.3 1906.7h16.6v17.8h-16.6zM610.9 1927.0h16.6v17.8h-16.6zM649.2 1927.0h16.6v17.8h-16.6zM840.6 1927.0h16.6v17.8h-16.6zM974.6 1927.0h16.6v17.8h-16.6zM189.8 1947.4h16.6v17.8h-16.6zM209.0 1947.4h16.6v17.8h-16.6zM515.2 1947.4h16.6v17.8h-16.6zM783.2 1947.4h16.6v17.8h-16.6zM936.3 1947.4h16.6v17.8h-16.6zM993.7 1947.4h16.6v17.8h-16.6zM725.8 1967.7h16.6v17.8h-16.6zM821.5 1967.7h16.6v17.8h-16.6zM840.6 1967.7h16.6v17.8h-16.6zM898.0 1967.7h16.6v17.8h-16.6zM170.7 1988.0h16.6v17.8h-16.6zM343.0 1988.0h16.6v17.8h-16.6zM381.2 1988.0h16.6v17.8h-16.6zM515.2 1988.0h16.6v17.8h-16.6zM649.2 1988.0h16.6v17.8h-16.6zM821.5 1988.0h16.6v17.8h-16.6zM878.9 1988.0h16.6v17.8h-16.6zM1012.9 1988.0h16.6v17.8h-16.6zM247.2 2008.3h16.6v17.8h-16.6zM266.4 2008.3h16.6v17.8h-16.6zM400.4 2008.3h16.6v17.8h-16.6zM572.6 2008.3h16.6v17.8h-16.6zM783.2 2008.3h16.6v17.8h-16.6zM936.3 2008.3h16.6v17.8h-16.6zM266.4 2028.7h16.6v17.8h-16.6zM553.5 2028.7h16.6v17.8h-16.6zM706.6 2028.7h16.6v17.8h-16.6zM725.8 2028.7h16.6v17.8h-16.6zM744.9 2028.7h16.6v17.8h-16.6zM917.2 2028.7h16.6v17.8h-16.6zM247.2 2049.0h16.6v17.8h-16.6zM381.2 2049.0h16.6v17.8h-16.6zM476.9 2049.0h16.6v17.8h-16.6zM572.6 2049.0h16.6v17.8h-16.6zM649.2 2049.0h16.6v17.8h-16.6zM687.5 2049.0h16.6v17.8h-16.6zM955.4 2049.0h16.6v17.8h-16.6zM1012.9 2049.0h16.6v17.8h-16.6zM151.6 2069.3h16.6v17.8h-16.6zM189.8 2069.3h16.6v17.8h-16.6zM476.9 2069.3h16.6v17.8h-16.6zM572.6 2069.3h16.6v17.8h-16.6zM687.5 2069.3h16.6v17.8h-16.6zM821.5 2069.3h16.6v17.8h-16.6zM381.2 2089.6h16.6v17.8h-16.6zM515.2 2089.6h16.6v17.8h-16.6zM572.6 2089.6h16.6v17.8h-16.6zM687.5 2089.6h16.6v17.8h-16.6zM1012.9 2089.6h16.6v17.8h-16.6zM304.7 2109.9h16.6v17.8h-16.6zM419.5 2109.9h16.6v17.8h-16.6zM974.6 2109.9h16.6v17.8h-16.6z"/>
<path fill="#b8da7e" d="M170.7 1114.2h16.6v17.8h-16.6zM438.7 1114.2h16.6v17.8h-16.6zM534.4 1114.2h16.6v17.8h-16.6zM802.3 1114.2h16.6v17.8h-16.6zM917.2 1114.2h16.6v17.8h-16.6zM1070.3 1114.2h16.6v17.8h-16.6zM362.1 1134.6h16.6v17.8h-16.6zM898.0 1134.6h16.6v17.8h-16.6zM936.3 1134.6h16.6v17.8h-16.6zM974.6 1134.6h16.6v17.8h-16.6zM1012.9 1134.6h16.6v17.8h-16.6zM1032.0 1134.6h16.6v17.8h-16.6zM438.7 1154.9h16.6v17.8h-16.6zM706.6 1154.9h16.6v17.8h-16.6zM764.0 1154.9h16.6v17.8h-16.6zM840.6 1154.9h16.6v17.8h-16.6zM381.2 1175.2h16.6v17.8h-16.6zM974.6 1175.2h16.6v17.8h-16.6zM993.7 1175.2h16.6v17.8h-16.6zM1012.9 1175.2h16.6v17.8h-16.6zM343.0 1195.5h16.6v17.8h-16.6zM362.1 1195.5h16.6v17.8h-16.6zM496.1 1195.5h16.6v17.8h-16.6zM515.2 1195.5h16.6v17.8h-16.6zM668.3 1195.5h16.6v17.8h-16.6zM1070.3 1195.5h16.6v17.8h-16.6zM209.0 1215.8h16.6v17.8h-16.6zM285.5 1215.8h16.6v17.8h-16.6zM381.2 1215.8h16.6v17.8h-16.6zM438.7 1215.8h16.6v17.8h-16.6zM476.9 1215.8h16.6v17.8h-16.6zM859.7 1215.8h16.6v17.8h-16.6zM1051.1 1215.8h16.6v17.8h-16.6zM783.2 1236.2h16.6v17.8h-16.6zM1012.9 1236.2h16.6v17.8h-16.6zM228.1 1256.5h16.6v17.8h-16.6zM515.2 1256.5h16.6v17.8h-16.6zM630.0 1256.5h16.6v17.8h-16.6zM898.0 1256.5h16.6v17.8h-16.6zM974.6 1256.5h16.6v17.8h-16.6zM1032.0 1256.5h16.6v17.8h-16.6zM304.7 1276.8h16.6v17.8h-16.6zM362.1 1276.8h16.6v17.8h-16.6zM515.2 1276.8h16.6v17.8h-16.6zM610.9 1276.8h16.6v17.8h-16.6zM1089.4 1276.8h16.6v17.8h-16.6zM247.2 1297.1h16.6v17.8h-16.6zM419.5 1297.1h16.6v17.8h-16.6zM457.8 1297.1h16.6v17.8h-16.6zM821.5 1297.1h16.6v17.8h-16.6zM993.7 1297.1h16.6v17.8h-16.6zM189.8 1317.5h16.6v17.8h-16.6zM209.0 1317.5h16.6v17.8h-16.6zM266.4 1317.5h16.6v17.8h-16.6zM343.0 1317.5h16.6v17.8h-16.6zM381.2 1317.5h16.6v17.8h-16.6zM534.4 1317.5h16.6v17.8h-16.6zM840.6 1317.5h16.6v17.8h-16.6zM955.4 1317.5h16.6v17.8h-16.6zM1070.3 1317.5h16.6v17.8h-16.6zM209.0 1337.8h16.6v17.8h-16.6zM362.1 1337.8h16.6v17.8h-16.6zM381.2 1337.8h16.6v17.8h-16.6zM496.1 1337.8h16.6v17.8h-16.6zM840.6 1337.8h16.6v17.8h-16.6zM993.7 1337.8h16.6v17.8h-16.6zM1089.4 1337.8h16.6v17.8h-16.6zM534.4 1358.1h16.6v17.8h-16.6zM610.9 1358.1h16.6v17.8h-16.6zM764.0 1358.1h16.6v17.8h-16.6zM821.5 1358.1h16.6v17.8h-16.6zM936.3 1358.1h16.6v17.8h-16.6zM955.4 1358.1h16.6v17.8h-16.6zM1032.0 1358.1h16.6v17.8h-16.6zM1089.4 1358.1h16.6v17.8h-16.6zM687.5 1378.4h16.6v17.8h-16.6zM783.2 1378.4h16.6v17.8h-16.6zM840.6 1378.4h16.6v17.8h-16.6zM936.3 1378.4h16.6v17.8h-16.6zM170.7 1398.7h16.6v17.8h-16.6zM228.1 1398.7h16.6v17.8h-16.6zM266.4 1398.7h16.6v17.8h-16.6zM744.9 1398.7h16.6v17.8h-16.6zM859.7 1398.7h16.6v17.8h-16.6zM955.4 1398.7h16.6v17.8h-16.6zM993.7 1398.7h16.6v17.8h-16.6zM285.5 1419.0h16.6v17.8h-16.6zM400.4 1419.0h16.6v17.8h-16.6zM438.7 1419.0h16.6v17.8h-16.6zM457.8 1419.0h16.6v17.8h-16.6zM228.1 1439.4h16.6v17.8h-16.6zM744.9 1439.4h16.6v17.8h-16.6zM764.0 1439.4h16.6v17.8h-16.6zM1070.3 1439.4h16.6v17.8h-16.6zM228.1 1459.7h16.6v17.8h-16.6zM266.4 1459.7h16.6v17.8h-16.6zM304.7 1459.7h16.6v17.8h-16.6zM381.2 1459.7h16.6v17.8h-16.6zM649.2 1459.7h16.6v17.8h-16.6zM802.3 1459.7h16.6v17.8h-16.6zM936.3 1459.7h16.6v17.8h-16.6zM955.4 1459.7h16.6v17.8h-16.6zM304.7 1480.0h16.6v17.8h-16.6zM343.0 1480.0h16.6v17.8h-16.6zM381.2 1480.0h16.6v17.8h-16.6zM400.4 1480.0h16.6v17.8h-16.6zM649.2 1480.0h16.6v17.8h-16.6zM764.0 1480.0h16.6v17.8h-16.6zM802.3 1480.0h16.6v17.8h-16.6zM936.3 1480.0h16.6v17.8h-16.6zM1070.3 1480.0h16.6v17.8h-16.6zM189.8 1500.3h16.6v17.8h-16.6zM381.2 1500.3h16.6v17.8h-16.6zM515.2 1500.3h16.6v17.8h-16.6zM630.0 1500.3h16.6v17.8h-16.6zM725.8 1500.3h16.6v17.8h-16.6zM840.6 1500.3h16.6v17.8h-16.6zM878.9 1500.3h16.6v17.8h-16.6zM151.6 1520.7h16.6v17.8h-16.6zM228.1 1520.7h16.6v17.8h-16.6zM725.8 1520.7h16.6v17.8h-16.6zM840.6 1520.7h16.6v17.8h-16.6zM209.0 1541.0h16.6v17.8h-16.6zM228.1 1541.0h16.6v17.8h-16.6zM285.5 1541.0h16.6v17.8h-16.6zM400.4 1541.0h16.6v17.8h-16.6zM496.1 1541.0h16.6v17.8h-16.6zM668.3 1541.0h16.6v17.8h-16.6zM687.5 1541.0h16.6v17.8h-16.6zM744.9 1541.0h16.6v17.8h-16.6zM898.0 1541.0h16.6v17.8h-16.6zM343.0 1561.3h16.6v17.8h-16.6zM534.4 1561.3h16.6v17.8h-16.6zM630.0 1561.3h16.6v17.8h-16.6zM247.2 1581.6h16.6v17.8h-16.6zM323.8 1581.6h16.6v17.8h-16.6zM438.7 1581.6h16.6v17.8h-16.6zM783.2 1581.6h16.6v17.8h-16.6zM151.6 1601.9h16.6v17.8h-16.6zM285.5 1601.9h16.6v17.8h-16.6zM323.8 1601.9h16.6v17.8h-16.6zM343.0 1601.9h16.6v17.8h-16.6zM496.1 1601.9h16.6v17.8h-16.6zM515.2 1601.9h16.6v17.8h-16.6zM687.5 1601.9h16.6v17.8h-16.6zM783.2 1601.9h16.6v17.8h-16.6zM189.8 1622.2h16.6v17.8h-16.6zM209.0 1622.2h16.6v17.8h-16.6zM304.7 1622.2h16.6v17.8h-16.6zM400.4 1622.2h16.6v17.8h-16.6zM744.9 1622.2h16.6v17.8h-16.6zM878.9 1622.2h16.6v17.8h-16.6zM1012.9 1622.2h16.6v17.8h-16.6zM591.8 1642.6h16.6v17.8h-16.6zM859.7 1642.6h16.6v17.8h-16.6zM955.4 1642.6h16.6v17.8h-16.6zM1012.9 1642.6h16.6v17.8h-16.6zM1051.1 1642.6h16.6v17.8h-16.6zM1089.4 1642.6h16.6v17.8h-16.6zM285.5 1662.9h16.6v17.8h-16.6zM840.6 1662.9h16.6v17.8h-16.6zM859.7 1662.9h16.6v17.8h-16.6zM993.7 1662.9h16.6v17.8h-16.6zM1032.0 1662.9h16.6v17.8h-16.6zM189.8 1683.2h16.6v17.8h-16.6zM209.0 1683.2h16.6v17.8h-16.6zM343.0 1683.2h16.6v17.8h-16.6zM496.1 1683.2h16.6v17.8h-16.6zM572.6 1683.2h16.6v17.8h-16.6zM630.0 1683.2h16.6v17.8h-16.6zM362.1 1703.5h16.6v17.8h-16.6zM591.8 1703.5h16.6v17.8h-16.6zM649.2 1703.5h16.6v17.8h-16.6zM783.2 1703.5h16.6v17.8h-16.6zM1012.9 1703.5h16.6v17.8h-16.6zM1032.0 1703.5h16.6v17.8h-16.6zM1070.3 1703.5h16.6v17.8h-16.6zM170.7 1723.8h16.6v17.8h-16.6zM209.0 1723.8h16.6v17.8h-16.6zM304.7 1723.8h16.6v17.8h-16.6zM362.1 1723.8h16.6v17.8h-16.6zM457.8 1723.8h16.6v17.8h-16.6zM496.1 1723.8h16.6v17.8h-16.6zM553.5 1723.8h16.6v17.8h-16.6zM764.0 1723.8h16.6v17.8h-16.6zM1070.3 1723.8h16.6v17.8h-16.6zM151.6 1744.2h16.6v17.8h-16.6zM304.7 1744.2h16.6v17.8h-16.6zM381.2 1744.2h16.6v17.8h-16.6zM419.5 1744.2h16.6v17.8h-16.6zM649.2 1744.2h16.6v17.8h-16.6zM744.9 1744.2h16.6v17.8h-16.6zM783.2 1744.2h16.6v17.8h-16.6zM878.9 1744.2h16.6v17.8h-16.6zM898.0 1744.2h16.6v17.8h-16.6zM1051.1 1744.2h16.6v17.8h-16.6zM266.4 1764.5h16.6v17.8h-16.6zM323.8 1764.5h16.6v17.8h-16.6zM610.9 1764.5h16.6v17.8h-16.6zM706.6 1764.5h16.6v17.8h-16.6zM802.3 1764.5h16.6v17.8h-16.6zM840.6 1764.5h16.6v17.8h-16.6zM955.4 1764.5h16.6v17.8h-16.6zM304.7 1784.8h16.6v17.8h-16.6zM668.3 1784.8h16.6v17.8h-16.6zM1012.9 1784.8h16.6v17.8h-16.6zM1070.3 1784.8h16.6v17.8h-16.6zM323.8 1805.1h16.6v17.8h-16.6zM438.7 1805.1h16.6v17.8h-16.6zM515.2 1805.1h16.6v17.8h-16.6zM1032.0 1805.1h16.6v17.8h-16.6zM266.4 1825.5h16.6v17.8h-16.6zM381.2 1825.5h16.6v17.8h-16.6zM515.2 1825.5h16.6v17.8h-16.6zM668.3 1825.5h16.6v17.8h-16.6zM1012.9 1825.5h16.6v17.8h-16.6zM1051.1 1825.5h16.6v17.8h-16.6zM1089.4 1825.5h16.6v17.8h-16.6zM266.4 1845.8h16.6v17.8h-16.6zM381.2 1845.8h16.6v17.8h-16.6zM476.9 1845.8h16.6v17.8h-16.6zM706.6 1845.8h16.6v17.8h-16.6zM725.8 1845.8h16.6v17.8h-16.6zM917.2 1845.8h16.6v17.8h-16.6zM1070.3 1845.8h16.6v17.8h-16.6zM151.6 1866.1h16.6v17.8h-16.6zM170.7 1866.1h16.6v17.8h-16.6zM859.7 1866.1h16.6v17.8h-16.6zM898.0 1866.1h16.6v17.8h-16.6zM151.6 1886.4h16.6v17.8h-16.6zM209.0 1886.4h16.6v17.8h-16.6zM534.4 1886.4h16.6v17.8h-16.6zM591.8 1886.4h16.6v17.8h-16.6zM706.6 1886.4h16.6v17.8h-16.6zM151.6 1906.7h16.6v17.8h-16.6zM209.0 1906.7h16.6v17.8h-16.6zM419.5 1906.7h16.6v17.8h-16.6zM610.9 1906.7h16.6v17.8h-16.6zM706.6 1906.7h16.6v17.8h-16.6zM764.0 1906.7h16.6v17.8h-16.6zM898.0 1906.7h16.6v17.8h-16.6zM955.4 1906.7h16.6v17.8h-16.6zM993.7 1906.7h16.6v17.8h-16.6zM189.8 1927.0h16.6v17.8h-16.6zM247.2 1927.0h16.6v17.8h-16.6zM266.4 1927.0h16.6v17.8h-16.6zM381.2 1927.0h16.6v17.8h-16.6zM476.9 1927.0h16.6v17.8h-16.6zM496.1 1927.0h16.6v17.8h-16.6zM668.3 1927.0h16.6v17.8h-16.6zM1051.1 1927.0h16.6v17.8h-16.6zM1070.3 1927.0h16.6v17.8h-16.6zM266.4 1947.4h16.6v17.8h-16.6zM381.2 1947.4h16.6v17.8h-16.6zM476.9 1947.4h16.6v17.8h-16.6zM706.6 1947.4h16.6v17.8h-16.6zM725.8 1947.4h16.6v17.8h-16.6zM917.2 1947.4h16.6v17.8h-16.6zM1070.3 1947.4h16.6v17.8h-16.6zM170.7 1967.7h16.6v17.8h-16.6zM534.4 1967.7h16.6v17.8h-16.6zM553.5 1967.7h16.6v17.8h-16.6zM687.5 1967.7h16.6v17.8h-16.6zM859.7 1967.7h16.6v17.8h-16.6zM917.2 1967.7h16.6v17.8h-16.6zM974.6 1967.7h16.6v17.8h-16.6zM1051.1 1967.7h16.6v17.8h-16.6zM1089.4 1967.7h16.6v17.8h-16.6zM323.8 1988.0h16.6v17.8h-16.6zM362.1 1988.0h16.6v17.8h-16.6zM553.5 1988.0h16.6v17.8h-16.6zM764.0 1988.0h16.6v17.8h-16.6zM840.6 1988.0h16.6v17.8h-16.6zM285.5 2008.3h16.6v17.8h-16.6zM323.8 2008.3h16.6v17.8h-16.6zM381.2 2008.3h16.6v17.8h-16.6zM419.5 2008.3h16.6v17.8h-16.6zM591.8 2008.3h16.6v17.8h-16.6zM687.5 2008.3h16.6v17.8h-16.6zM802.3 2008.3h16.6v17.8h-16.6zM1012.9 2008.3h16.6v17.8h-16.6zM343.0 2028.7h16.6v17.8h-16.6zM362.1 2028.7h16.6v17.8h-16.6zM496.1 2028.7h16.6v17.8h-16.6zM515.2 2028.7h16.6v17.8h-16.6zM668.3 2028.7h16.6v17.8h-16.6zM1070.3 2028.7h16.6v17.8h-16.6zM438.7 2049.0h16.6v17.8h-16.6zM591.8 2049.0h16.6v17.8h-16.6zM209.0 2069.3h16.6v17.8h-16.6zM228.1 2069.3h16.6v17.8h-16.6zM323.8 2069.3h16.6v17.8h-16.6zM362.1 2069.3h16.6v17.8h-16.6zM668.3 2069.3h16.6v17.8h-16.6zM878.9 2069.3h16.6v17.8h-16.6zM898.0 2069.3h16.6v17.8h-16.6zM1032.0 2069.3h16.6v17.8h-16.6zM189.8 2089.6h16.6v17.8h-16.6zM209.0 2089.6h16.6v17.8h-16.6zM419.5 2089.6h16.6v17.8h-16.6zM476.9 2089.6h16.6v17.8h-16.6zM802.3 2089.6h16.6v17.8h-16.6zM936.3 2089.6h16.6v17.8h-16.6zM400.4 2109.9h16.6v17.8h-16.6zM438.7 2109.9h16.6v17.8h-16.6zM802.3 2109.9h16.6v17.8h-16.6z"/>
<path fill="#e0e383" d="M343.0 1114.2h16.6v17.8h-16.6zM572.6 1114.2h16.6v17.8h-16.6zM744.9 1134.6h16.6v17.8h-16.6zM764.0 1134.6h16.6v17.8h-16.6zM802.3 1134.6h16.6v17.8h-16.6zM993.7 1134.6h16.6v17.8h-16.6zM1089.4 1134.6h16.6v17.8h-16.6zM209.0 1154.9h16.6v17.8h-16.6zM362.1 1154.9h16.6v17.8h-16.6zM993.7 1154.9h16.6v17.8h-16.6zM151.6 1175.2h16.6v17.8h-16.6zM419.5 1175.2h16.6v17.8h-16.6zM572.6 1175.2h16.6v17.8h-16.6zM955.4 1175.2h16.6v17.8h-16.6zM630.0 1195.5h16.6v17.8h-16.6zM974.6 1195.5h16.6v17.8h-16.6zM725.8 1215.8h16.6v17.8h-16.6zM151.6 1236.2h16.6v17.8h-16.6zM304.7 1236.2h16.6v17.8h-16.6zM323.8 1236.2h16.6v17.8h-16.6zM725.8 1236.2h16.6v17.8h-16.6zM764.0 1236.2h16.6v17.8h-16.6zM247.2 1256.5h16.6v17.8h-16.6zM419.5 1256.5h16.6v17.8h-16.6zM878.9 1256.5h16.6v17.8h-16.6zM1070.3 1256.5h16.6v17.8h-16.6zM285.5 1276.8h16.6v17.8h-16.6zM802.3 1276.8h16.6v17.8h-16.6zM993.7 1276.8h16.6v17.8h-16.6zM189.8 1297.1h16.6v17.8h-16.6zM553.5 1297.1h16.6v17.8h-16.6zM572.6 1297.1h16.6v17.8h-16.6zM706.6 1297.1h16.6v17.8h-16.6zM878.9 1297.1h16.6v17.8h-16.6zM955.4 1297.1h16.6v17.8h-16.6zM1032.0 1297.1h16.6v17.8h-16.6zM228.1 1317.5h16.6v17.8h-16.6zM400.4 1317.5h16.6v17.8h-16.6zM783.2 1317.5h16.6v17.8h-16.6zM783.2 1337.8h16.6v17.8h-16.6zM859.7 1337.8h16.6v17.8h-16.6zM1032.0 1337.8h16.6v17.8h-16.6zM649.2 1378.4h16.6v17.8h-16.6zM668.3 1378.4h16.6v17.8h-16.6zM993.7 1378.4h16.6v17.8h-16.6zM1032.0 1378.4h16.6v17.8h-16.6zM323.8 1398.7h16.6v17.8h-16.6zM362.1 1398.7h16.6v17.8h-16.6zM419.5 1398.7h16.6v17.8h-16.6zM630.0 1398.7h16.6v17.8h-16.6zM1012.9 1398.7h16.6v17.8h-16.6zM228.1 1419.0h16.6v17.8h-16.6zM630.0 1419.0h16.6v17.8h-16.6zM802.3 1419.0h16.6v17.8h-16.6zM936.3 1419.0h16.6v17.8h-16.6zM151.6 1439.4h16.6v17.8h-16.6zM496.1 1439.4h16.6v17.8h-16.6zM610.9 1439.4h16.6v17.8h-16.6zM725.8 1439.4h16.6v17.8h-16.6zM955.4 1439.4h16.6v17.8h-16.6zM1070.3 1459.7h16.6v17.8h-16.6zM247.2 1500.3h16.6v17.8h-16.6zM649.2 1500.3h16.6v17.8h-16.6zM955.4 1500.3h16.6v17.8h-16.6zM1089.4 1500.3h16.6v17.8h-16.6zM170.7 1520.7h16.6v17.8h-16.6zM381.2 1520.7h16.6v17.8h-16.6zM419.5 1520.7h16.6v17.8h-16.6zM553.5 1520.7h16.6v17.8h-16.6zM668.3 1520.7h16.6v17.8h-16.6zM898.0 1520.7h16.6v17.8h-16.6zM917.2 1520.7h16.6v17.8h-16.6zM955.4 1520.7h16.6v17.8h-16.6zM1051.1 1520.7h16.6v17.8h-16.6zM381.2 1541.0h16.6v17.8h-16.6zM419.5 1541.0h16.6v17.8h-16.6zM476.9 1541.0h16.6v17.8h-16.6zM1032.0 1541.0h16.6v17.8h-16.6zM878.9 1561.3h16.6v17.8h-16.6zM362.1 1601.9h16.6v17.8h-16.6zM381.2 1601.9h16.6v17.8h-16.6zM764.0 1601.9h16.6v17.8h-16.6zM955.4 1601.9h16.6v17.8h-16.6zM1089.4 1601.9h16.6v17.8h-16.6zM151.6 1622.2h16.6v17.8h-16.6zM228.1 1622.2h16.6v17.8h-16.6zM419.5 1622.2h16.6v17.8h-16.6zM457.8 1622.2h16.6v17.8h-16.6zM821.5 1622.2h16.6v17.8h-16.6zM840.6 1622.2h16.6v17.8h-16.6zM1051.1 1622.2h16.6v17.8h-16.6zM228.1 1642.6h16.6v17.8h-16.6zM457.8 1642.6h16.6v17.8h-16.6zM706.6 1642.6h16.6v17.8h-16.6zM725.8 1642.6h16.6v17.8h-16.6zM572.6 1662.9h16.6v17.8h-16.6zM649.2 1662.9h16.6v17.8h-16.6zM725.8 1662.9h16.6v17.8h-16.6zM878.9 1662.9h16.6v17.8h-16.6zM898.0 1662.9h16.6v17.8h-16.6zM1051.1 1662.9h16.6v17.8h-16.6zM362.1 1683.2h16.6v17.8h-16.6zM400.4 1683.2h16.6v17.8h-16.6zM515.2 1683.2h16.6v17.8h-16.6zM783.2 1683.2h16.6v17.8h-16.6zM1012.9 1683.2h16.6v17.8h-16.6zM209.0 1703.5h16.6v17.8h-16.6zM228.1 1703.5h16.6v17.8h-16.6zM304.7 1703.5h16.6v17.8h-16.6zM802.3 1703.5h16.6v17.8h-16.6zM859.7 1703.5h16.6v17.8h-16.6zM438.7 1723.8h16.6v17.8h-16.6zM878.9 1723.8h16.6v17.8h-16.6zM1089.4 1723.8h16.6v17.8h-16.6zM936.3 1744.2h16.6v17.8h-16.6zM955.4 1744.2h16.6v17.8h-16.6zM151.6 1764.5h16.6v17.8h-16.6zM725.8 1764.5h16.6v17.8h-16.6zM783.2 1764.5h16.6v17.8h-16.6zM917.2 1764.5h16.6v17.8h-16.6zM725.8 1784.8h16.6v17.8h-16.6zM209.0 1805.1h16.6v17.8h-16.6zM285.5 1805.1h16.6v17.8h-16.6zM630.0 1805.1h16.6v17.8h-16.6zM955.4 1805.1h16.6v17.8h-16.6zM228.1 1825.5h16.6v17.8h-16.6zM496.1 1845.8h16.6v17.8h-16.6zM610.9 1845.8h16.6v17.8h-16.6zM878.9 1845.8h16.6v17.8h-16.6zM955.4 1845.8h16.6v17.8h-16.6zM1032.0 1845.8h16.6v17.8h-16.6zM496.1 1866.1h16.6v17.8h-16.6zM610.9 1866.1h16.6v17.8h-16.6zM1051.1 1866.1h16.6v17.8h-16.6zM362.1 1886.4h16.6v17.8h-16.6zM687.5 1886.4h16.6v17.8h-16.6zM859.7 1886.4h16.6v17.8h-16.6zM1070.3 1886.4h16.6v17.8h-16.6zM362.1 1906.7h16.6v17.8h-16.6zM649.2 1906.7h16.6v17.8h-16.6zM917.2 1906.7h16.6v17.8h-16.6zM687.5 1927.0h16.6v17.8h-16.6zM725.8 1927.0h16.6v17.8h-16.6zM936.3 1927.0h16.6v17.8h-16.6zM496.1 1947.4h16.6v17.8h-16.6zM610.9 1947.4h16.6v17.8h-16.6zM878.9 1947.4h16.6v17.8h-16.6zM955.4 1947.4h16.6v17.8h-16.6zM1032.0 1947.4h16.6v17.8h-16.6zM419.5 1967.7h16.6v17.8h-16.6zM802.3 1967.7h16.6v17.8h-16.6zM228.1 1988.0h16.6v17.8h-16.6zM285.5 1988.0h16.6v17.8h-16.6zM304.7 1988.0h16.6v17.8h-16.6zM496.1 1988.0h16.6v17.8h-16.6zM572.6 1988.0h16.6v17.8h-16.6zM610.9 1988.0h16.6v17.8h-16.6zM783.2 1988.0h16.6v17.8h-16.6zM802.3 1988.0h16.6v17.8h-16.6zM859.7 1988.0h16.6v17.8h-16.6zM993.7 2008.3h16.6v17.8h-16.6zM630.0 2028.7h16.6v17.8h-16.6zM974.6 2028.7h16.6v17.8h-16.6zM189.8 2049.0h16.6v17.8h-16.6zM419.5 2049.0h16.6v17.8h-16.6zM630.0 2049.0h16.6v17.8h-16.6zM821.5 2049.0h16.6v17.8h-16.6zM1032.0 2049.0h16.6v17.8h-16.6zM170.7 2069.3h16.6v17.8h-16.6zM438.7 2069.3h16.6v17.8h-16.6zM247.2 2089.6h16.6v17.8h-16.6zM343.0 2089.6h16.6v17.8h-16.6zM955.4 2089.6h16.6v17.8h-16.6zM1051.1 2089.6h16.6v17.8h-16.6zM228.1 2109.9h16.6v17.8h-16.6zM515.2 2109.9h16.6v17.8h-16.6zM553.5 2109.9h16.6v17.8h-16.6zM764.0 2109.9h16.6v17.8h-16.6z"/>
<path fill="#fdea82" d="M151.6 1114.2h16.6v17.8h-16.6zM898.0 1114.2h16.6v17.8h-16.6zM1051.1 1114.2h16.6v17.8h-16.6zM457.8 1134.6h16.6v17.8h-16.6zM496.1 1134.6h16.6v17.8h-16.6zM955.4 1134.6h16.6v17.8h-16.6zM1051.1 1134.6h16.6v17.8h-16.6zM189.8 1154.9h16.6v17.8h-16.6zM285.5 1154.9h16.6v17.8h-16.6zM343.0 1154.9h16.6v17.8h-16.6zM419.5 1154.9h16.6v17.8h-16.6zM553.5 1154.9h16.6v17.8h-16.6zM591.8 1154.9h16.6v17.8h-16.6zM610.9 1154.9h16.6v17.8h-16.6zM1051.1 1154.9h16.6v17.8h-16.6zM189.8 1175.2h16.6v17.8h-16.6zM285.5 1175.2h16.6v17.8h-16.6zM496.1 1175.2h16.6v17.8h-16.6zM534.4 1175.2h16.6v17.8h-16.6zM706.6 1175.2h16.6v17.8h-16.6zM840.6 1175.2h16.6v17.8h-16.6zM878.9 1175.2h16.6v17.8h-16.6zM228.1 1195.5h16.6v17.8h-16.6zM419.5 1195.5h16.6v17.8h-16.6zM457.8 1195.5h16.6v17.8h-16.6zM802.3 1195.5h16.6v17.8h-16.6zM821.5 1195.5h16.6v17.8h-16.6zM878.9 1195.5h16.6v17.8h-16.6zM993.7 1195.5h16.6v17.8h-16.6zM1051.1 1195.5h16.6v17.8h-16.6zM151.6 1215.8h16.6v17.8h-16.6zM189.8 1215.8h16.6v17.8h-16.6zM247.2 1215.8h16.6v17.8h-16.6zM419.5 1215.8h16.6v17.8h-16.6zM630.0 1215.8h16.6v17.8h-16.6zM687.5 1215.8h16.6v17.8h-16.6zM898.0 1215.8h16.6v17.8h-16.6zM955.4 1215.8h16.6v17.8h-16.6zM974.6 1215.8h16.6v17.8h-16.6zM1032.0 1215.8h16.6v17.8h-16.6zM209.0 1236.2h16.6v17.8h-16.6zM285.5 1236.2h16.6v17.8h-16.6zM381.2 1236.2h16.6v17.8h-16.6zM572.6 1236.2h16.6v17.8h-16.6zM898.0 1236.2h16.6v17.8h-16.6zM1032.0 1236.2h16.6v17.8h-16.6zM1051.1 1236.2h16.6v17.8h-16.6zM1089.4 1236.2h16.6v17.8h-16.6zM285.5 1256.5h16.6v17.8h-16.6zM304.7 1256.5h16.6v17.8h-16.6zM649.2 1256.5h16.6v17.8h-16.6zM821.5 1256.5h16.6v17.8h-16.6zM266.4 1276.8h16.6v17.8h-16.6zM400.4 1276.8h16.6v17.8h-16.6zM419.5 1276.8h16.6v17.8h-16.6zM764.0 1276.8h16.6v17.8h-16.6zM955.4 1276.8h16.6v17.8h-16.6zM1051.1 1276.8h16.6v17.8h-16.6zM381.2 1297.1h16.6v17.8h-16.6zM534.4 1297.1h16.6v17.8h-16.6zM764.0 1297.1h16.6v17.8h-16.6zM859.7 1297.1h16.6v17.8h-16.6zM1089.4 1297.1h16.6v17.8h-16.6zM170.7 1317.5h16.6v17.8h-16.6zM285.5 1317.5h16.6v17.8h-16.6zM649.2 1317.5h16.6v17.8h-16.6zM878.9 1317.5h16.6v17.8h-16.6zM936.3 1317.5h16.6v17.8h-16.6zM1032.0 1317.5h16.6v17.8h-16.6zM151.6 1337.8h16.6v17.8h-16.6zM285.5 1337.8h16.6v17.8h-16.6zM553.5 1337.8h16.6v17.8h-16.6zM572.6 1337.8h16.6v17.8h-16.6zM610.9 1337.8h16.6v17.8h-16.6zM1051.1 1337.8h16.6v17.8h-16.6zM170.7 1358.1h16.6v17.8h-16.6zM247.2 1358.1h16.6v17.8h-16.6zM381.2 1358.1h16.6v17.8h-16.6zM438.7 1358.1h16.6v17.8h-16.6zM591.8 1358.1h16.6v17.8h-16.6zM859.7 1358.1h16.6v17.8h-16.6zM1051.1 1358.1h16.6v17.8h-16.6zM209.0 1378.4h16.6v17.8h-16.6zM247.2 1378.4h16.6v17.8h-16.6zM343.0 1378.4h16.6v17.8h-16.6zM438.7 1378.4h16.6v17.8h-16.6zM534.4 1378.4h16.6v17.8h-16.6zM553.5 1378.4h16.6v17.8h-16.6zM744.9 1378.4h16.6v17.8h-16.6zM1051.1 1378.4h16.6v17.8h-16.6zM1089.4 1378.4h16.6v17.8h-16.6zM343.0 1398.7h16.6v17.8h-16.6zM725.8 1398.7h16.6v17.8h-16.6zM821.5 1398.7h16.6v17.8h-16.6zM898.0 1398.7h16.6v17.8h-16.6zM1051.1 1398.7h16.6v17.8h-16.6zM343.0 1419.0h16.6v17.8h-16.6zM362.1 1419.0h16.6v17.8h-16.6zM534.4 1419.0h16.6v17.8h-16.6zM610.9 1419.0h16.6v17.8h-16.6zM783.2 1419.0h16.6v17.8h-16.6zM955.4 1419.0h16.6v17.8h-16.6zM993.7 1419.0h16.6v17.8h-16.6zM1051.1 1419.0h16.6v17.8h-16.6zM534.4 1439.4h16.6v17.8h-16.6zM553.5 1439.4h16.6v17.8h-16.6zM630.0 1439.4h16.6v17.8h-16.6zM706.6 1439.4h16.6v17.8h-16.6zM783.2 1439.4h16.6v17.8h-16.6zM859.7 1439.4h16.6v17.8h-16.6zM936.3 1439.4h16.6v17.8h-16.6zM1089.4 1439.4h16.6v17.8h-16.6zM151.6 1459.7h16.6v17.8h-16.6zM400.4 1459.7h16.6v17.8h-16.6zM419.5 1459.7h16.6v17.8h-16.6zM457.8 1459.7h16.6v17.8h-16.6zM515.2 1459.7h16.6v17.8h-16.6zM534.4 1459.7h16.6v17.8h-16.6zM553.5 1459.7h16.6v17.8h-16.6zM362.1 1480.0h16.6v17.8h-16.6zM457.8 1480.0h16.6v17.8h-16.6zM572.6 1480.0h16.6v17.8h-16.6zM610.9 1480.0h16.6v17.8h-16.6zM687.5 1480.0h16.6v17.8h-16.6zM955.4 1480.0h16.6v17.8h-16.6zM1032.0 1480.0h16.6v17.8h-16.6zM1051.1 1480.0h16.6v17.8h-16.6zM304.7 1500.3h16.6v17.8h-16.6zM476.9 1500.3h16.6v17.8h-16.6zM610.9 1500.3h16.6v17.8h-16.6zM1051.1 1500.3h16.6v17.8h-16.6zM343.0 1520.7h16.6v17.8h-16.6zM840.6 1541.0h16.6v17.8h-16.6zM1012.9 1541.0h16.6v17.8h-16.6zM189.8 1561.3h16.6v17.8h-16.6zM304.7 1561.3h16.6v17.8h-16.6zM457.8 1561.3h16.6v17.8h-16.6zM687.5 1561.3h16.6v17.8h-16.6zM917.2 1561.3h16.6v17.8h-16.6zM936.3 1561.3h16.6v17.8h-16.6zM1051.1 1561.3h16.6v17.8h-16.6zM209.0 1581.6h16.6v17.8h-16.6zM400.4 1581.6h16.6v17.8h-16.6zM668.3 1581.6h16.6v17.8h-16.6zM687.5 1581.6h16.6v17.8h-16.6zM764.0 1581.6h16.6v17.8h-16.6zM802.3 1581.6h16.6v17.8h-16.6zM993.7 1581.6h16.6v17.8h-16.6zM228.1 1601.9h16.6v17.8h-16.6zM266.4 1601.9h16.6v17.8h-16.6zM610.9 1601.9h16.6v17.8h-16.6zM802.3 1601.9h16.6v17.8h-16.6zM840.6 1601.9h16.6v17.8h-16.6zM936.3 1601.9h16.6v17.8h-16.6zM247.2 1622.2h16.6v17.8h-16.6zM285.5 1622.2h16.6v17.8h-16.6zM496.1 1622.2h16.6v17.8h-16.6zM515.2 1622.2h16.6v17.8h-16.6zM725.8 1622.2h16.6v17.8h-16.6zM802.3 1622.2h16.6v17.8h-16.6zM936.3 1622.2h16.6v17.8h-16.6zM438.7 1642.6h16.6v17.8h-16.6zM630.0 1642.6h16.6v17.8h-16.6zM649.2 1642.6h16.6v17.8h-16.6zM898.0 1642.6h16.6v17.8h-16.6zM993.7 1642.6h16.6v17.8h-16.6zM496.1 1662.9h16.6v17.8h-16.6zM515.2 1662.9h16.6v17.8h-16.6zM687.5 1662.9h16.6v17.8h-16.6zM744.9 1662.9h16.6v17.8h-16.6zM917.2 1662.9h16.6v17.8h-16.6zM1070.3 1662.9h16.6v17.8h-16.6zM323.8 1683.2h16.6v17.8h-16.6zM381.2 1683.2h16.6v17.8h-16.6zM591.8 1683.2h16.6v17.8h-16.6zM802.3 1683.2h16.6v17.8h-16.6zM859.7 1683.2h16.6v17.8h-16.6zM898.0 1683.2h16.6v17.8h-16.6zM151.6 1703.5h16.6v17.8h-16.6zM457.8 1703.5h16.6v17.8h-16.6zM610.9 1703.5h16.6v17.8h-16.6zM687.5 1703.5h16.6v17.8h-16.6zM974.6 1703.5h16.6v17.8h-16.6zM993.7 1703.5h16.6v17.8h-16.6zM151.6 1723.8h16.6v17.8h-16.6zM381.2 1723.8h16.6v17.8h-16.6zM515.2 1723.8h16.6v17.8h-16.6zM591.8 1723.8h16.6v17.8h-16.6zM649.2 1723.8h16.6v17.8h-16.6zM687.5 1723.8h16.6v17.8h-16.6zM706.6 1723.8h16.6v17.8h-16.6zM840.6 1723.8h16.6v17.8h-16.6zM955.4 1723.8h16.6v17.8h-16.6zM1051.1 1723.8h16.6v17.8h-16.6zM247.2 1744.2h16.6v17.8h-16.6zM343.0 1744.2h16.6v17.8h-16.6zM706.6 1744.2h16.6v17.8h-16.6zM1032.0 1744.2h16.6v17.8h-16.6zM1070.3 1744.2h16.6v17.8h-16.6zM400.4 1764.5h16.6v17.8h-16.6zM744.9 1764.5h16.6v17.8h-16.6zM151.6 1784.8h16.6v17.8h-16.6zM381.2 1784.8h16.6v17.8h-16.6zM496.1 1784.8h16.6v17.8h-16.6zM649.2 1784.8h16.6v17.8h-16.6zM764.0 1784.8h16.6v17.8h-16.6zM783.2 1784.8h16.6v17.8h-16.6zM878.9 1784.8h16.6v17.8h-16.6zM974.6 1784.8h16.6v17.8h-16.6zM1051.1 1784.8h16.6v17.8h-16.6zM1089.4 1784.8h16.6v17.8h-16.6zM170.7 1805.1h16.6v17.8h-16.6zM304.7 1805.1h16.6v17.8h-16.6zM400.4 1805.1h16.6v17.8h-16.6zM610.9 1805.1h16.6v17.8h-16.6zM744.9 1805.1h16.6v17.8h-16.6zM783.2 1805.1h16.6v17.8h-16.6zM898.0 1805.1h16.6v17.8h-16.6zM993.7 1805.1h16.6v17.8h-16.6zM1051.1 1805.1h16.6v17.8h-16.6zM1070.3 1805.1h16.6v17.8h-16.6zM1089.4 1805.1h16.6v17.8h-16.6zM343.0 1825.5h16.6v17.8h-16.6zM400.4 1825.5h16.6v17.8h-16.6zM419.5 1825.5h16.6v17.8h-16.6zM649.2 1825.5h16.6v17.8h-16.6zM687.5 1825.5h16.6v17.8h-16.6zM783.2 1825.5h16.6v17.8h-16.6zM955.4 1825.5h16.6v17.8h-16.6zM1032.0 1825.5h16.6v17.8h-16.6zM151.6 1845.8h16.6v17.8h-16.6zM228.1 1845.8h16.6v17.8h-16.6zM304.7 1845.8h16.6v17.8h-16.6zM343.0 1845.8h16.6v17.8h-16.6zM438.7 1845.8h16.6v17.8h-16.6zM744.9 1845.8h16.6v17.8h-16.6zM802.3 1845.8h16.6v17.8h-16.6zM1051.1 1845.8h16.6v17.8h-16.6zM304.7 1866.1h16.6v17.8h-16.6zM419.5 1866.1h16.6v17.8h-16.6zM572.6 1866.1h16.6v17.8h-16.6zM591.8 1866.1h16.6v17.8h-16.6zM630.0 1866.1h16.6v17.8h-16.6zM706.6 1866.1h16.6v17.8h-16.6zM783.2 1866.1h16.6v17.8h-16.6zM802.3 1866.1h16.6v17.8h-16.6zM974.6 1866.1h16.6v17.8h-16.6zM228.1 1886.4h16.6v17.8h-16.6zM247.2 1886.4h16.6v17.8h-16.6zM285.5 1886.4h16.6v17.8h-16.6zM668.3 1886.4h16.6v17.8h-16.6zM840.6 1886.4h16.6v17.8h-16.6zM1012.9 1886.4h16.6v17.8h-16.6zM1032.0 1886.4h16.6v17.8h-16.6zM1051.1 1886.4h16.6v17.8h-16.6zM170.7 1906.7h16.6v17.8h-16.6zM228.1 1906.7h16.6v17.8h-16.6zM323.8 1906.7h16.6v17.8h-16.6zM400.4 1906.7h16.6v17.8h-16.6zM630.0 1906.7h16.6v17.8h-16.6zM668.3 1906.7h16.6v17.8h-16.6zM687.5 1906.7h16.6v17.8h-16.6zM878.9 1906.7h16.6v17.8h-16.6zM1089.4 1906.7h16.6v17.8h-16.6zM209.0 1927.0h16.6v17.8h-16.6zM304.7 1927.0h16.6v17.8h-16.6zM515.2 1927.0h16.6v17.8h-16.6zM572.6 1927.0h16.6v17.8h-16.6zM744.9 1927.0h16.6v17.8h-16.6zM878.9 1927.0h16.6v17.8h-16.6zM917.2 1927.0h16.6v17.8h-16.6zM955.4 1927.0h16.6v17.8h-16.6zM993.7 1927.0h16.6v17.8h-16.6zM151.6 1947.4h16.6v17.8h-16.6zM228.1 1947.4h16.6v17.8h-16.6zM304.7 1947.4h16.6v17.8h-16.6zM343.0 1947.4h16.6v17.8h-16.6zM438.7 1947.4h16.6v17.8h-16.6zM744.9 1947.4h16.6v17.8h-16.6zM802.3 1947.4h16.6v17.8h-16.6zM1051.1 1947.4h16.6v17.8h-16.6zM228.1 1967.7h16.6v17.8h-16.6zM362.1 1967.7h16.6v17.8h-16.6zM744.9 1967.7h16.6v17.8h-16.6zM1032.0 1967.7h16.6v17.8h-16.6zM630.0 1988.0h16.6v17.8h-16.6zM706.6 1988.0h16.6v17.8h-16.6zM170.7 2008.3h16.6v17.8h-16.6zM189.8 2008.3h16.6v17.8h-16.6zM343.0 2008.3h16.6v17.8h-16.6zM362.1 2008.3h16.6v17.8h-16.6zM496.1 2008.3h16.6v17.8h-16.6zM515.2 2008.3h16.6v17.8h-16.6zM764.0 2008.3h16.6v17.8h-16.6zM859.7 2008.3h16.6v17.8h-16.6zM228.1 2028.7h16.6v17.8h-16.6zM419.5 2028.7h16.6v17.8h-16.6zM457.8 2028.7h16.6v17.8h-16.6zM802.3 2028.7h16.6v17.8h-16.6zM821.5 2028.7h16.6v17.8h-16.6zM878.9 2028.7h16.6v17.8h-16.6zM993.7 2028.7h16.6v17.8h-16.6zM1051.1 2028.7h16.6v17.8h-16.6zM898.0 2049.0h16.6v17.8h-16.6zM936.3 2049.0h16.6v17.8h-16.6zM591.8 2069.3h16.6v17.8h-16.6zM610.9 2069.3h16.6v17.8h-16.6zM630.0 2069.3h16.6v17.8h-16.6zM649.2 2069.3h16.6v17.8h-16.6zM764.0 2069.3h16.6v17.8h-16.6zM1051.1 2069.3h16.6v17.8h-16.6zM228.1 2089.6h16.6v17.8h-16.6zM304.7 2089.6h16.6v17.8h-16.6zM591.8 2089.6h16.6v17.8h-16.6zM610.9 2089.6h16.6v17.8h-16.6zM630.0 2089.6h16.6v17.8h-16.6zM649.2 2089.6h16.6v17.8h-16.6zM821.5 2089.6h16.6v17.8h-16.6zM917.2 2089.6h16.6v17.8h-16.6zM285.5 2109.9h16.6v17.8h-16.6zM572.6 2109.9h16.6v17.8h-16.6zM591.8 2109.9h16.6v17.8h-16.6zM610.9 2109.9h16.6v17.8h-16.6zM630.0 2109.9h16.6v17.8h-16.6zM649.2 2109.9h16.6v17.8h-16.6zM840.6 2109.9h16.6v17.8h-16.6zM859.7 2109.9h16.6v17.8h-16.6zM955.4 2109.9h16.6v17.8h-16.6zM1012.9 2109.9h16.6v17.8h-16.6zM1089.4 2109.9h16.6v17.8h-16.6z"/>
<path fill="#ffd280" d="M247.2 1114.2h16.6v17.8h-16.6zM285.5 1114.2h16.6v17.8h-16.6zM649.2 1114.2h16.6v17.8h-16.6zM725.8 1114.2h16.6v17.8h-16.6zM1089.4 1114.2h16.6v17.8h-16.6zM247.2 1134.6h16.6v17.8h-16.6zM323.8 1134.6h16.6v17.8h-16.6zM534.4 1134.6h16.6v17.8h-16.6zM630.0 1134.6h16.6v17.8h-16.6zM687.5 1134.6h16.6v17.8h-16.6zM840.6 1134.6h16.6v17.8h-16.6zM496.1 1154.9h16.6v17.8h-16.6zM572.6 1154.9h16.6v17.8h-16.6zM649.2 1154.9h16.6v17.8h-16.6zM955.4 1154.9h16.6v17.8h-16.6zM649.2 1175.2h16.6v17.8h-16.6zM898.0 1175.2h16.6v17.8h-16.6zM917.2 1175.2h16.6v17.8h-16.6zM209.0 1195.5h16.6v17.8h-16.6zM304.7 1195.5h16.6v17.8h-16.6zM323.8 1195.5h16.6v17.8h-16.6zM955.4 1195.5h16.6v17.8h-16.6zM457.8 1215.8h16.6v17.8h-16.6zM936.3 1215.8h16.6v17.8h-16.6zM170.7 1236.2h16.6v17.8h-16.6zM515.2 1236.2h16.6v17.8h-16.6zM649.2 1236.2h16.6v17.8h-16.6zM706.6 1236.2h16.6v17.8h-16.6zM878.9 1236.2h16.6v17.8h-16.6zM955.4 1236.2h16.6v17.8h-16.6zM209.0 1256.5h16.6v17.8h-16.6zM400.4 1256.5h16.6v17.8h-16.6zM610.9 1256.5h16.6v17.8h-16.6zM802.3 1256.5h16.6v17.8h-16.6zM955.4 1256.5h16.6v17.8h-16.6zM247.2 1276.8h16.6v17.8h-16.6zM936.3 1297.1h16.6v17.8h-16.6zM419.5 1317.5h16.6v17.8h-16.6zM630.0 1317.5h16.6v17.8h-16.6zM706.6 1317.5h16.6v17.8h-16.6zM170.7 1337.8h16.6v17.8h-16.6zM955.4 1337.8h16.6v17.8h-16.6zM209.0 1358.1h16.6v17.8h-16.6zM266.4 1358.1h16.6v17.8h-16.6zM323.8 1358.1h16.6v17.8h-16.6zM343.0 1358.1h16.6v17.8h-16.6zM630.0 1358.1h16.6v17.8h-16.6zM917.2 1358.1h16.6v17.8h-16.6zM419.5 1378.4h16.6v17.8h-16.6zM630.0 1378.4h16.6v17.8h-16.6zM898.0 1378.4h16.6v17.8h-16.6zM1070.3 1398.7h16.6v17.8h-16.6zM304.7 1419.0h16.6v17.8h-16.6zM515.2 1419.0h16.6v17.8h-16.6zM859.7 1419.0h16.6v17.8h-16.6zM476.9 1439.4h16.6v17.8h-16.6zM974.6 1439.4h16.6v17.8h-16.6zM496.1 1459.7h16.6v17.8h-16.6zM878.9 1459.7h16.6v17.8h-16.6zM266.4 1480.0h16.6v17.8h-16.6zM419.5 1480.0h16.6v17.8h-16.6zM1089.4 1480.0h16.6v17.8h-16.6zM323.8 1500.3h16.6v17.8h-16.6zM400.4 1500.3h16.6v17.8h-16.6zM783.2 1500.3h16.6v17.8h-16.6zM974.6 1500.3h16.6v17.8h-16.6zM630.0 1520.7h16.6v17.8h-16.6zM649.2 1520.7h16.6v17.8h-16.6zM1089.4 1520.7h16.6v17.8h-16.6zM151.6 1541.0h16.6v17.8h-16.6zM783.2 1561.3h16.6v17.8h-16.6zM955.4 1561.3h16.6v17.8h-16.6zM304.7 1581.6h16.6v17.8h-16.6zM649.2 1581.6h16.6v17.8h-16.6zM1012.9 1581.6h16.6v17.8h-16.6zM1032.0 1581.6h16.6v17.8h-16.6zM1051.1 1581.6h16.6v17.8h-16.6zM1070.3 1581.6h16.6v17.8h-16.6zM1012.9 1601.9h16.6v17.8h-16.6zM1051.1 1601.9h16.6v17.8h-16.6zM610.9 1622.2h16.6v17.8h-16.6zM687.5 1622.2h16.6v17.8h-16.6zM783.2 1622.2h16.6v17.8h-16.6zM955.4 1622.2h16.6v17.8h-16.6zM1032.0 1622.2h16.6v17.8h-16.6zM821.5 1642.6h16.6v17.8h-16.6zM917.2 1642.6h16.6v17.8h-16.6zM189.8 1662.9h16.6v17.8h-16.6zM343.0 1662.9h16.6v17.8h-16.6zM400.4 1662.9h16.6v17.8h-16.6zM630.0 1662.9h16.6v17.8h-16.6zM821.5 1662.9h16.6v17.8h-16.6zM955.4 1662.9h16.6v17.8h-16.6zM266.4 1683.2h16.6v17.8h-16.6zM419.5 1683.2h16.6v17.8h-16.6zM955.4 1683.2h16.6v17.8h-16.6zM1051.1 1683.2h16.6v17.8h-16.6zM1089.4 1683.2h16.6v17.8h-16.6zM821.5 1723.8h16.6v17.8h-16.6zM1012.9 1744.2h16.6v17.8h-16.6zM515.2 1764.5h16.6v17.8h-16.6zM343.0 1784.8h16.6v17.8h-16.6zM457.8 1784.8h16.6v17.8h-16.6zM476.9 1784.8h16.6v17.8h-16.6zM572.6 1784.8h16.6v17.8h-16.6zM821.5 1784.8h16.6v17.8h-16.6zM209.0 1825.5h16.6v17.8h-16.6zM323.8 1845.8h16.6v17.8h-16.6zM649.2 1866.1h16.6v17.8h-16.6zM744.9 1866.1h16.6v17.8h-16.6zM917.2 1866.1h16.6v17.8h-16.6zM955.4 1866.1h16.6v17.8h-16.6zM993.7 1866.1h16.6v17.8h-16.6zM821.5 1886.4h16.6v17.8h-16.6zM955.4 1886.4h16.6v17.8h-16.6zM266.4 1906.7h16.6v17.8h-16.6zM170.7 1927.0h16.6v17.8h-16.6zM419.5 1927.0h16.6v17.8h-16.6zM591.8 1927.0h16.6v17.8h-16.6zM1089.4 1927.0h16.6v17.8h-16.6zM323.8 1947.4h16.6v17.8h-16.6zM744.9 1988.0h16.6v17.8h-16.6zM1051.1 1988.0h16.6v17.8h-16.6zM476.9 2008.3h16.6v17.8h-16.6zM630.0 2008.3h16.6v17.8h-16.6zM725.8 2008.3h16.6v17.8h-16.6zM821.5 2008.3h16.6v17.8h-16.6zM955.4 2008.3h16.6v17.8h-16.6zM1051.1 2008.3h16.6v17.8h-16.6zM209.0 2028.7h16.6v17.8h-16.6zM304.7 2028.7h16.6v17.8h-16.6zM323.8 2028.7h16.6v17.8h-16.6zM955.4 2028.7h16.6v17.8h-16.6zM228.1 2049.0h16.6v17.8h-16.6zM496.1 2049.0h16.6v17.8h-16.6zM553.5 2049.0h16.6v17.8h-16.6zM1051.1 2049.0h16.6v17.8h-16.6zM1070.3 2049.0h16.6v17.8h-16.6zM553.5 2069.3h16.6v17.8h-16.6zM706.6 2069.3h16.6v17.8h-16.6zM859.7 2069.3h16.6v17.8h-16.6zM1070.3 2069.3h16.6v17.8h-16.6zM323.8 2089.6h16.6v17.8h-16.6zM457.8 2089.6h16.6v17.8h-16.6zM744.9 2089.6h16.6v17.8h-16.6zM1032.0 2089.6h16.6v17.8h-16.6zM687.5 2109.9h16.6v17.8h-16.6zM878.9 2109.9h16.6v17.8h-16.6zM1051.1 2109.9h16.6v17.8h-16.6zM1070.3 2109.9h16.6v17.8h-16.6z"/>
<path fill="#ffb97c" d="M189.8 1114.2h16.6v17.8h-16.6zM266.4 1114.2h16.6v17.8h-16.6zM362.1 1114.2h16.6v17.8h-16.6zM496.1 1114.2h16.6v17.8h-16.6zM553.5 1114.2h16.6v17.8h-16.6zM955.4 1114.2h16.6v17.8h-16.6zM1032.0 1114.2h16.6v17.8h-16.6zM266.4 1134.6h16.6v17.8h-16.6zM343.0 1134.6h16.6v17.8h-16.6zM419.5 1134.6h16.6v17.8h-16.6zM553.5 1134.6h16.6v17.8h-16.6zM572.6 1134.6h16.6v17.8h-16.6zM668.3 1134.6h16.6v17.8h-16.6zM859.7 1134.6h16.6v17.8h-16.6zM247.2 1154.9h16.6v17.8h-16.6zM381.2 1154.9h16.6v17.8h-16.6zM476.9 1154.9h16.6v17.8h-16.6zM744.9 1154.9h16.6v17.8h-16.6zM859.7 1154.9h16.6v17.8h-16.6zM878.9 1154.9h16.6v17.8h-16.6zM974.6 1154.9h16.6v17.8h-16.6zM1032.0 1154.9h16.6v17.8h-16.6zM304.7 1175.2h16.6v17.8h-16.6zM323.8 1175.2h16.6v17.8h-16.6zM400.4 1175.2h16.6v17.8h-16.6zM438.7 1175.2h16.6v17.8h-16.6zM668.3 1175.2h16.6v17.8h-16.6zM687.5 1175.2h16.6v17.8h-16.6zM802.3 1175.2h16.6v17.8h-16.6zM1070.3 1175.2h16.6v17.8h-16.6zM170.7 1195.5h16.6v17.8h-16.6zM534.4 1195.5h16.6v17.8h-16.6zM649.2 1195.5h16.6v17.8h-16.6zM687.5 1195.5h16.6v17.8h-16.6zM764.0 1195.5h16.6v17.8h-16.6zM898.0 1195.5h16.6v17.8h-16.6zM1089.4 1195.5h16.6v17.8h-16.6zM400.4 1215.8h16.6v17.8h-16.6zM591.8 1215.8h16.6v17.8h-16.6zM783.2 1215.8h16.6v17.8h-16.6zM802.3 1215.8h16.6v17.8h-16.6zM821.5 1215.8h16.6v17.8h-16.6zM840.6 1215.8h16.6v17.8h-16.6zM878.9 1215.8h16.6v17.8h-16.6zM1089.4 1215.8h16.6v17.8h-16.6zM228.1 1236.2h16.6v17.8h-16.6zM362.1 1236.2h16.6v17.8h-16.6zM496.1 1236.2h16.6v17.8h-16.6zM534.4 1236.2h16.6v17.8h-16.6zM840.6 1236.2h16.6v17.8h-16.6zM859.7 1236.2h16.6v17.8h-16.6zM936.3 1236.2h16.6v17.8h-16.6zM476.9 1256.5h16.6v17.8h-16.6zM591.8 1256.5h16.6v17.8h-16.6zM725.8 1256.5h16.6v17.8h-16.6zM764.0 1256.5h16.6v17.8h-16.6zM1051.1 1256.5h16.6v17.8h-16.6zM438.7 1276.8h16.6v17.8h-16.6zM878.9 1276.8h16.6v17.8h-16.6zM1070.3 1276.8h16.6v17.8h-16.6zM228.1 1297.1h16.6v17.8h-16.6zM304.7 1297.1h16.6v17.8h-16.6zM362.1 1297.1h16.6v17.8h-16.6zM496.1 1297.1h16.6v17.8h-16.6zM630.0 1297.1h16.6v17.8h-16.6zM725.8 1297.1h16.6v17.8h-16.6zM744.9 1297.1h16.6v17.8h-16.6zM783.2 1297.1h16.6v17.8h-16.6zM898.0 1297.1h16.6v17.8h-16.6zM1051.1 1297.1h16.6v17.8h-16.6zM362.1 1317.5h16.6v17.8h-16.6zM476.9 1317.5h16.6v17.8h-16.6zM610.9 1317.5h16.6v17.8h-16.6zM725.8 1317.5h16.6v17.8h-16.6zM974.6 1317.5h16.6v17.8h-16.6zM1089.4 1317.5h16.6v17.8h-16.6zM687.5 1337.8h16.6v17.8h-16.6zM706.6 1337.8h16.6v17.8h-16.6zM917.2 1337.8h16.6v17.8h-16.6zM189.8 1358.1h16.6v17.8h-16.6zM228.1 1358.1h16.6v17.8h-16.6zM362.1 1358.1h16.6v17.8h-16.6zM457.8 1358.1h16.6v17.8h-16.6zM476.9 1358.1h16.6v17.8h-16.6zM687.5 1358.1h16.6v17.8h-16.6zM1070.3 1358.1h16.6v17.8h-16.6zM285.5 1378.4h16.6v17.8h-16.6zM955.4 1378.4h16.6v17.8h-16.6zM1070.3 1378.4h16.6v17.8h-16.6zM438.7 1398.7h16.6v17.8h-16.6zM476.9 1398.7h16.6v17.8h-16.6zM610.9 1398.7h16.6v17.8h-16.6zM706.6 1398.7h16.6v17.8h-16.6zM802.3 1398.7h16.6v17.8h-16.6zM878.9 1398.7h16.6v17.8h-16.6zM209.0 1419.0h16.6v17.8h-16.6zM419.5 1419.0h16.6v17.8h-16.6zM687.5 1419.0h16.6v17.8h-16.6zM764.0 1419.0h16.6v17.8h-16.6zM821.5 1419.0h16.6v17.8h-16.6zM878.9 1419.0h16.6v17.8h-16.6zM1012.9 1419.0h16.6v17.8h-16.6zM1089.4 1419.0h16.6v17.8h-16.6zM266.4 1439.4h16.6v17.8h-16.6zM400.4 1439.4h16.6v17.8h-16.6zM419.5 1439.4h16.6v17.8h-16.6zM591.8 1439.4h16.6v17.8h-16.6zM649.2 1439.4h16.6v17.8h-16.6zM687.5 1439.4h16.6v17.8h-16.6zM821.5 1439.4h16.6v17.8h-16.6zM840.6 1439.4h16.6v17.8h-16.6zM1032.0 1439.4h16.6v17.8h-16.6zM189.8 1459.7h16.6v17.8h-16.6zM859.7 1459.7h16.6v17.8h-16.6zM151.6 1480.0h16.6v17.8h-16.6zM228.1 1480.0h16.6v17.8h-16.6zM285.5 1480.0h16.6v17.8h-16.6zM706.6 1480.0h16.6v17.8h-16.6zM821.5 1480.0h16.6v17.8h-16.6zM898.0 1480.0h16.6v17.8h-16.6zM974.6 1480.0h16.6v17.8h-16.6zM151.6 1500.3h16.6v17.8h-16.6zM266.4 1500.3h16.6v17.8h-16.6zM419.5 1500.3h16.6v17.8h-16.6zM572.6 1500.3h16.6v17.8h-16.6zM591.8 1500.3h16.6v17.8h-16.6zM917.2 1500.3h16.6v17.8h-16.6zM323.8 1520.7h16.6v17.8h-16.6zM362.1 1520.7h16.6v17.8h-16.6zM515.2 1520.7h16.6v17.8h-16.6zM534.4 1520.7h16.6v17.8h-16.6zM572.6 1520.7h16.6v17.8h-16.6zM764.0 1520.7h16.6v17.8h-16.6zM170.7 1541.0h16.6v17.8h-16.6zM266.4 1541.0h16.6v17.8h-16.6zM802.3 1541.0h16.6v17.8h-16.6zM955.4 1541.0h16.6v17.8h-16.6zM1089.4 1541.0h16.6v17.8h-16.6zM170.7 1561.3h16.6v17.8h-16.6zM266.4 1561.3h16.6v17.8h-16.6zM323.8 1561.3h16.6v17.8h-16.6zM515.2 1561.3h16.6v17.8h-16.6zM591.8 1561.3h16.6v17.8h-16.6zM649.2 1561.3h16.6v17.8h-16.6zM744.9 1561.3h16.6v17.8h-16.6zM898.0 1561.3h16.6v17.8h-16.6zM1089.4 1561.3h16.6v17.8h-16.6zM285.5 1581.6h16.6v17.8h-16.6zM343.0 1581.6h16.6v17.8h-16.6zM419.5 1581.6h16.6v17.8h-16.6zM476.9 1581.6h16.6v17.8h-16.6zM630.0 1581.6h16.6v17.8h-16.6zM955.4 1581.6h16.6v17.8h-16.6zM476.9 1601.9h16.6v17.8h-16.6zM630.0 1601.9h16.6v17.8h-16.6zM706.6 1601.9h16.6v17.8h-16.6zM898.0 1601.9h16.6v17.8h-16.6zM1032.0 1601.9h16.6v17.8h-16.6zM170.7 1622.2h16.6v17.8h-16.6zM438.7 1622.2h16.6v17.8h-16.6zM706.6 1622.2h16.6v17.8h-16.6zM1089.4 1622.2h16.6v17.8h-16.6zM189.8 1642.6h16.6v17.8h-16.6zM304.7 1642.6h16.6v17.8h-16.6zM400.4 1642.6h16.6v17.8h-16.6zM496.1 1642.6h16.6v17.8h-16.6zM572.6 1642.6h16.6v17.8h-16.6zM668.3 1642.6h16.6v17.8h-16.6zM744.9 1642.6h16.6v17.8h-16.6zM840.6 1642.6h16.6v17.8h-16.6zM878.9 1642.6h16.6v17.8h-16.6zM209.0 1662.9h16.6v17.8h-16.6zM323.8 1662.9h16.6v17.8h-16.6zM419.5 1662.9h16.6v17.8h-16.6zM553.5 1662.9h16.6v17.8h-16.6zM706.6 1662.9h16.6v17.8h-16.6zM936.3 1662.9h16.6v17.8h-16.6zM476.9 1683.2h16.6v17.8h-16.6zM649.2 1683.2h16.6v17.8h-16.6zM764.0 1683.2h16.6v17.8h-16.6zM993.7 1683.2h16.6v17.8h-16.6zM323.8 1703.5h16.6v17.8h-16.6zM515.2 1703.5h16.6v17.8h-16.6zM534.4 1703.5h16.6v17.8h-16.6zM553.5 1703.5h16.6v17.8h-16.6zM878.9 1703.5h16.6v17.8h-16.6zM898.0 1703.5h16.6v17.8h-16.6zM955.4 1703.5h16.6v17.8h-16.6zM266.4 1723.8h16.6v17.8h-16.6zM285.5 1723.8h16.6v17.8h-16.6zM725.8 1723.8h16.6v17.8h-16.6zM917.2 1723.8h16.6v17.8h-16.6zM1032.0 1723.8h16.6v17.8h-16.6zM189.8 1744.2h16.6v17.8h-16.6zM553.5 1744.2h16.6v17.8h-16.6zM610.9 1744.2h16.6v17.8h-16.6zM668.3 1744.2h16.6v17.8h-16.6zM725.8 1744.2h16.6v17.8h-16.6zM821.5 1744.2h16.6v17.8h-16.6zM993.7 1744.2h16.6v17.8h-16.6zM419.5 1764.5h16.6v17.8h-16.6zM859.7 1764.5h16.6v17.8h-16.6zM898.0 1764.5h16.6v17.8h-16.6zM974.6 1764.5h16.6v17.8h-16.6zM993.7 1764.5h16.6v17.8h-16.6zM266.4 1784.8h16.6v17.8h-16.6zM285.5 1784.8h16.6v17.8h-16.6zM802.3 1784.8h16.6v17.8h-16.6zM840.6 1784.8h16.6v17.8h-16.6zM955.4 1784.8h16.6v17.8h-16.6zM151.6 1805.1h16.6v17.8h-16.6zM189.8 1805.1h16.6v17.8h-16.6zM228.1 1805.1h16.6v17.8h-16.6zM343.0 1805.1h16.6v17.8h-16.6zM687.5 1805.1h16.6v17.8h-16.6zM304.7 1825.5h16.6v17.8h-16.6zM476.9 1825.5h16.6v17.8h-16.6zM553.5 1825.5h16.6v17.8h-16.6zM706.6 1825.5h16.6v17.8h-16.6zM744.9 1825.5h16.6v17.8h-16.6zM802.3 1825.5h16.6v17.8h-16.6zM878.9 1825.5h16.6v17.8h-16.6zM1070.3 1825.5h16.6v17.8h-16.6zM170.7 1845.8h16.6v17.8h-16.6zM572.6 1845.8h16.6v17.8h-16.6zM649.2 1845.8h16.6v17.8h-16.6zM668.3 1845.8h16.6v17.8h-16.6zM764.0 1845.8h16.6v17.8h-16.6zM859.7 1845.8h16.6v17.8h-16.6zM1089.4 1845.8h16.6v17.8h-16.6zM189.8 1866.1h16.6v17.8h-16.6zM476.9 1866.1h16.6v17.8h-16.6zM534.4 1866.1h16.6v17.8h-16.6zM553.5 1866.1h16.6v17.8h-16.6zM1012.9 1866.1h16.6v17.8h-16.6zM1070.3 1866.1h16.6v17.8h-16.6zM496.1 1886.4h16.6v17.8h-16.6zM515.2 1886.4h16.6v17.8h-16.6zM630.0 1886.4h16.6v17.8h-16.6zM764.0 1886.4h16.6v17.8h-16.6zM878.9 1886.4h16.6v17.8h-16.6zM936.3 1886.4h16.6v17.8h-16.6zM1089.4 1886.4h16.6v17.8h-16.6zM247.2 1906.7h16.6v17.8h-16.6zM285.5 1906.7h16.6v17.8h-16.6zM381.2 1906.7h16.6v17.8h-16.6zM744.9 1906.7h16.6v17.8h-16.6zM859.7 1906.7h16.6v17.8h-16.6zM228.1 1927.0h16.6v17.8h-16.6zM400.4 1927.0h16.6v17.8h-16.6zM457.8 1927.0h16.6v17.8h-16.6zM706.6 1927.0h16.6v17.8h-16.6zM898.0 1927.0h16.6v17.8h-16.6zM170.7 1947.4h16.6v17.8h-16.6zM572.6 1947.4h16.6v17.8h-16.6zM649.2 1947.4h16.6v17.8h-16.6zM668.3 1947.4h16.6v17.8h-16.6zM764.0 1947.4h16.6v17.8h-16.6zM859.7 1947.4h16.6v17.8h-16.6zM1089.4 1947.4h16.6v17.8h-16.6zM151.6 1967.7h16.6v17.8h-16.6zM189.8 1967.7h16.6v17.8h-16.6zM285.5 1967.7h16.6v17.8h-16.6zM400.4 1967.7h16.6v17.8h-16.6zM610.9 1967.7h16.6v17.8h-16.6zM706.6 1967.7h16.6v17.8h-16.6zM783.2 1967.7h16.6v17.8h-16.6zM266.4 1988.0h16.6v17.8h-16.6zM457.8 1988.0h16.6v17.8h-16.6zM725.8 1988.0h16.6v17.8h-16.6zM955.4 1988.0h16.6v17.8h-16.6zM974.6 1988.0h16.6v17.8h-16.6zM1032.0 1988.0h16.6v17.8h-16.6zM209.0 2008.3h16.6v17.8h-16.6zM228.1 2008.3h16.6v17.8h-16.6zM304.7 2008.3h16.6v17.8h-16.6zM878.9 2008.3h16.6v17.8h-16.6zM170.7 2028.7h16.6v17.8h-16.6zM534.4 2028.7h16.6v17.8h-16.6zM649.2 2028.7h16.6v17.8h-16.6zM687.5 2028.7h16.6v17.8h-16.6zM764.0 2028.7h16.6v17.8h-16.6zM898.0 2028.7h16.6v17.8h-16.6zM1089.4 2028.7h16.6v17.8h-16.6zM266.4 2049.0h16.6v17.8h-16.6zM362.1 2049.0h16.6v17.8h-16.6zM400.4 2049.0h16.6v17.8h-16.6zM610.9 2049.0h16.6v17.8h-16.6zM917.2 2049.0h16.6v17.8h-16.6zM974.6 2049.0h16.6v17.8h-16.6zM1089.4 2049.0h16.6v17.8h-16.6zM343.0 2069.3h16.6v17.8h-16.6zM496.1 2069.3h16.6v17.8h-16.6zM515.2 2069.3h16.6v17.8h-16.6zM840.6 2069.3h16.6v17.8h-16.6zM917.2 2069.3h16.6v17.8h-16.6zM955.4 2069.3h16.6v17.8h-16.6zM151.6 2089.6h16.6v17.8h-16.6zM706.6 2089.6h16.6v17.8h-16.6zM898.0 2089.6h16.6v17.8h-16.6zM362.1 2109.9h16.6v17.8h-16.6zM668.3 2109.9h16.6v17.8h-16.6zM706.6 2109.9h16.6v17.8h-16.6zM725.8 2109.9h16.6v17.8h-16.6zM744.9 2109.9h16.6v17.8h-16.6zM783.2 2109.9h16.6v17.8h-16.6zM898.0 2109.9h16.6v17.8h-16.6zM917.2 2109.9h16.6v17.8h-16.6zM993.7 2109.9h16.6v17.8h-16.6z"/>
<path fill="#ff9f78" d="M209.0 1114.2h16.6v17.8h-16.6zM323.8 1114.2h16.6v17.8h-16.6zM591.8 1114.2h16.6v17.8h-16.6zM630.0 1114.2h16.6v17.8h-16.6zM687.5 1114.2h16.6v17.8h-16.6zM974.6 1114.2h16.6v17.8h-16.6zM1012.9 1114.2h16.6v17.8h-16.6zM189.8 1134.6h16.6v17.8h-16.6zM304.7 1134.6h16.6v17.8h-16.6zM381.2 1134.6h16.6v17.8h-16.6zM438.7 1134.6h16.6v17.8h-16.6zM610.9 1134.6h16.6v17.8h-16.6zM649.2 1134.6h16.6v17.8h-16.6zM630.0 1154.9h16.6v17.8h-16.6zM1070.3 1154.9h16.6v17.8h-16.6zM228.1 1175.2h16.6v17.8h-16.6zM266.4 1175.2h16.6v17.8h-16.6zM591.8 1175.2h16.6v17.8h-16.6zM1032.0 1175.2h16.6v17.8h-16.6zM1051.1 1175.2h16.6v17.8h-16.6zM247.2 1195.5h16.6v17.8h-16.6zM591.8 1195.5h16.6v17.8h-16.6zM840.6 1195.5h16.6v17.8h-16.6zM1032.0 1195.5h16.6v17.8h-16.6zM553.5 1215.8h16.6v17.8h-16.6zM572.6 1215.8h16.6v17.8h-16.6zM706.6 1215.8h16.6v17.8h-16.6zM343.0 1236.2h16.6v17.8h-16.6zM400.4 1236.2h16.6v17.8h-16.6zM438.7 1236.2h16.6v17.8h-16.6zM457.8 1236.2h16.6v17.8h-16.6zM476.9 1236.2h16.6v17.8h-16.6zM591.8 1236.2h16.6v17.8h-16.6zM687.5 1236.2h16.6v17.8h-16.6zM744.9 1236.2h16.6v17.8h-16.6zM802.3 1236.2h16.6v17.8h-16.6zM1070.3 1236.2h16.6v17.8h-16.6zM170.7 1256.5h16.6v17.8h-16.6zM266.4 1256.5h16.6v17.8h-16.6zM381.2 1256.5h16.6v17.8h-16.6zM457.8 1256.5h16.6v17.8h-16.6zM572.6 1256.5h16.6v17.8h-16.6zM687.5 1256.5h16.6v17.8h-16.6zM993.7 1256.5h16.6v17.8h-16.6zM151.6 1276.8h16.6v17.8h-16.6zM381.2 1276.8h16.6v17.8h-16.6zM591.8 1276.8h16.6v17.8h-16.6zM668.3 1276.8h16.6v17.8h-16.6zM725.8 1276.8h16.6v17.8h-16.6zM476.9 1297.1h16.6v17.8h-16.6zM515.2 1297.1h16.6v17.8h-16.6zM687.5 1297.1h16.6v17.8h-16.6zM802.3 1297.1h16.6v17.8h-16.6zM917.2 1297.1h16.6v17.8h-16.6zM1070.3 1297.1h16.6v17.8h-16.6zM515.2 1317.5h16.6v17.8h-16.6zM591.8 1317.5h16.6v17.8h-16.6zM821.5 1317.5h16.6v17.8h-16.6zM859.7 1317.5h16.6v17.8h-16.6zM1051.1 1317.5h16.6v17.8h-16.6zM323.8 1337.8h16.6v17.8h-16.6zM438.7 1337.8h16.6v17.8h-16.6zM476.9 1337.8h16.6v17.8h-16.6zM534.4 1337.8h16.6v17.8h-16.6zM649.2 1337.8h16.6v17.8h-16.6zM802.3 1337.8h16.6v17.8h-16.6zM821.5 1337.8h16.6v17.8h-16.6zM878.9 1337.8h16.6v17.8h-16.6zM936.3 1337.8h16.6v17.8h-16.6zM1070.3 1337.8h16.6v17.8h-16.6zM553.5 1358.1h16.6v17.8h-16.6zM668.3 1358.1h16.6v17.8h-16.6zM744.9 1358.1h16.6v17.8h-16.6zM898.0 1358.1h16.6v17.8h-16.6zM304.7 1378.4h16.6v17.8h-16.6zM476.9 1378.4h16.6v17.8h-16.6zM821.5 1378.4h16.6v17.8h-16.6zM151.6 1398.7h16.6v17.8h-16.6zM515.2 1398.7h16.6v17.8h-16.6zM764.0 1398.7h16.6v17.8h-16.6zM668.3 1419.0h16.6v17.8h-16.6zM706.6 1419.0h16.6v17.8h-16.6zM840.6 1419.0h16.6v17.8h-16.6zM1032.0 1419.0h16.6v17.8h-16.6zM1070.3 1419.0h16.6v17.8h-16.6zM285.5 1439.4h16.6v17.8h-16.6zM668.3 1439.4h16.6v17.8h-16.6zM802.3 1439.4h16.6v17.8h-16.6zM878.9 1439.4h16.6v17.8h-16.6zM1051.1 1439.4h16.6v17.8h-16.6zM209.0 1459.7h16.6v17.8h-16.6zM247.2 1459.7h16.6v17.8h-16.6zM438.7 1459.7h16.6v17.8h-16.6zM476.9 1459.7h16.6v17.8h-16.6zM591.8 1459.7h16.6v17.8h-16.6zM821.5 1459.7h16.6v17.8h-16.6zM840.6 1459.7h16.6v17.8h-16.6zM515.2 1480.0h16.6v17.8h-16.6zM534.4 1480.0h16.6v17.8h-16.6zM553.5 1480.0h16.6v17.8h-16.6zM725.8 1480.0h16.6v17.8h-16.6zM840.6 1480.0h16.6v17.8h-16.6zM917.2 1480.0h16.6v17.8h-16.6zM993.7 1480.0h16.6v17.8h-16.6zM228.1 1500.3h16.6v17.8h-16.6zM343.0 1500.3h16.6v17.8h-16.6zM534.4 1500.3h16.6v17.8h-16.6zM476.9 1520.7h16.6v17.8h-16.6zM496.1 1520.7h16.6v17.8h-16.6zM687.5 1520.7h16.6v17.8h-16.6zM744.9 1520.7h16.6v17.8h-16.6zM802.3 1520.7h16.6v17.8h-16.6zM438.7 1541.0h16.6v17.8h-16.6zM457.8 1541.0h16.6v17.8h-16.6zM553.5 1541.0h16.6v17.8h-16.6zM725.8 1541.0h16.6v17.8h-16.6zM974.6 1541.0h16.6v17.8h-16.6zM993.7 1541.0h16.6v17.8h-16.6zM1070.3 1541.0h16.6v17.8h-16.6zM362.1 1561.3h16.6v17.8h-16.6zM400.4 1561.3h16.6v17.8h-16.6zM419.5 1561.3h16.6v17.8h-16.6zM610.9 1561.3h16.6v17.8h-16.6zM668.3 1561.3h16.6v17.8h-16.6zM706.6 1561.3h16.6v17.8h-16.6zM725.8 1561.3h16.6v17.8h-16.6zM859.7 1561.3h16.6v17.8h-16.6zM993.7 1561.3h16.6v17.8h-16.6zM189.8 1581.6h16.6v17.8h-16.6zM228.1 1581.6h16.6v17.8h-16.6zM266.4 1581.6h16.6v17.8h-16.6zM362.1 1581.6h16.6v17.8h-16.6zM534.4 1581.6h16.6v17.8h-16.6zM572.6 1581.6h16.6v17.8h-16.6zM725.8 1581.6h16.6v17.8h-16.6zM744.9 1581.6h16.6v17.8h-16.6zM840.6 1581.6h16.6v17.8h-16.6zM170.7 1601.9h16.6v17.8h-16.6zM209.0 1601.9h16.6v17.8h-16.6zM438.7 1601.9h16.6v17.8h-16.6zM878.9 1601.9h16.6v17.8h-16.6zM917.2 1601.9h16.6v17.8h-16.6zM1070.3 1601.9h16.6v17.8h-16.6zM343.0 1622.2h16.6v17.8h-16.6zM553.5 1622.2h16.6v17.8h-16.6zM993.7 1622.2h16.6v17.8h-16.6zM1070.3 1622.2h16.6v17.8h-16.6zM266.4 1642.6h16.6v17.8h-16.6zM285.5 1642.6h16.6v17.8h-16.6zM610.9 1642.6h16.6v17.8h-16.6zM591.8 1662.9h16.6v17.8h-16.6zM783.2 1662.9h16.6v17.8h-16.6zM802.3 1662.9h16.6v17.8h-16.6zM1089.4 1662.9h16.6v17.8h-16.6zM170.7 1683.2h16.6v17.8h-16.6zM304.7 1683.2h16.6v17.8h-16.6zM438.7 1683.2h16.6v17.8h-16.6zM878.9 1683.2h16.6v17.8h-16.6zM974.6 1683.2h16.6v17.8h-16.6zM266.4 1703.5h16.6v17.8h-16.6zM285.5 1703.5h16.6v17.8h-16.6zM419.5 1703.5h16.6v17.8h-16.6zM476.9 1703.5h16.6v17.8h-16.6zM764.0 1703.5h16.6v17.8h-16.6zM917.2 1703.5h16.6v17.8h-16.6zM936.3 1703.5h16.6v17.8h-16.6zM1051.1 1703.5h16.6v17.8h-16.6zM343.0 1723.8h16.6v17.8h-16.6zM400.4 1723.8h16.6v17.8h-16.6zM534.4 1723.8h16.6v17.8h-16.6zM1012.9 1723.8h16.6v17.8h-16.6zM438.7 1744.2h16.6v17.8h-16.6zM457.8 1744.2h16.6v17.8h-16.6zM534.4 1744.2h16.6v17.8h-16.6zM687.5 1744.2h16.6v17.8h-16.6zM859.7 1744.2h16.6v17.8h-16.6zM247.2 1764.5h16.6v17.8h-16.6zM381.2 1764.5h16.6v17.8h-16.6zM630.0 1764.5h16.6v17.8h-16.6zM878.9 1764.5h16.6v17.8h-16.6zM1051.1 1764.5h16.6v17.8h-16.6zM1070.3 1764.5h16.6v17.8h-16.6zM400.4 1784.8h16.6v17.8h-16.6zM515.2 1784.8h16.6v17.8h-16.6zM591.8 1784.8h16.6v17.8h-16.6zM610.9 1784.8h16.6v17.8h-16.6zM744.9 1784.8h16.6v17.8h-16.6zM859.7 1784.8h16.6v17.8h-16.6zM993.7 1784.8h16.6v17.8h-16.6zM419.5 1805.1h16.6v17.8h-16.6zM476.9 1805.1h16.6v17.8h-16.6zM496.1 1805.1h16.6v17.8h-16.6zM534.4 1805.1h16.6v17.8h-16.6zM572.6 1805.1h16.6v17.8h-16.6zM725.8 1805.1h16.6v17.8h-16.6zM764.0 1805.1h16.6v17.8h-16.6zM821.5 1805.1h16.6v17.8h-16.6zM285.5 1825.5h16.6v17.8h-16.6zM496.1 1825.5h16.6v17.8h-16.6zM821.5 1825.5h16.6v17.8h-16.6zM974.6 1825.5h16.6v17.8h-16.6zM993.7 1825.5h16.6v17.8h-16.6zM247.2 1845.8h16.6v17.8h-16.6zM285.5 1845.8h16.6v17.8h-16.6zM419.5 1845.8h16.6v17.8h-16.6zM630.0 1845.8h16.6v17.8h-16.6zM898.0 1845.8h16.6v17.8h-16.6zM266.4 1866.1h16.6v17.8h-16.6zM285.5 1866.1h16.6v17.8h-16.6zM400.4 1866.1h16.6v17.8h-16.6zM821.5 1866.1h16.6v17.8h-16.6zM840.6 1866.1h16.6v17.8h-16.6zM170.7 1886.4h16.6v17.8h-16.6zM343.0 1886.4h16.6v17.8h-16.6zM381.2 1886.4h16.6v17.8h-16.6zM457.8 1886.4h16.6v17.8h-16.6zM783.2 1886.4h16.6v17.8h-16.6zM515.2 1906.7h16.6v17.8h-16.6zM534.4 1906.7h16.6v17.8h-16.6zM572.6 1906.7h16.6v17.8h-16.6zM1051.1 1906.7h16.6v17.8h-16.6zM285.5 1927.0h16.6v17.8h-16.6zM630.0 1927.0h16.6v17.8h-16.6zM764.0 1927.0h16.6v17.8h-16.6zM802.3 1927.0h16.6v17.8h-16.6zM1012.9 1927.0h16.6v17.8h-16.6zM247.2 1947.4h16.6v17.8h-16.6zM285.5 1947.4h16.6v17.8h-16.6zM419.5 1947.4h16.6v17.8h-16.6zM630.0 1947.4h16.6v17.8h-16.6zM898.0 1947.4h16.6v17.8h-16.6zM209.0 1967.7h16.6v17.8h-16.6zM381.2 1967.7h16.6v17.8h-16.6zM438.7 1967.7h16.6v17.8h-16.6zM591.8 1967.7h16.6v17.8h-16.6zM630.0 1967.7h16.6v17.8h-16.6zM764.0 1967.7h16.6v17.8h-16.6zM209.0 1988.0h16.6v17.8h-16.6zM247.2 1988.0h16.6v17.8h-16.6zM400.4 1988.0h16.6v17.8h-16.6zM419.5 1988.0h16.6v17.8h-16.6zM534.4 1988.0h16.6v17.8h-16.6zM917.2 1988.0h16.6v17.8h-16.6zM936.3 1988.0h16.6v17.8h-16.6zM1089.4 1988.0h16.6v17.8h-16.6zM534.4 2008.3h16.6v17.8h-16.6zM898.0 2008.3h16.6v17.8h-16.6zM974.6 2008.3h16.6v17.8h-16.6zM1032.0 2008.3h16.6v17.8h-16.6zM1070.3 2008.3h16.6v17.8h-16.6zM247.2 2028.7h16.6v17.8h-16.6zM591.8 2028.7h16.6v17.8h-16.6zM840.6 2028.7h16.6v17.8h-16.6zM1032.0 2028.7h16.6v17.8h-16.6zM151.6 2049.0h16.6v17.8h-16.6zM323.8 2049.0h16.6v17.8h-16.6zM343.0 2049.0h16.6v17.8h-16.6zM534.4 2049.0h16.6v17.8h-16.6zM706.6 2049.0h16.6v17.8h-16.6zM764.0 2049.0h16.6v17.8h-16.6zM783.2 2049.0h16.6v17.8h-16.6zM802.3 2049.0h16.6v17.8h-16.6zM840.6 2049.0h16.6v17.8h-16.6zM266.4 2069.3h16.6v17.8h-16.6zM381.2 2069.3h16.6v17.8h-16.6zM419.5 2069.3h16.6v17.8h-16.6zM534.4 2069.3h16.6v17.8h-16.6zM974.6 2069.3h16.6v17.8h-16.6zM993.7 2069.3h16.6v17.8h-16.6zM170.7 2089.6h16.6v17.8h-16.6zM400.4 2089.6h16.6v17.8h-16.6zM534.4 2089.6h16.6v17.8h-16.6zM764.0 2089.6h16.6v17.8h-16.6zM974.6 2089.6h16.6v17.8h-16.6zM323.8 2109.9h16.6v17.8h-16.6z"/>
<path fill="#ff8772" d="M381.2 1114.2h16.6v17.8h-16.6zM706.6 1114.2h16.6v17.8h-16.6zM783.2 1114.2h16.6v17.8h-16.6zM859.7 1114.2h16.6v17.8h-16.6zM878.9 1114.2h16.6v17.8h-16.6zM936.3 1114.2h16.6v17.8h-16.6zM170.7 1134.6h16.6v17.8h-16.6zM228.1 1134.6h16.6v17.8h-16.6zM285.5 1134.6h16.6v17.8h-16.6zM783.2 1134.6h16.6v17.8h-16.6zM878.9 1134.6h16.6v17.8h-16.6zM151.6 1154.9h16.6v17.8h-16.6zM534.4 1154.9h16.6v17.8h-16.6zM783.2 1154.9h16.6v17.8h-16.6zM1012.9 1154.9h16.6v17.8h-16.6zM170.7 1175.2h16.6v17.8h-16.6zM515.2 1175.2h16.6v17.8h-16.6zM610.9 1175.2h16.6v17.8h-16.6zM630.0 1175.2h16.6v17.8h-16.6zM725.8 1175.2h16.6v17.8h-16.6zM744.9 1175.2h16.6v17.8h-16.6zM783.2 1175.2h16.6v17.8h-16.6zM936.3 1175.2h16.6v17.8h-16.6zM572.6 1195.5h16.6v17.8h-16.6zM610.9 1195.5h16.6v17.8h-16.6zM936.3 1195.5h16.6v17.8h-16.6zM266.4 1215.8h16.6v17.8h-16.6zM343.0 1215.8h16.6v17.8h-16.6zM610.9 1215.8h16.6v17.8h-16.6zM649.2 1215.8h16.6v17.8h-16.6zM744.9 1215.8h16.6v17.8h-16.6zM668.3 1236.2h16.6v17.8h-16.6zM821.5 1236.2h16.6v17.8h-16.6zM917.2 1236.2h16.6v17.8h-16.6zM438.7 1256.5h16.6v17.8h-16.6zM534.4 1256.5h16.6v17.8h-16.6zM744.9 1256.5h16.6v17.8h-16.6zM840.6 1256.5h16.6v17.8h-16.6zM859.7 1256.5h16.6v17.8h-16.6zM1012.9 1256.5h16.6v17.8h-16.6zM189.8 1276.8h16.6v17.8h-16.6zM343.0 1276.8h16.6v17.8h-16.6zM476.9 1276.8h16.6v17.8h-16.6zM630.0 1276.8h16.6v17.8h-16.6zM706.6 1276.8h16.6v17.8h-16.6zM783.2 1276.8h16.6v17.8h-16.6zM821.5 1276.8h16.6v17.8h-16.6zM898.0 1276.8h16.6v17.8h-16.6zM917.2 1276.8h16.6v17.8h-16.6zM1012.9 1276.8h16.6v17.8h-16.6zM170.7 1297.1h16.6v17.8h-16.6zM285.5 1297.1h16.6v17.8h-16.6zM400.4 1297.1h16.6v17.8h-16.6zM591.8 1297.1h16.6v17.8h-16.6zM304.7 1317.5h16.6v17.8h-16.6zM687.5 1317.5h16.6v17.8h-16.6zM898.0 1317.5h16.6v17.8h-16.6zM917.2 1317.5h16.6v17.8h-16.6zM1012.9 1317.5h16.6v17.8h-16.6zM266.4 1337.8h16.6v17.8h-16.6zM457.8 1337.8h16.6v17.8h-16.6zM515.2 1337.8h16.6v17.8h-16.6zM591.8 1337.8h16.6v17.8h-16.6zM630.0 1337.8h16.6v17.8h-16.6zM974.6 1337.8h16.6v17.8h-16.6zM649.2 1358.1h16.6v17.8h-16.6zM725.8 1358.1h16.6v17.8h-16.6zM783.2 1358.1h16.6v17.8h-16.6zM1012.9 1358.1h16.6v17.8h-16.6zM381.2 1378.4h16.6v17.8h-16.6zM400.4 1378.4h16.6v17.8h-16.6zM457.8 1378.4h16.6v17.8h-16.6zM515.2 1378.4h16.6v17.8h-16.6zM591.8 1378.4h16.6v17.8h-16.6zM610.9 1378.4h16.6v17.8h-16.6zM725.8 1378.4h16.6v17.8h-16.6zM764.0 1378.4h16.6v17.8h-16.6zM1012.9 1378.4h16.6v17.8h-16.6zM209.0 1398.7h16.6v17.8h-16.6zM247.2 1398.7h16.6v17.8h-16.6zM457.8 1398.7h16.6v17.8h-16.6zM496.1 1398.7h16.6v17.8h-16.6zM572.6 1398.7h16.6v17.8h-16.6zM649.2 1398.7h16.6v17.8h-16.6zM917.2 1398.7h16.6v17.8h-16.6zM266.4 1419.0h16.6v17.8h-16.6zM323.8 1419.0h16.6v17.8h-16.6zM744.9 1419.0h16.6v17.8h-16.6zM898.0 1419.0h16.6v17.8h-16.6zM917.2 1419.0h16.6v17.8h-16.6zM209.0 1439.4h16.6v17.8h-16.6zM304.7 1439.4h16.6v17.8h-16.6zM515.2 1439.4h16.6v17.8h-16.6zM572.6 1439.4h16.6v17.8h-16.6zM898.0 1439.4h16.6v17.8h-16.6zM323.8 1459.7h16.6v17.8h-16.6zM610.9 1459.7h16.6v17.8h-16.6zM687.5 1459.7h16.6v17.8h-16.6zM706.6 1459.7h16.6v17.8h-16.6zM974.6 1459.7h16.6v17.8h-16.6zM1012.9 1459.7h16.6v17.8h-16.6zM1032.0 1459.7h16.6v17.8h-16.6zM1089.4 1459.7h16.6v17.8h-16.6zM209.0 1480.0h16.6v17.8h-16.6zM591.8 1480.0h16.6v17.8h-16.6zM859.7 1480.0h16.6v17.8h-16.6zM457.8 1500.3h16.6v17.8h-16.6zM496.1 1500.3h16.6v17.8h-16.6zM668.3 1500.3h16.6v17.8h-16.6zM764.0 1500.3h16.6v17.8h-16.6zM802.3 1500.3h16.6v17.8h-16.6zM859.7 1500.3h16.6v17.8h-16.6zM1012.9 1500.3h16.6v17.8h-16.6zM1070.3 1500.3h16.6v17.8h-16.6zM821.5 1520.7h16.6v17.8h-16.6zM974.6 1520.7h16.6v17.8h-16.6zM304.7 1541.0h16.6v17.8h-16.6zM534.4 1541.0h16.6v17.8h-16.6zM610.9 1541.0h16.6v17.8h-16.6zM764.0 1541.0h16.6v17.8h-16.6zM821.5 1541.0h16.6v17.8h-16.6zM859.7 1541.0h16.6v17.8h-16.6zM1051.1 1541.0h16.6v17.8h-16.6zM381.2 1561.3h16.6v17.8h-16.6zM821.5 1561.3h16.6v17.8h-16.6zM840.6 1561.3h16.6v17.8h-16.6zM381.2 1581.6h16.6v17.8h-16.6zM706.6 1581.6h16.6v17.8h-16.6zM859.7 1581.6h16.6v17.8h-16.6zM878.9 1581.6h16.6v17.8h-16.6zM247.2 1601.9h16.6v17.8h-16.6zM457.8 1601.9h16.6v17.8h-16.6zM668.3 1601.9h16.6v17.8h-16.6zM821.5 1601.9h16.6v17.8h-16.6zM266.4 1622.2h16.6v17.8h-16.6zM323.8 1622.2h16.6v17.8h-16.6zM362.1 1622.2h16.6v17.8h-16.6zM572.6 1622.2h16.6v17.8h-16.6zM151.6 1642.6h16.6v17.8h-16.6zM247.2 1642.6h16.6v17.8h-16.6zM343.0 1642.6h16.6v17.8h-16.6zM515.2 1642.6h16.6v17.8h-16.6zM687.5 1642.6h16.6v17.8h-16.6zM783.2 1642.6h16.6v17.8h-16.6zM936.3 1642.6h16.6v17.8h-16.6zM974.6 1642.6h16.6v17.8h-16.6zM304.7 1662.9h16.6v17.8h-16.6zM362.1 1662.9h16.6v17.8h-16.6zM610.9 1662.9h16.6v17.8h-16.6zM764.0 1662.9h16.6v17.8h-16.6zM974.6 1662.9h16.6v17.8h-16.6zM151.6 1683.2h16.6v17.8h-16.6zM247.2 1683.2h16.6v17.8h-16.6zM457.8 1683.2h16.6v17.8h-16.6zM553.5 1683.2h16.6v17.8h-16.6zM687.5 1683.2h16.6v17.8h-16.6zM821.5 1683.2h16.6v17.8h-16.6zM1070.3 1683.2h16.6v17.8h-16.6zM170.7 1703.5h16.6v17.8h-16.6zM189.8 1703.5h16.6v17.8h-16.6zM821.5 1703.5h16.6v17.8h-16.6zM228.1 1723.8h16.6v17.8h-16.6zM323.8 1723.8h16.6v17.8h-16.6zM630.0 1723.8h16.6v17.8h-16.6zM744.9 1723.8h16.6v17.8h-16.6zM783.2 1723.8h16.6v17.8h-16.6zM802.3 1723.8h16.6v17.8h-16.6zM898.0 1723.8h16.6v17.8h-16.6zM209.0 1744.2h16.6v17.8h-16.6zM323.8 1744.2h16.6v17.8h-16.6zM917.2 1744.2h16.6v17.8h-16.6zM189.8 1764.5h16.6v17.8h-16.6zM228.1 1764.5h16.6v17.8h-16.6zM438.7 1764.5h16.6v17.8h-16.6zM496.1 1764.5h16.6v17.8h-16.6zM591.8 1764.5h16.6v17.8h-16.6zM1032.0 1764.5h16.6v17.8h-16.6zM170.7 1784.8h16.6v17.8h-16.6zM209.0 1784.8h16.6v17.8h-16.6zM247.2 1784.8h16.6v17.8h-16.6zM362.1 1784.8h16.6v17.8h-16.6zM706.6 1784.8h16.6v17.8h-16.6zM362.1 1805.1h16.6v17.8h-16.6zM859.7 1805.1h16.6v17.8h-16.6zM917.2 1805.1h16.6v17.8h-16.6zM974.6 1805.1h16.6v17.8h-16.6zM1012.9 1805.1h16.6v17.8h-16.6zM170.7 1825.5h16.6v17.8h-16.6zM189.8 1825.5h16.6v17.8h-16.6zM247.2 1825.5h16.6v17.8h-16.6zM438.7 1825.5h16.6v17.8h-16.6zM610.9 1825.5h16.6v17.8h-16.6zM764.0 1825.5h16.6v17.8h-16.6zM687.5 1845.8h16.6v17.8h-16.6zM974.6 1845.8h16.6v17.8h-16.6zM438.7 1866.1h16.6v17.8h-16.6zM878.9 1866.1h16.6v17.8h-16.6zM936.3 1866.1h16.6v17.8h-16.6zM304.7 1886.4h16.6v17.8h-16.6zM419.5 1886.4h16.6v17.8h-16.6zM438.7 1886.4h16.6v17.8h-16.6zM304.7 1906.7h16.6v17.8h-16.6zM476.9 1906.7h16.6v17.8h-16.6zM496.1 1906.7h16.6v17.8h-16.6zM553.5 1906.7h16.6v17.8h-16.6zM1032.0 1906.7h16.6v17.8h-16.6zM1070.3 1906.7h16.6v17.8h-16.6zM438.7 1927.0h16.6v17.8h-16.6zM783.2 1927.0h16.6v17.8h-16.6zM859.7 1927.0h16.6v17.8h-16.6zM687.5 1947.4h16.6v17.8h-16.6zM974.6 1947.4h16.6v17.8h-16.6zM266.4 1967.7h16.6v17.8h-16.6zM457.8 1967.7h16.6v17.8h-16.6zM476.9 1967.7h16.6v17.8h-16.6zM515.2 1967.7h16.6v17.8h-16.6zM668.3 1967.7h16.6v17.8h-16.6zM878.9 1967.7h16.6v17.8h-16.6zM993.7 1967.7h16.6v17.8h-16.6zM1070.3 1967.7h16.6v17.8h-16.6zM438.7 1988.0h16.6v17.8h-16.6zM476.9 1988.0h16.6v17.8h-16.6zM687.5 1988.0h16.6v17.8h-16.6zM898.0 1988.0h16.6v17.8h-16.6zM1070.3 1988.0h16.6v17.8h-16.6zM438.7 2008.3h16.6v17.8h-16.6zM553.5 2008.3h16.6v17.8h-16.6zM610.9 2008.3h16.6v17.8h-16.6zM668.3 2008.3h16.6v17.8h-16.6zM840.6 2008.3h16.6v17.8h-16.6zM917.2 2008.3h16.6v17.8h-16.6zM572.6 2028.7h16.6v17.8h-16.6zM610.9 2028.7h16.6v17.8h-16.6zM936.3 2028.7h16.6v17.8h-16.6zM304.7 2049.0h16.6v17.8h-16.6zM668.3 2049.0h16.6v17.8h-16.6zM725.8 2049.0h16.6v17.8h-16.6zM744.9 2049.0h16.6v17.8h-16.6zM993.7 2049.0h16.6v17.8h-16.6zM936.3 2069.3h16.6v17.8h-16.6zM1089.4 2069.3h16.6v17.8h-16.6zM285.5 2089.6h16.6v17.8h-16.6zM438.7 2089.6h16.6v17.8h-16.6zM725.8 2089.6h16.6v17.8h-16.6zM878.9 2089.6h16.6v17.8h-16.6zM1089.4 2089.6h16.6v17.8h-16.6zM343.0 2109.9h16.6v17.8h-16.6zM381.2 2109.9h16.6v17.8h-16.6zM821.5 2109.9h16.6v17.8h-16.6zM936.3 2109.9h16.6v17.8h-16.6z"/>
<path fill="#ff6b6b" d="M228.1 1114.2h16.6v17.8h-16.6zM419.5 1114.2h16.6v17.8h-16.6zM476.9 1114.2h16.6v17.8h-16.6zM610.9 1114.2h16.6v17.8h-16.6zM170.7 1154.9h16.6v17.8h-16.6zM687.5 1154.9h16.6v17.8h-16.6zM821.5 1154.9h16.6v17.8h-16.6zM362.1 1175.2h16.6v17.8h-16.6zM400.4 1195.5h16.6v17.8h-16.6zM170.7 1215.8h16.6v17.8h-16.6zM974.6 1236.2h16.6v17.8h-16.6zM343.0 1256.5h16.6v17.8h-16.6zM496.1 1256.5h16.6v17.8h-16.6zM553.5 1256.5h16.6v17.8h-16.6zM706.6 1256.5h16.6v17.8h-16.6zM1089.4 1256.5h16.6v17.8h-16.6zM457.8 1276.8h16.6v17.8h-16.6zM1032.0 1276.8h16.6v17.8h-16.6zM649.2 1297.1h16.6v17.8h-16.6zM974.6 1297.1h16.6v17.8h-16.6zM744.9 1317.5h16.6v17.8h-16.6zM247.2 1337.8h16.6v17.8h-16.6zM419.5 1358.1h16.6v17.8h-16.6zM170.7 1378.4h16.6v17.8h-16.6zM572.6 1378.4h16.6v17.8h-16.6zM285.5 1398.7h16.6v17.8h-16.6zM553.5 1398.7h16.6v17.8h-16.6zM840.6 1398.7h16.6v17.8h-16.6zM170.7 1419.0h16.6v17.8h-16.6zM189.8 1439.4h16.6v17.8h-16.6zM343.0 1439.4h16.6v17.8h-16.6zM783.2 1459.7h16.6v17.8h-16.6zM993.7 1459.7h16.6v17.8h-16.6zM878.9 1480.0h16.6v17.8h-16.6zM285.5 1500.3h16.6v17.8h-16.6zM438.7 1520.7h16.6v17.8h-16.6zM993.7 1520.7h16.6v17.8h-16.6zM189.8 1541.0h16.6v17.8h-16.6zM630.0 1541.0h16.6v17.8h-16.6zM438.7 1561.3h16.6v17.8h-16.6zM553.5 1561.3h16.6v17.8h-16.6zM764.0 1561.3h16.6v17.8h-16.6zM802.3 1561.3h16.6v17.8h-16.6zM1070.3 1561.3h16.6v17.8h-16.6zM170.7 1581.6h16.6v17.8h-16.6zM917.2 1581.6h16.6v17.8h-16.6zM974.6 1601.9h16.6v17.8h-16.6zM764.0 1622.2h16.6v17.8h-16.6zM419.5 1642.6h16.6v17.8h-16.6zM1032.0 1642.6h16.6v17.8h-16.6zM1070.3 1642.6h16.6v17.8h-16.6zM725.8 1683.2h16.6v17.8h-16.6zM744.9 1683.2h16.6v17.8h-16.6zM496.1 1703.5h16.6v17.8h-16.6zM936.3 1723.8h16.6v17.8h-16.6zM285.5 1744.2h16.6v17.8h-16.6zM476.9 1744.2h16.6v17.8h-16.6zM170.7 1764.5h16.6v17.8h-16.6zM209.0 1764.5h16.6v17.8h-16.6zM687.5 1764.5h16.6v17.8h-16.6zM228.1 1784.8h16.6v17.8h-16.6zM553.5 1784.8h16.6v17.8h-16.6zM917.2 1784.8h16.6v17.8h-16.6zM381.2 1805.1h16.6v17.8h-16.6zM649.2 1805.1h16.6v17.8h-16.6zM936.3 1805.1h16.6v17.8h-16.6zM457.8 1845.8h16.6v17.8h-16.6zM591.8 1845.8h16.6v17.8h-16.6zM1012.9 1845.8h16.6v17.8h-16.6zM764.0 1866.1h16.6v17.8h-16.6zM323.8 1886.4h16.6v17.8h-16.6zM553.5 1886.4h16.6v17.8h-16.6zM917.2 1886.4h16.6v17.8h-16.6zM783.2 1906.7h16.6v17.8h-16.6zM1012.9 1906.7h16.6v17.8h-16.6zM457.8 1947.4h16.6v17.8h-16.6zM591.8 1947.4h16.6v17.8h-16.6zM1012.9 1947.4h16.6v17.8h-16.6zM247.2 1967.7h16.6v17.8h-16.6zM323.8 1967.7h16.6v17.8h-16.6zM496.1 1967.7h16.6v17.8h-16.6zM649.2 1967.7h16.6v17.8h-16.6zM955.4 1967.7h16.6v17.8h-16.6zM151.6 2008.3h16.6v17.8h-16.6zM649.2 2008.3h16.6v17.8h-16.6zM1089.4 2008.3h16.6v17.8h-16.6zM400.4 2028.7h16.6v17.8h-16.6zM285.5 2049.0h16.6v17.8h-16.6zM515.2 2049.0h16.6v17.8h-16.6zM859.7 2049.0h16.6v17.8h-16.6zM878.9 2049.0h16.6v17.8h-16.6zM457.8 2069.3h16.6v17.8h-16.6zM725.8 2069.3h16.6v17.8h-16.6zM1012.9 2069.3h16.6v17.8h-16.6zM783.2 2089.6h16.6v17.8h-16.6zM993.7 2089.6h16.6v17.8h-16.6zM151.6 2109.9h16.6v17.8h-16.6zM1032.0 2109.9h16.6v17.8h-16.6z"/>
<rect x="592.2" y="1005.8" width="76.9" height="62" fill="#fff"/>
<rect x="590.1" y="2069.5" width="72" height="61" fill="#fff"/>
<rect x="1195.5" y="647.0" width="90.1" height="881.8" fill="#000"/>
<rect x="1197.8" y="649.2" width="85.5" height="80.8" fill="#ff6b6b"/>
<text class="cb" x="1240.5" y="702.0" text-anchor="middle" textLength="40" lengthAdjust="spacingAndGlyphs">1.0</text>
<rect x="1197.8" y="732.2" width="85.5" height="81.9" fill="#ff8772"/>
<text class="cb" x="1240.5" y="786.1" text-anchor="middle" textLength="40" lengthAdjust="spacingAndGlyphs">0.9</text>
<rect x="1197.8" y="816.2" width="85.5" height="81.9" fill="#ff9f78"/>
<text class="cb" x="1240.5" y="870.2" text-anchor="middle" textLength="40" lengthAdjust="spacingAndGlyphs">0.8</text>
<rect x="1197.8" y="900.3" width="85.5" height="81.9" fill="#ffb97c"/>
<text class="cb" x="1240.5" y="954.2" text-anchor="middle" textLength="40" lengthAdjust="spacingAndGlyphs">0.7</text>
<rect x="1197.8" y="984.3" width="85.5" height="81.9" fill="#ffd280"/>
<text class="cb" x="1240.5" y="1038.3" text-anchor="middle" textLength="40" lengthAdjust="spacingAndGlyphs">0.6</text>
<rect x="1197.8" y="1068.4" width="85.5" height="81.9" fill="#fdea82"/>
<text class="cb" x="1240.5" y="1122.3" text-anchor="middle" textLength="40" lengthAdjust="spacingAndGlyphs">0.5</text>
<rect x="1197.8" y="1152.5" width="85.5" height="81.9" fill="#e0e383"/>
<text class="cb" x="1240.5" y="1206.4" text-anchor="middle" textLength="40" lengthAdjust="spacingAndGlyphs">0.4</text>
<rect x="1197.8" y="1236.5" width="85.5" height="81.9" fill="#b8da7e"/>
<text class="cb" x="1240.5" y="1290.5" text-anchor="middle" textLength="40" lengthAdjust="spacingAndGlyphs">0.3</text>
<rect x="1197.8" y="1320.6" width="85.5" height="81.9" fill="#8bd27d"/>
<text class="cb" x="1240.5" y="1374.5" text-anchor="middle" textLength="40" lengthAdjust="spacingAndGlyphs">0.2</text>
<rect x="1197.8" y="1404.6" width="85.5" height="61.1" fill="#52c87b"/>
<text class="cb" x="1240.5" y="1448.2" text-anchor="middle" textLength="40" lengthAdjust="spacingAndGlyphs">0.1</text>
<rect x="1197.8" y="1467.9" width="85.5" height="58.5" fill="#00bf78"/>
<text class="cb" x="1240.5" y="1510.8" text-anchor="middle" textLength="40" lengthAdjust="spacingAndGlyphs">0.0</text>
<text x="93.6" y="64.5" font-size="54" style="font-family:'DejaVu Sans',sans-serif" textLength="33" lengthAdjust="spacingAndGlyphs">1</text>
<text class="s" x="69" y="1074.3" font-size="58" text-anchor="start" textLength="59" lengthAdjust="spacingAndGlyphs">50</text>
<text x="92.4" y="1128" font-size="54" style="font-family:'DejaVu Sans',sans-serif" textLength="33" lengthAdjust="spacingAndGlyphs">1</text>
<text class="s" x="67" y="2139.4" font-size="58" text-anchor="start" textLength="59" lengthAdjust="spacingAndGlyphs">50</text>
<text x="130.5" y="2198.6" font-size="54" style="font-family:'DejaVu Sans',sans-serif" textLength="33" lengthAdjust="spacingAndGlyphs">1</text>
<text class="s" x="1074.5" y="2188.7" font-size="58" text-anchor="start" textLength="59" lengthAdjust="spacingAndGlyphs">50</text>
<text class="s" x="299" y="2236" font-size="56" text-anchor="start" textLength="690" lengthAdjust="spacingAndGlyphs">50 Beam Directions per Scene</text>
<text class="s" x="0" y="0" font-size="56" text-anchor="start" textLength="698" lengthAdjust="spacingAndGlyphs" transform="translate(65,882) rotate(-90)">50 Successive Earth Scenes</text>
<text class="s" x="0" y="0" font-size="56" text-anchor="start" textLength="690" lengthAdjust="spacingAndGlyphs" transform="translate(62.6,1939) rotate(-90)">50 Successive Earth Scenes</text>
<text class="s" x="600" y="1057.5" font-size="60" text-anchor="start" textLength="61.5" lengthAdjust="spacingAndGlyphs">(a)</text>
<text class="s" x="597.5" y="2118" font-size="60" text-anchor="start" textLength="61.5" lengthAdjust="spacingAndGlyphs">(b)</text>
<text class="serif" x="1202" y="1605" font-size="54" text-anchor="start" textLength="82" lengthAdjust="spacingAndGlyphs">a.u.</text>
</svg>
</body></html>
